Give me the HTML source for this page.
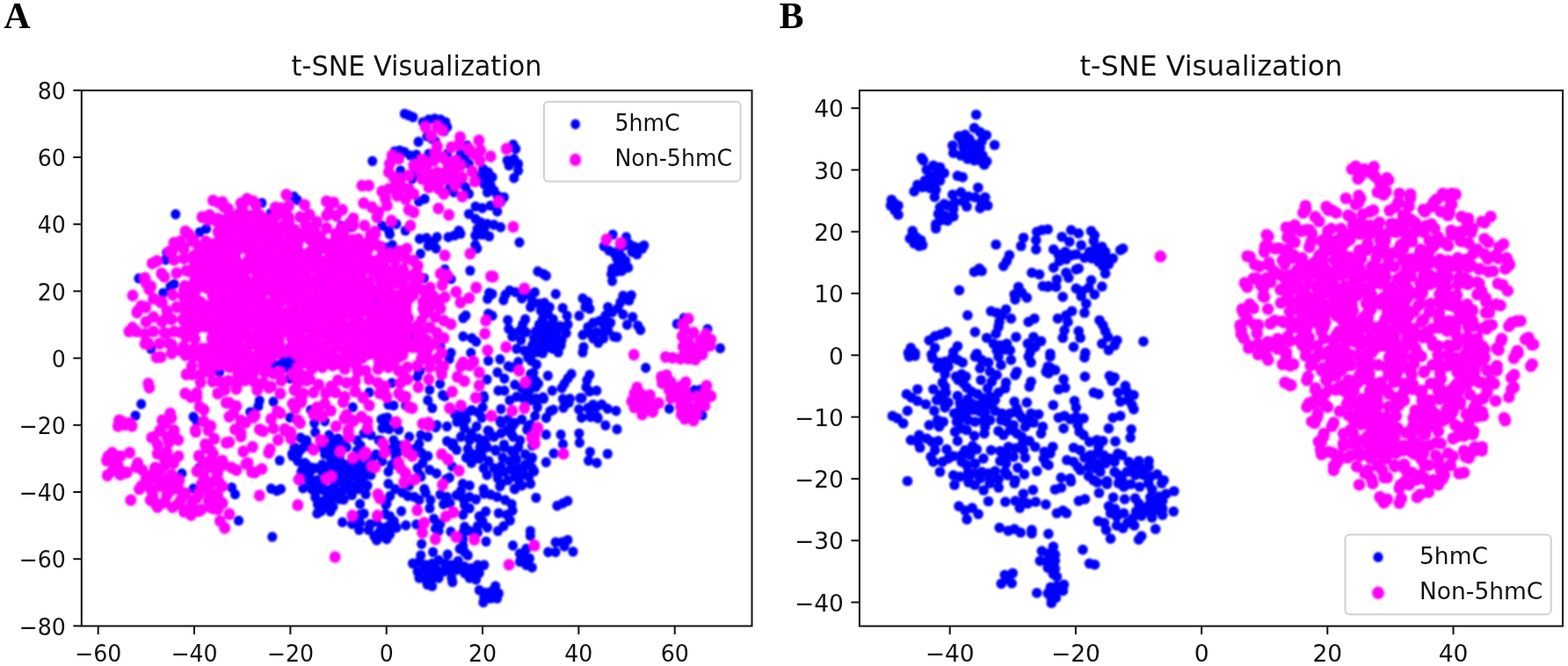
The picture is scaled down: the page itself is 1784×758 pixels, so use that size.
<!DOCTYPE html>
<html lang="en">
<head>
<meta charset="utf-8">
<title>t-SNE Visualization</title>
<style>html,body{margin:0;padding:0;background:#fff;}body{width:1784px;height:758px;overflow:hidden;}svg{display:block;}</style>
</head>
<body>
<svg width="1784" height="758" viewBox="0 0 1784 758">
<defs><filter id="soft" x="0" y="0" width="1784" height="758" filterUnits="userSpaceOnUse"><feGaussianBlur stdDeviation="0.8"/></filter></defs>
<rect width="1784" height="758" fill="#ffffff"/>
<g>
<text transform="translate(4.30,32.20) scale(1.0,1)" font-family='"Liberation Serif", "DejaVu Serif", serif' font-size="42" font-weight="bold" text-anchor="start" fill="#000">A</text>
<text transform="translate(886.50,32.20) scale(1.0,1)" font-family='"Liberation Serif", "DejaVu Serif", serif' font-size="42" font-weight="bold" text-anchor="start" fill="#000">B</text>
<g filter="url(#soft)"><g fill="#0000ff">
<ellipse cx="308.1" cy="242.6" rx="5.58" ry="5.85"/>
<ellipse cx="238.7" cy="276.9" rx="5.58" ry="5.85"/>
<ellipse cx="591.0" cy="275.9" rx="5.58" ry="5.85"/>
<ellipse cx="361.7" cy="286.7" rx="5.58" ry="5.85"/>
<ellipse cx="367.3" cy="322.5" rx="5.58" ry="5.85"/>
<ellipse cx="247.9" cy="342.6" rx="5.58" ry="5.85"/>
<ellipse cx="367.0" cy="342.5" rx="5.58" ry="5.85"/>
<ellipse cx="427.7" cy="342.9" rx="5.58" ry="5.85"/>
<ellipse cx="267.5" cy="353.8" rx="5.58" ry="5.85"/>
<ellipse cx="287.4" cy="353.0" rx="5.58" ry="5.85"/>
<ellipse cx="337.8" cy="354.0" rx="5.58" ry="5.85"/>
<ellipse cx="296.7" cy="373.1" rx="5.58" ry="5.85"/>
<ellipse cx="469.2" cy="383.9" rx="5.58" ry="5.85"/>
<ellipse cx="296.9" cy="393.6" rx="5.58" ry="5.85"/>
<ellipse cx="321.7" cy="404.6" rx="5.58" ry="5.85"/>
<ellipse cx="323.2" cy="404.4" rx="5.58" ry="5.85"/>
<ellipse cx="329.4" cy="404.7" rx="5.58" ry="5.85"/>
<ellipse cx="311.0" cy="413.6" rx="5.58" ry="5.85"/>
<ellipse cx="320.7" cy="413.8" rx="5.58" ry="5.85"/>
<ellipse cx="323.9" cy="418.8" rx="5.58" ry="5.85"/>
<ellipse cx="328.0" cy="413.5" rx="5.58" ry="5.85"/>
<ellipse cx="333.0" cy="411.1" rx="5.58" ry="5.85"/>
<ellipse cx="249.7" cy="423.6" rx="5.58" ry="5.85"/>
<ellipse cx="611.5" cy="454.9" rx="5.58" ry="5.85"/>
<ellipse cx="609.7" cy="453.7" rx="5.58" ry="5.85"/>
<ellipse cx="618.6" cy="453.8" rx="5.58" ry="5.85"/>
<ellipse cx="617.8" cy="452.1" rx="5.58" ry="5.85"/>
<ellipse cx="640.4" cy="454.1" rx="5.58" ry="5.85"/>
<ellipse cx="648.4" cy="453.9" rx="5.58" ry="5.85"/>
<ellipse cx="647.1" cy="458.4" rx="5.58" ry="5.85"/>
<ellipse cx="660.0" cy="453.2" rx="5.58" ry="5.85"/>
<ellipse cx="662.0" cy="453.1" rx="5.58" ry="5.85"/>
<ellipse cx="611.4" cy="463.3" rx="5.58" ry="5.85"/>
<ellipse cx="629.4" cy="466.3" rx="5.58" ry="5.85"/>
<ellipse cx="625.9" cy="468.0" rx="5.58" ry="5.85"/>
<ellipse cx="641.0" cy="464.2" rx="5.58" ry="5.85"/>
<ellipse cx="658.7" cy="465.9" rx="5.58" ry="5.85"/>
<ellipse cx="668.9" cy="464.3" rx="5.58" ry="5.85"/>
<ellipse cx="674.7" cy="460.5" rx="5.58" ry="5.85"/>
<ellipse cx="678.1" cy="463.7" rx="5.58" ry="5.85"/>
<ellipse cx="684.7" cy="460.4" rx="5.58" ry="5.85"/>
<ellipse cx="691.2" cy="465.1" rx="5.58" ry="5.85"/>
<ellipse cx="608.7" cy="473.4" rx="5.58" ry="5.85"/>
<ellipse cx="621.4" cy="475.7" rx="5.58" ry="5.85"/>
<ellipse cx="661.7" cy="475.4" rx="5.58" ry="5.85"/>
<ellipse cx="672.0" cy="474.7" rx="5.58" ry="5.85"/>
<ellipse cx="671.7" cy="472.5" rx="5.58" ry="5.85"/>
<ellipse cx="679.6" cy="474.5" rx="5.58" ry="5.85"/>
<ellipse cx="680.2" cy="476.0" rx="5.58" ry="5.85"/>
<ellipse cx="688.9" cy="484.2" rx="5.58" ry="5.85"/>
<ellipse cx="621.3" cy="494.6" rx="5.58" ry="5.85"/>
<ellipse cx="638.1" cy="494.7" rx="5.58" ry="5.85"/>
<ellipse cx="658.9" cy="493.3" rx="5.58" ry="5.85"/>
<ellipse cx="640.5" cy="505.7" rx="5.58" ry="5.85"/>
<ellipse cx="659.4" cy="503.9" rx="5.58" ry="5.85"/>
<ellipse cx="630.1" cy="516.0" rx="5.58" ry="5.85"/>
<ellipse cx="671.4" cy="514.3" rx="5.58" ry="5.85"/>
<ellipse cx="691.3" cy="516.5" rx="5.58" ry="5.85"/>
<ellipse cx="318.2" cy="524.0" rx="5.58" ry="5.85"/>
<ellipse cx="621.3" cy="526.1" rx="5.58" ry="5.85"/>
<ellipse cx="669.6" cy="524.3" rx="5.58" ry="5.85"/>
<ellipse cx="679.1" cy="526.9" rx="5.58" ry="5.85"/>
<ellipse cx="319.5" cy="556.6" rx="5.58" ry="5.85"/>
<ellipse cx="358.7" cy="566.1" rx="5.58" ry="5.85"/>
<ellipse cx="364.9" cy="571.1" rx="5.58" ry="5.85"/>
<ellipse cx="372.1" cy="565.0" rx="5.58" ry="5.85"/>
<ellipse cx="375.4" cy="568.5" rx="5.58" ry="5.85"/>
<ellipse cx="379.3" cy="566.2" rx="5.58" ry="5.85"/>
<ellipse cx="386.4" cy="568.2" rx="5.58" ry="5.85"/>
<ellipse cx="388.8" cy="564.8" rx="5.58" ry="5.85"/>
<ellipse cx="391.1" cy="568.7" rx="5.58" ry="5.85"/>
<ellipse cx="361.4" cy="574.1" rx="5.58" ry="5.85"/>
<ellipse cx="365.3" cy="581.9" rx="5.58" ry="5.85"/>
<ellipse cx="370.1" cy="575.1" rx="5.58" ry="5.85"/>
<ellipse cx="376.0" cy="582.1" rx="5.58" ry="5.85"/>
<ellipse cx="379.0" cy="576.9" rx="5.58" ry="5.85"/>
<ellipse cx="409.6" cy="573.7" rx="5.58" ry="5.85"/>
<ellipse cx="439.0" cy="574.6" rx="5.58" ry="5.85"/>
<ellipse cx="360.9" cy="584.4" rx="5.58" ry="5.85"/>
<ellipse cx="409.4" cy="586.1" rx="5.58" ry="5.85"/>
<ellipse cx="414.1" cy="584.7" rx="5.58" ry="5.85"/>
<ellipse cx="438.4" cy="585.1" rx="5.58" ry="5.85"/>
<ellipse cx="389.6" cy="594.4" rx="5.58" ry="5.85"/>
<ellipse cx="400.6" cy="596.4" rx="5.58" ry="5.85"/>
<ellipse cx="409.6" cy="595.0" rx="5.58" ry="5.85"/>
<ellipse cx="405.5" cy="595.6" rx="5.58" ry="5.85"/>
<ellipse cx="421.0" cy="596.7" rx="5.58" ry="5.85"/>
<ellipse cx="420.6" cy="598.0" rx="5.58" ry="5.85"/>
<ellipse cx="428.5" cy="593.9" rx="5.58" ry="5.85"/>
<ellipse cx="434.6" cy="600.9" rx="5.58" ry="5.85"/>
<ellipse cx="408.6" cy="603.1" rx="5.58" ry="5.85"/>
<ellipse cx="419.4" cy="603.2" rx="5.58" ry="5.85"/>
<ellipse cx="425.9" cy="610.3" rx="5.58" ry="5.85"/>
<ellipse cx="431.6" cy="605.5" rx="5.58" ry="5.85"/>
<ellipse cx="434.8" cy="609.1" rx="5.58" ry="5.85"/>
<ellipse cx="428.6" cy="614.9" rx="5.58" ry="5.85"/>
<ellipse cx="430.5" cy="612.1" rx="5.58" ry="5.85"/>
<ellipse cx="160.7" cy="459.8" rx="5.58" ry="5.85"/>
<ellipse cx="154.1" cy="473.0" rx="5.58" ry="5.85"/>
<ellipse cx="220.1" cy="474.3" rx="5.58" ry="5.85"/>
<ellipse cx="224.0" cy="479.6" rx="5.58" ry="5.85"/>
<ellipse cx="295.3" cy="455.8" rx="5.58" ry="5.85"/>
<ellipse cx="293.9" cy="462.4" rx="5.58" ry="5.85"/>
<ellipse cx="284.7" cy="469.0" rx="5.58" ry="5.85"/>
<ellipse cx="311.1" cy="457.2" rx="5.58" ry="5.85"/>
<ellipse cx="206.9" cy="538.9" rx="5.58" ry="5.85"/>
<ellipse cx="226.6" cy="532.3" rx="5.58" ry="5.85"/>
<ellipse cx="220.1" cy="556.1" rx="5.58" ry="5.85"/>
<ellipse cx="263.6" cy="554.8" rx="5.58" ry="5.85"/>
<ellipse cx="267.5" cy="562.7" rx="5.58" ry="5.85"/>
<ellipse cx="308.4" cy="556.1" rx="5.58" ry="5.85"/>
<ellipse cx="315.0" cy="558.7" rx="5.58" ry="5.85"/>
<ellipse cx="271.5" cy="592.5" rx="5.58" ry="5.85"/>
<ellipse cx="309.8" cy="611.0" rx="5.58" ry="5.85"/>
<ellipse cx="705.9" cy="344.0" rx="5.58" ry="5.85"/>
<ellipse cx="715.8" cy="342.0" rx="5.58" ry="5.85"/>
<ellipse cx="703.0" cy="350.9" rx="5.58" ry="5.85"/>
<ellipse cx="708.9" cy="357.8" rx="5.58" ry="5.85"/>
<ellipse cx="719.8" cy="360.8" rx="5.58" ry="5.85"/>
<ellipse cx="713.5" cy="369.7" rx="5.58" ry="5.85"/>
<ellipse cx="725.7" cy="370.7" rx="5.58" ry="5.85"/>
<ellipse cx="728.7" cy="375.6" rx="5.58" ry="5.85"/>
<ellipse cx="702.0" cy="383.6" rx="5.58" ry="5.85"/>
<ellipse cx="734.7" cy="418.6" rx="5.58" ry="5.85"/>
<ellipse cx="770.3" cy="368.7" rx="5.58" ry="5.85"/>
<ellipse cx="778.2" cy="361.8" rx="5.58" ry="5.85"/>
<ellipse cx="805.0" cy="374.7" rx="5.58" ry="5.85"/>
<ellipse cx="819.4" cy="396.4" rx="5.58" ry="5.85"/>
<ellipse cx="761.4" cy="465.1" rx="5.58" ry="5.85"/>
<ellipse cx="790.1" cy="444.0" rx="5.58" ry="5.85"/>
<ellipse cx="798.0" cy="443.0" rx="5.58" ry="5.85"/>
<ellipse cx="799.0" cy="472.7" rx="5.58" ry="5.85"/>
<ellipse cx="701.0" cy="467.7" rx="5.58" ry="5.85"/>
<ellipse cx="702.0" cy="488.5" rx="5.58" ry="5.85"/>
<ellipse cx="611.9" cy="308.9" rx="5.58" ry="5.85"/>
<ellipse cx="618.4" cy="311.9" rx="5.58" ry="5.85"/>
<ellipse cx="621.4" cy="313.9" rx="5.58" ry="5.85"/>
<ellipse cx="696.6" cy="305.9" rx="5.58" ry="5.85"/>
<ellipse cx="695.6" cy="311.9" rx="5.58" ry="5.85"/>
<ellipse cx="696.6" cy="319.8" rx="5.58" ry="5.85"/>
<ellipse cx="632.3" cy="334.7" rx="5.58" ry="5.85"/>
<ellipse cx="560.0" cy="334.7" rx="5.58" ry="5.85"/>
<ellipse cx="574.9" cy="335.6" rx="5.58" ry="5.85"/>
<ellipse cx="579.8" cy="330.7" rx="5.58" ry="5.85"/>
<ellipse cx="586.7" cy="332.7" rx="5.58" ry="5.85"/>
<ellipse cx="572.9" cy="341.6" rx="5.58" ry="5.85"/>
<ellipse cx="593.7" cy="339.6" rx="5.58" ry="5.85"/>
<ellipse cx="602.6" cy="335.6" rx="5.58" ry="5.85"/>
<ellipse cx="608.5" cy="332.7" rx="5.58" ry="5.85"/>
<ellipse cx="605.5" cy="342.6" rx="5.58" ry="5.85"/>
<ellipse cx="613.5" cy="345.5" rx="5.58" ry="5.85"/>
<ellipse cx="619.4" cy="344.6" rx="5.58" ry="5.85"/>
<ellipse cx="625.3" cy="349.5" rx="5.58" ry="5.85"/>
<ellipse cx="603.6" cy="349.5" rx="5.58" ry="5.85"/>
<ellipse cx="640.2" cy="350.5" rx="5.58" ry="5.85"/>
<ellipse cx="645.1" cy="359.4" rx="5.58" ry="5.85"/>
<ellipse cx="646.1" cy="369.3" rx="5.58" ry="5.85"/>
<ellipse cx="644.2" cy="379.2" rx="5.58" ry="5.85"/>
<ellipse cx="639.2" cy="387.1" rx="5.58" ry="5.85"/>
<ellipse cx="615.4" cy="353.5" rx="5.58" ry="5.85"/>
<ellipse cx="623.4" cy="357.4" rx="5.58" ry="5.85"/>
<ellipse cx="629.3" cy="363.4" rx="5.58" ry="5.85"/>
<ellipse cx="617.4" cy="363.4" rx="5.58" ry="5.85"/>
<ellipse cx="613.5" cy="369.3" rx="5.58" ry="5.85"/>
<ellipse cx="621.4" cy="370.3" rx="5.58" ry="5.85"/>
<ellipse cx="629.3" cy="371.3" rx="5.58" ry="5.85"/>
<ellipse cx="637.2" cy="371.3" rx="5.58" ry="5.85"/>
<ellipse cx="609.5" cy="377.2" rx="5.58" ry="5.85"/>
<ellipse cx="617.4" cy="378.2" rx="5.58" ry="5.85"/>
<ellipse cx="625.3" cy="379.2" rx="5.58" ry="5.85"/>
<ellipse cx="633.3" cy="379.2" rx="5.58" ry="5.85"/>
<ellipse cx="607.5" cy="385.1" rx="5.58" ry="5.85"/>
<ellipse cx="615.4" cy="387.1" rx="5.58" ry="5.85"/>
<ellipse cx="623.4" cy="387.1" rx="5.58" ry="5.85"/>
<ellipse cx="631.3" cy="388.1" rx="5.58" ry="5.85"/>
<ellipse cx="638.2" cy="393.1" rx="5.58" ry="5.85"/>
<ellipse cx="605.5" cy="393.1" rx="5.58" ry="5.85"/>
<ellipse cx="613.5" cy="395.0" rx="5.58" ry="5.85"/>
<ellipse cx="621.4" cy="396.0" rx="5.58" ry="5.85"/>
<ellipse cx="629.3" cy="397.0" rx="5.58" ry="5.85"/>
<ellipse cx="635.2" cy="401.0" rx="5.58" ry="5.85"/>
<ellipse cx="617.4" cy="402.0" rx="5.58" ry="5.85"/>
<ellipse cx="609.5" cy="401.0" rx="5.58" ry="5.85"/>
<ellipse cx="602.6" cy="399.0" rx="5.58" ry="5.85"/>
<ellipse cx="597.6" cy="363.4" rx="5.58" ry="5.85"/>
<ellipse cx="594.7" cy="369.3" rx="5.58" ry="5.85"/>
<ellipse cx="577.8" cy="364.4" rx="5.58" ry="5.85"/>
<ellipse cx="578.8" cy="374.3" rx="5.58" ry="5.85"/>
<ellipse cx="584.8" cy="379.2" rx="5.58" ry="5.85"/>
<ellipse cx="591.7" cy="376.2" rx="5.58" ry="5.85"/>
<ellipse cx="598.6" cy="378.2" rx="5.58" ry="5.85"/>
<ellipse cx="582.8" cy="383.2" rx="5.58" ry="5.85"/>
<ellipse cx="592.7" cy="387.1" rx="5.58" ry="5.85"/>
<ellipse cx="587.7" cy="397.0" rx="5.58" ry="5.85"/>
<ellipse cx="596.6" cy="399.0" rx="5.58" ry="5.85"/>
<ellipse cx="600.6" cy="406.9" rx="5.58" ry="5.85"/>
<ellipse cx="604.6" cy="410.9" rx="5.58" ry="5.85"/>
<ellipse cx="610.5" cy="414.9" rx="5.58" ry="5.85"/>
<ellipse cx="589.7" cy="411.9" rx="5.58" ry="5.85"/>
<ellipse cx="663.0" cy="339.6" rx="5.58" ry="5.85"/>
<ellipse cx="668.9" cy="343.6" rx="5.58" ry="5.85"/>
<ellipse cx="670.9" cy="351.5" rx="5.58" ry="5.85"/>
<ellipse cx="665.9" cy="349.5" rx="5.58" ry="5.85"/>
<ellipse cx="659.0" cy="359.4" rx="5.58" ry="5.85"/>
<ellipse cx="691.7" cy="349.5" rx="5.58" ry="5.85"/>
<ellipse cx="696.6" cy="355.4" rx="5.58" ry="5.85"/>
<ellipse cx="688.7" cy="359.4" rx="5.58" ry="5.85"/>
<ellipse cx="668.9" cy="372.3" rx="5.58" ry="5.85"/>
<ellipse cx="674.9" cy="367.3" rx="5.58" ry="5.85"/>
<ellipse cx="681.8" cy="365.3" rx="5.58" ry="5.85"/>
<ellipse cx="686.7" cy="369.3" rx="5.58" ry="5.85"/>
<ellipse cx="694.7" cy="367.3" rx="5.58" ry="5.85"/>
<ellipse cx="663.0" cy="381.2" rx="5.58" ry="5.85"/>
<ellipse cx="670.9" cy="379.2" rx="5.58" ry="5.85"/>
<ellipse cx="678.8" cy="378.2" rx="5.58" ry="5.85"/>
<ellipse cx="686.7" cy="379.2" rx="5.58" ry="5.85"/>
<ellipse cx="691.7" cy="376.2" rx="5.58" ry="5.85"/>
<ellipse cx="674.9" cy="385.1" rx="5.58" ry="5.85"/>
<ellipse cx="680.8" cy="390.1" rx="5.58" ry="5.85"/>
<ellipse cx="686.7" cy="385.1" rx="5.58" ry="5.85"/>
<ellipse cx="698.6" cy="383.2" rx="5.58" ry="5.85"/>
<ellipse cx="664.0" cy="395.0" rx="5.58" ry="5.85"/>
<ellipse cx="663.0" cy="401.0" rx="5.58" ry="5.85"/>
<ellipse cx="568.9" cy="408.9" rx="5.58" ry="5.85"/>
<ellipse cx="623.4" cy="427.7" rx="5.58" ry="5.85"/>
<ellipse cx="612.5" cy="436.6" rx="5.58" ry="5.85"/>
<ellipse cx="609.5" cy="440.6" rx="5.58" ry="5.85"/>
<ellipse cx="628.3" cy="444.6" rx="5.58" ry="5.85"/>
<ellipse cx="650.1" cy="425.7" rx="5.58" ry="5.85"/>
<ellipse cx="646.1" cy="430.7" rx="5.58" ry="5.85"/>
<ellipse cx="642.2" cy="436.6" rx="5.58" ry="5.85"/>
<ellipse cx="639.2" cy="441.6" rx="5.58" ry="5.85"/>
<ellipse cx="670.9" cy="426.7" rx="5.58" ry="5.85"/>
<ellipse cx="667.9" cy="432.7" rx="5.58" ry="5.85"/>
<ellipse cx="666.9" cy="440.6" rx="5.58" ry="5.85"/>
<ellipse cx="670.9" cy="445.5" rx="5.58" ry="5.85"/>
<ellipse cx="678.8" cy="444.6" rx="5.58" ry="5.85"/>
<ellipse cx="560.0" cy="359.4" rx="5.58" ry="5.85"/>
<ellipse cx="460.4" cy="129.5" rx="5.58" ry="5.85"/>
<ellipse cx="465.1" cy="131.4" rx="5.58" ry="5.85"/>
<ellipse cx="469.9" cy="133.3" rx="5.58" ry="5.85"/>
<ellipse cx="481.3" cy="139.0" rx="5.58" ry="5.85"/>
<ellipse cx="487.9" cy="136.2" rx="5.58" ry="5.85"/>
<ellipse cx="494.6" cy="135.2" rx="5.58" ry="5.85"/>
<ellipse cx="501.2" cy="136.2" rx="5.58" ry="5.85"/>
<ellipse cx="506.9" cy="139.0" rx="5.58" ry="5.85"/>
<ellipse cx="508.8" cy="144.7" rx="5.58" ry="5.85"/>
<ellipse cx="505.0" cy="149.5" rx="5.58" ry="5.85"/>
<ellipse cx="486.0" cy="155.2" rx="5.58" ry="5.85"/>
<ellipse cx="491.7" cy="158.0" rx="5.58" ry="5.85"/>
<ellipse cx="476.1" cy="161.4" rx="5.58" ry="5.85"/>
<ellipse cx="423.7" cy="183.3" rx="5.58" ry="5.85"/>
<ellipse cx="449.0" cy="172.3" rx="5.58" ry="5.85"/>
<ellipse cx="454.7" cy="171.3" rx="5.58" ry="5.85"/>
<ellipse cx="460.4" cy="173.2" rx="5.58" ry="5.85"/>
<ellipse cx="467.0" cy="177.0" rx="5.58" ry="5.85"/>
<ellipse cx="473.7" cy="176.1" rx="5.58" ry="5.85"/>
<ellipse cx="455.6" cy="194.1" rx="5.58" ry="5.85"/>
<ellipse cx="468.9" cy="203.6" rx="5.58" ry="5.85"/>
<ellipse cx="474.6" cy="197.9" rx="5.58" ry="5.85"/>
<ellipse cx="487.9" cy="175.1" rx="5.58" ry="5.85"/>
<ellipse cx="495.5" cy="160.9" rx="5.58" ry="5.85"/>
<ellipse cx="508.8" cy="175.1" rx="5.58" ry="5.85"/>
<ellipse cx="524.0" cy="175.1" rx="5.58" ry="5.85"/>
<ellipse cx="528.8" cy="180.8" rx="5.58" ry="5.85"/>
<ellipse cx="531.6" cy="165.6" rx="5.58" ry="5.85"/>
<ellipse cx="533.5" cy="186.5" rx="5.58" ry="5.85"/>
<ellipse cx="516.4" cy="218.8" rx="5.58" ry="5.85"/>
<ellipse cx="511.7" cy="213.1" rx="5.58" ry="5.85"/>
<ellipse cx="529.7" cy="213.1" rx="5.58" ry="5.85"/>
<ellipse cx="533.5" cy="220.7" rx="5.58" ry="5.85"/>
<ellipse cx="525.9" cy="209.3" rx="5.58" ry="5.85"/>
<ellipse cx="483.2" cy="226.4" rx="5.58" ry="5.85"/>
<ellipse cx="476.5" cy="229.3" rx="5.58" ry="5.85"/>
<ellipse cx="583.9" cy="164.7" rx="5.58" ry="5.85"/>
<ellipse cx="586.7" cy="169.4" rx="5.58" ry="5.85"/>
<ellipse cx="577.2" cy="182.7" rx="5.58" ry="5.85"/>
<ellipse cx="584.8" cy="180.8" rx="5.58" ry="5.85"/>
<ellipse cx="589.6" cy="186.5" rx="5.58" ry="5.85"/>
<ellipse cx="579.1" cy="188.4" rx="5.58" ry="5.85"/>
<ellipse cx="589.6" cy="194.1" rx="5.58" ry="5.85"/>
<ellipse cx="584.8" cy="202.7" rx="5.58" ry="5.85"/>
<ellipse cx="549.7" cy="192.2" rx="5.58" ry="5.85"/>
<ellipse cx="555.4" cy="196.0" rx="5.58" ry="5.85"/>
<ellipse cx="546.8" cy="199.8" rx="5.58" ry="5.85"/>
<ellipse cx="554.4" cy="203.6" rx="5.58" ry="5.85"/>
<ellipse cx="560.1" cy="201.7" rx="5.58" ry="5.85"/>
<ellipse cx="550.6" cy="209.3" rx="5.58" ry="5.85"/>
<ellipse cx="558.2" cy="211.2" rx="5.58" ry="5.85"/>
<ellipse cx="562.0" cy="216.9" rx="5.58" ry="5.85"/>
<ellipse cx="554.4" cy="218.8" rx="5.58" ry="5.85"/>
<ellipse cx="565.8" cy="222.6" rx="5.58" ry="5.85"/>
<ellipse cx="573.4" cy="224.5" rx="5.58" ry="5.85"/>
<ellipse cx="569.6" cy="230.2" rx="5.58" ry="5.85"/>
<ellipse cx="541.1" cy="235.0" rx="5.58" ry="5.85"/>
<ellipse cx="548.7" cy="236.9" rx="5.58" ry="5.85"/>
<ellipse cx="558.2" cy="234.0" rx="5.58" ry="5.85"/>
<ellipse cx="565.8" cy="240.7" rx="5.58" ry="5.85"/>
<ellipse cx="533.5" cy="243.5" rx="5.58" ry="5.85"/>
<ellipse cx="541.1" cy="249.2" rx="5.58" ry="5.85"/>
<ellipse cx="546.8" cy="253.0" rx="5.58" ry="5.85"/>
<ellipse cx="554.4" cy="254.9" rx="5.58" ry="5.85"/>
<ellipse cx="562.0" cy="255.9" rx="5.58" ry="5.85"/>
<ellipse cx="569.6" cy="258.7" rx="5.58" ry="5.85"/>
<ellipse cx="543.0" cy="260.6" rx="5.58" ry="5.85"/>
<ellipse cx="550.6" cy="261.6" rx="5.58" ry="5.85"/>
<ellipse cx="522.1" cy="262.5" rx="5.58" ry="5.85"/>
<ellipse cx="434.7" cy="256.8" rx="5.58" ry="5.85"/>
<ellipse cx="450.9" cy="254.9" rx="5.58" ry="5.85"/>
<ellipse cx="442.3" cy="262.5" rx="5.58" ry="5.85"/>
<ellipse cx="461.3" cy="262.5" rx="5.58" ry="5.85"/>
<ellipse cx="477.4" cy="271.9" rx="5.58" ry="5.85"/>
<ellipse cx="485.3" cy="270.9" rx="5.58" ry="5.85"/>
<ellipse cx="493.3" cy="274.9" rx="5.58" ry="5.85"/>
<ellipse cx="497.2" cy="269.9" rx="5.58" ry="5.85"/>
<ellipse cx="496.2" cy="282.8" rx="5.58" ry="5.85"/>
<ellipse cx="478.4" cy="288.8" rx="5.58" ry="5.85"/>
<ellipse cx="487.3" cy="279.8" rx="5.58" ry="5.85"/>
<ellipse cx="510.1" cy="269.9" rx="5.58" ry="5.85"/>
<ellipse cx="517.0" cy="268.0" rx="5.58" ry="5.85"/>
<ellipse cx="524.0" cy="266.0" rx="5.58" ry="5.85"/>
<ellipse cx="540.8" cy="268.0" rx="5.58" ry="5.85"/>
<ellipse cx="548.7" cy="267.0" rx="5.58" ry="5.85"/>
<ellipse cx="556.6" cy="269.0" rx="5.58" ry="5.85"/>
<ellipse cx="540.8" cy="278.9" rx="5.58" ry="5.85"/>
<ellipse cx="542.8" cy="282.8" rx="5.58" ry="5.85"/>
<ellipse cx="506.1" cy="306.6" rx="5.58" ry="5.85"/>
<ellipse cx="513.1" cy="317.5" rx="5.58" ry="5.85"/>
<ellipse cx="482.4" cy="316.5" rx="5.58" ry="5.85"/>
<ellipse cx="534.9" cy="308.0" rx="5.58" ry="5.85"/>
<ellipse cx="556.6" cy="333.3" rx="5.58" ry="5.85"/>
<ellipse cx="554.7" cy="340.2" rx="5.58" ry="5.85"/>
<ellipse cx="529.9" cy="359.0" rx="5.58" ry="5.85"/>
<ellipse cx="526.9" cy="362.0" rx="5.58" ry="5.85"/>
<ellipse cx="555.6" cy="357.1" rx="5.58" ry="5.85"/>
<ellipse cx="526.9" cy="382.8" rx="5.58" ry="5.85"/>
<ellipse cx="536.8" cy="384.8" rx="5.58" ry="5.85"/>
<ellipse cx="541.8" cy="388.8" rx="5.58" ry="5.85"/>
<ellipse cx="470.5" cy="385.8" rx="5.58" ry="5.85"/>
<ellipse cx="501.2" cy="394.7" rx="5.58" ry="5.85"/>
<ellipse cx="513.1" cy="401.6" rx="5.58" ry="5.85"/>
<ellipse cx="511.1" cy="408.6" rx="5.58" ry="5.85"/>
<ellipse cx="535.8" cy="401.6" rx="5.58" ry="5.85"/>
<ellipse cx="555.6" cy="410.5" rx="5.58" ry="5.85"/>
<ellipse cx="443.7" cy="564.6" rx="5.58" ry="5.85"/>
<ellipse cx="440.0" cy="572.9" rx="5.58" ry="5.85"/>
<ellipse cx="464.0" cy="564.6" rx="5.58" ry="5.85"/>
<ellipse cx="471.4" cy="565.5" rx="5.58" ry="5.85"/>
<ellipse cx="476.9" cy="569.2" rx="5.58" ry="5.85"/>
<ellipse cx="484.3" cy="560.9" rx="5.58" ry="5.85"/>
<ellipse cx="456.6" cy="581.8" rx="5.58" ry="5.85"/>
<ellipse cx="489.9" cy="569.2" rx="5.58" ry="5.85"/>
<ellipse cx="488.9" cy="578.5" rx="5.58" ry="5.85"/>
<ellipse cx="443.7" cy="587.7" rx="5.58" ry="5.85"/>
<ellipse cx="448.3" cy="593.2" rx="5.58" ry="5.85"/>
<ellipse cx="441.8" cy="598.8" rx="5.58" ry="5.85"/>
<ellipse cx="451.1" cy="600.6" rx="5.58" ry="5.85"/>
<ellipse cx="443.7" cy="608.0" rx="5.58" ry="5.85"/>
<ellipse cx="440.0" cy="613.6" rx="5.58" ry="5.85"/>
<ellipse cx="461.8" cy="597.9" rx="5.58" ry="5.85"/>
<ellipse cx="473.8" cy="596.9" rx="5.58" ry="5.85"/>
<ellipse cx="500.9" cy="562.8" rx="5.58" ry="5.85"/>
<ellipse cx="508.3" cy="565.5" rx="5.58" ry="5.85"/>
<ellipse cx="504.6" cy="573.9" rx="5.58" ry="5.85"/>
<ellipse cx="512.0" cy="572.9" rx="5.58" ry="5.85"/>
<ellipse cx="519.4" cy="563.7" rx="5.58" ry="5.85"/>
<ellipse cx="526.8" cy="567.4" rx="5.58" ry="5.85"/>
<ellipse cx="534.2" cy="565.5" rx="5.58" ry="5.85"/>
<ellipse cx="541.6" cy="568.3" rx="5.58" ry="5.85"/>
<ellipse cx="528.6" cy="574.8" rx="5.58" ry="5.85"/>
<ellipse cx="534.2" cy="578.5" rx="5.58" ry="5.85"/>
<ellipse cx="526.8" cy="585.9" rx="5.58" ry="5.85"/>
<ellipse cx="550.8" cy="561.8" rx="5.58" ry="5.85"/>
<ellipse cx="558.2" cy="562.8" rx="5.58" ry="5.85"/>
<ellipse cx="565.6" cy="565.5" rx="5.58" ry="5.85"/>
<ellipse cx="574.8" cy="569.2" rx="5.58" ry="5.85"/>
<ellipse cx="582.2" cy="573.9" rx="5.58" ry="5.85"/>
<ellipse cx="583.1" cy="581.2" rx="5.58" ry="5.85"/>
<ellipse cx="567.4" cy="584.0" rx="5.58" ry="5.85"/>
<ellipse cx="576.7" cy="585.9" rx="5.58" ry="5.85"/>
<ellipse cx="580.4" cy="592.3" rx="5.58" ry="5.85"/>
<ellipse cx="573.0" cy="598.8" rx="5.58" ry="5.85"/>
<ellipse cx="566.5" cy="604.3" rx="5.58" ry="5.85"/>
<ellipse cx="552.7" cy="582.2" rx="5.58" ry="5.85"/>
<ellipse cx="545.3" cy="587.7" rx="5.58" ry="5.85"/>
<ellipse cx="549.0" cy="593.2" rx="5.58" ry="5.85"/>
<ellipse cx="543.4" cy="598.8" rx="5.58" ry="5.85"/>
<ellipse cx="554.5" cy="600.3" rx="5.58" ry="5.85"/>
<ellipse cx="493.6" cy="590.5" rx="5.58" ry="5.85"/>
<ellipse cx="500.9" cy="596.0" rx="5.58" ry="5.85"/>
<ellipse cx="495.4" cy="601.6" rx="5.58" ry="5.85"/>
<ellipse cx="499.1" cy="604.3" rx="5.58" ry="5.85"/>
<ellipse cx="512.9" cy="605.2" rx="5.58" ry="5.85"/>
<ellipse cx="528.6" cy="599.7" rx="5.58" ry="5.85"/>
<ellipse cx="526.8" cy="606.2" rx="5.58" ry="5.85"/>
<ellipse cx="534.2" cy="604.3" rx="5.58" ry="5.85"/>
<ellipse cx="543.4" cy="606.2" rx="5.58" ry="5.85"/>
<ellipse cx="526.8" cy="613.6" rx="5.58" ry="5.85"/>
<ellipse cx="553.0" cy="616.3" rx="5.58" ry="5.85"/>
<ellipse cx="526.8" cy="620.9" rx="5.58" ry="5.85"/>
<ellipse cx="528.6" cy="628.3" rx="5.58" ry="5.85"/>
<ellipse cx="532.3" cy="632.0" rx="5.58" ry="5.85"/>
<ellipse cx="523.1" cy="624.6" rx="5.58" ry="5.85"/>
<ellipse cx="479.7" cy="619.1" rx="5.58" ry="5.85"/>
<ellipse cx="492.6" cy="628.3" rx="5.58" ry="5.85"/>
<ellipse cx="478.8" cy="632.0" rx="5.58" ry="5.85"/>
<ellipse cx="509.3" cy="631.1" rx="5.58" ry="5.85"/>
<ellipse cx="469.5" cy="641.3" rx="5.58" ry="5.85"/>
<ellipse cx="476.9" cy="639.4" rx="5.58" ry="5.85"/>
<ellipse cx="484.3" cy="643.1" rx="5.58" ry="5.85"/>
<ellipse cx="491.7" cy="641.3" rx="5.58" ry="5.85"/>
<ellipse cx="499.1" cy="637.6" rx="5.58" ry="5.85"/>
<ellipse cx="506.5" cy="641.3" rx="5.58" ry="5.85"/>
<ellipse cx="513.9" cy="643.1" rx="5.58" ry="5.85"/>
<ellipse cx="521.3" cy="638.5" rx="5.58" ry="5.85"/>
<ellipse cx="528.6" cy="644.9" rx="5.58" ry="5.85"/>
<ellipse cx="536.0" cy="646.8" rx="5.58" ry="5.85"/>
<ellipse cx="543.4" cy="643.1" rx="5.58" ry="5.85"/>
<ellipse cx="550.8" cy="643.1" rx="5.58" ry="5.85"/>
<ellipse cx="475.1" cy="650.5" rx="5.58" ry="5.85"/>
<ellipse cx="482.5" cy="648.6" rx="5.58" ry="5.85"/>
<ellipse cx="489.9" cy="650.5" rx="5.58" ry="5.85"/>
<ellipse cx="497.2" cy="648.6" rx="5.58" ry="5.85"/>
<ellipse cx="504.6" cy="650.5" rx="5.58" ry="5.85"/>
<ellipse cx="512.0" cy="650.5" rx="5.58" ry="5.85"/>
<ellipse cx="519.4" cy="648.6" rx="5.58" ry="5.85"/>
<ellipse cx="528.6" cy="652.3" rx="5.58" ry="5.85"/>
<ellipse cx="537.9" cy="654.2" rx="5.58" ry="5.85"/>
<ellipse cx="545.3" cy="652.3" rx="5.58" ry="5.85"/>
<ellipse cx="476.9" cy="657.9" rx="5.58" ry="5.85"/>
<ellipse cx="484.3" cy="659.7" rx="5.58" ry="5.85"/>
<ellipse cx="491.7" cy="657.9" rx="5.58" ry="5.85"/>
<ellipse cx="499.1" cy="657.9" rx="5.58" ry="5.85"/>
<ellipse cx="513.9" cy="657.9" rx="5.58" ry="5.85"/>
<ellipse cx="534.2" cy="657.9" rx="5.58" ry="5.85"/>
<ellipse cx="541.6" cy="659.7" rx="5.58" ry="5.85"/>
<ellipse cx="486.2" cy="665.3" rx="5.58" ry="5.85"/>
<ellipse cx="491.7" cy="667.1" rx="5.58" ry="5.85"/>
<ellipse cx="514.8" cy="662.5" rx="5.58" ry="5.85"/>
<ellipse cx="545.3" cy="671.7" rx="5.58" ry="5.85"/>
<ellipse cx="552.7" cy="674.5" rx="5.58" ry="5.85"/>
<ellipse cx="560.0" cy="672.7" rx="5.58" ry="5.85"/>
<ellipse cx="563.7" cy="667.1" rx="5.58" ry="5.85"/>
<ellipse cx="567.4" cy="675.4" rx="5.58" ry="5.85"/>
<ellipse cx="550.8" cy="680.0" rx="5.58" ry="5.85"/>
<ellipse cx="558.2" cy="681.0" rx="5.58" ry="5.85"/>
<ellipse cx="565.6" cy="681.0" rx="5.58" ry="5.85"/>
<ellipse cx="549.9" cy="685.6" rx="5.58" ry="5.85"/>
<ellipse cx="609.9" cy="566.5" rx="5.58" ry="5.85"/>
<ellipse cx="603.4" cy="604.3" rx="5.58" ry="5.85"/>
<ellipse cx="603.4" cy="609.9" rx="5.58" ry="5.85"/>
<ellipse cx="583.5" cy="620.9" rx="5.58" ry="5.85"/>
<ellipse cx="591.4" cy="630.2" rx="5.58" ry="5.85"/>
<ellipse cx="598.8" cy="624.6" rx="5.58" ry="5.85"/>
<ellipse cx="597.0" cy="633.9" rx="5.58" ry="5.85"/>
<ellipse cx="602.5" cy="635.7" rx="5.58" ry="5.85"/>
<ellipse cx="591.4" cy="639.4" rx="5.58" ry="5.85"/>
<ellipse cx="598.8" cy="643.1" rx="5.58" ry="5.85"/>
<ellipse cx="605.3" cy="645.9" rx="5.58" ry="5.85"/>
<ellipse cx="633.9" cy="575.7" rx="5.58" ry="5.85"/>
<ellipse cx="640.4" cy="572.9" rx="5.58" ry="5.85"/>
<ellipse cx="645.9" cy="570.2" rx="5.58" ry="5.85"/>
<ellipse cx="632.1" cy="617.2" rx="5.58" ry="5.85"/>
<ellipse cx="639.4" cy="617.2" rx="5.58" ry="5.85"/>
<ellipse cx="645.9" cy="614.5" rx="5.58" ry="5.85"/>
<ellipse cx="642.2" cy="621.9" rx="5.58" ry="5.85"/>
<ellipse cx="623.7" cy="628.3" rx="5.58" ry="5.85"/>
<ellipse cx="632.1" cy="628.3" rx="5.58" ry="5.85"/>
<ellipse cx="652.0" cy="627.8" rx="5.58" ry="5.85"/>
<ellipse cx="697.2" cy="267.0" rx="5.58" ry="5.85"/>
<ellipse cx="712.5" cy="269.9" rx="5.58" ry="5.85"/>
<ellipse cx="687.1" cy="280.1" rx="5.58" ry="5.85"/>
<ellipse cx="692.9" cy="285.2" rx="5.58" ry="5.85"/>
<ellipse cx="698.7" cy="288.1" rx="5.58" ry="5.85"/>
<ellipse cx="704.5" cy="283.7" rx="5.58" ry="5.85"/>
<ellipse cx="710.3" cy="279.3" rx="5.58" ry="5.85"/>
<ellipse cx="716.1" cy="277.9" rx="5.58" ry="5.85"/>
<ellipse cx="721.9" cy="280.8" rx="5.58" ry="5.85"/>
<ellipse cx="727.7" cy="282.2" rx="5.58" ry="5.85"/>
<ellipse cx="732.8" cy="279.3" rx="5.58" ry="5.85"/>
<ellipse cx="730.6" cy="283.0" rx="5.58" ry="5.85"/>
<ellipse cx="724.8" cy="289.5" rx="5.58" ry="5.85"/>
<ellipse cx="719.0" cy="286.6" rx="5.58" ry="5.85"/>
<ellipse cx="701.6" cy="293.9" rx="5.58" ry="5.85"/>
<ellipse cx="707.4" cy="292.4" rx="5.58" ry="5.85"/>
<ellipse cx="711.8" cy="296.8" rx="5.58" ry="5.85"/>
<ellipse cx="703.0" cy="301.1" rx="5.58" ry="5.85"/>
<ellipse cx="708.9" cy="302.6" rx="5.58" ry="5.85"/>
<ellipse cx="714.7" cy="304.7" rx="5.58" ry="5.85"/>
<ellipse cx="701.6" cy="309.1" rx="5.58" ry="5.85"/>
<ellipse cx="707.4" cy="308.4" rx="5.58" ry="5.85"/>
<ellipse cx="708.9" cy="336.7" rx="5.58" ry="5.85"/>
<ellipse cx="718.3" cy="336.0" rx="5.58" ry="5.85"/>
<ellipse cx="199.8" cy="243.8" rx="5.58" ry="5.85"/>
<ellipse cx="227.2" cy="264.3" rx="5.58" ry="5.85"/>
<ellipse cx="234.7" cy="260.4" rx="5.58" ry="5.85"/>
<ellipse cx="297.8" cy="231.0" rx="5.58" ry="5.85"/>
<ellipse cx="244.6" cy="280.3" rx="5.58" ry="5.85"/>
<ellipse cx="188.4" cy="295.6" rx="5.58" ry="5.85"/>
<ellipse cx="189.8" cy="287.3" rx="5.58" ry="5.85"/>
<ellipse cx="157.9" cy="316.9" rx="5.58" ry="5.85"/>
<ellipse cx="185.6" cy="333.5" rx="5.58" ry="5.85"/>
<ellipse cx="193.9" cy="326.0" rx="5.58" ry="5.85"/>
<ellipse cx="198.1" cy="323.3" rx="5.58" ry="5.85"/>
<ellipse cx="171.8" cy="397.2" rx="5.58" ry="5.85"/>
<ellipse cx="252.1" cy="249.9" rx="5.58" ry="5.85"/>
<ellipse cx="334.1" cy="223.5" rx="5.58" ry="5.85"/>
<ellipse cx="338.2" cy="227.7" rx="5.58" ry="5.85"/>
<ellipse cx="388.1" cy="256.8" rx="5.58" ry="5.85"/>
<ellipse cx="400.6" cy="258.7" rx="5.58" ry="5.85"/>
<ellipse cx="443.5" cy="266.5" rx="5.58" ry="5.85"/>
<ellipse cx="438.0" cy="281.7" rx="5.58" ry="5.85"/>
<ellipse cx="446.3" cy="278.9" rx="5.58" ry="5.85"/>
<ellipse cx="330.0" cy="430.8" rx="5.58" ry="5.85"/>
<ellipse cx="330.2" cy="429.2" rx="5.58" ry="5.85"/>
<ellipse cx="329.0" cy="418.0" rx="5.58" ry="5.85"/>
<ellipse cx="420.1" cy="446.7" rx="5.58" ry="5.85"/>
<ellipse cx="445.8" cy="435.8" rx="5.58" ry="5.85"/>
<ellipse cx="401.3" cy="463.5" rx="5.58" ry="5.85"/>
<ellipse cx="441.9" cy="460.5" rx="5.58" ry="5.85"/>
<ellipse cx="447.8" cy="461.5" rx="5.58" ry="5.85"/>
<ellipse cx="461.7" cy="461.5" rx="5.58" ry="5.85"/>
<ellipse cx="353.7" cy="466.5" rx="5.58" ry="5.85"/>
<ellipse cx="330.0" cy="475.4" rx="5.58" ry="5.85"/>
<ellipse cx="357.7" cy="481.3" rx="5.58" ry="5.85"/>
<ellipse cx="369.6" cy="479.3" rx="5.58" ry="5.85"/>
<ellipse cx="433.9" cy="477.4" rx="5.58" ry="5.85"/>
<ellipse cx="437.0" cy="476.1" rx="5.58" ry="5.85"/>
<ellipse cx="440.9" cy="475.4" rx="5.58" ry="5.85"/>
<ellipse cx="438.8" cy="478.9" rx="5.58" ry="5.85"/>
<ellipse cx="434.9" cy="487.3" rx="5.58" ry="5.85"/>
<ellipse cx="442.8" cy="488.3" rx="5.58" ry="5.85"/>
<ellipse cx="440.1" cy="486.8" rx="5.58" ry="5.85"/>
<ellipse cx="453.7" cy="489.2" rx="5.58" ry="5.85"/>
<ellipse cx="358.7" cy="492.2" rx="5.58" ry="5.85"/>
<ellipse cx="341.9" cy="498.2" rx="5.58" ry="5.85"/>
<ellipse cx="348.8" cy="501.1" rx="5.58" ry="5.85"/>
<ellipse cx="374.5" cy="495.2" rx="5.58" ry="5.85"/>
<ellipse cx="384.4" cy="499.1" rx="5.58" ry="5.85"/>
<ellipse cx="384.6" cy="499.5" rx="5.58" ry="5.85"/>
<ellipse cx="392.3" cy="502.1" rx="5.58" ry="5.85"/>
<ellipse cx="406.2" cy="501.1" rx="5.58" ry="5.85"/>
<ellipse cx="414.1" cy="493.2" rx="5.58" ry="5.85"/>
<ellipse cx="422.0" cy="495.2" rx="5.58" ry="5.85"/>
<ellipse cx="431.0" cy="501.1" rx="5.58" ry="5.85"/>
<ellipse cx="433.8" cy="501.7" rx="5.58" ry="5.85"/>
<ellipse cx="447.8" cy="501.1" rx="5.58" ry="5.85"/>
<ellipse cx="465.6" cy="497.2" rx="5.58" ry="5.85"/>
<ellipse cx="334.9" cy="509.0" rx="5.58" ry="5.85"/>
<ellipse cx="342.8" cy="511.0" rx="5.58" ry="5.85"/>
<ellipse cx="332.9" cy="519.0" rx="5.58" ry="5.85"/>
<ellipse cx="332.4" cy="516.4" rx="5.58" ry="5.85"/>
<ellipse cx="338.9" cy="524.9" rx="5.58" ry="5.85"/>
<ellipse cx="372.5" cy="507.1" rx="5.58" ry="5.85"/>
<ellipse cx="378.5" cy="513.0" rx="5.58" ry="5.85"/>
<ellipse cx="381.6" cy="512.8" rx="5.58" ry="5.85"/>
<ellipse cx="369.6" cy="517.0" rx="5.58" ry="5.85"/>
<ellipse cx="376.5" cy="522.9" rx="5.58" ry="5.85"/>
<ellipse cx="394.3" cy="509.0" rx="5.58" ry="5.85"/>
<ellipse cx="406.2" cy="513.0" rx="5.58" ry="5.85"/>
<ellipse cx="410.2" cy="507.1" rx="5.58" ry="5.85"/>
<ellipse cx="428.0" cy="517.0" rx="5.58" ry="5.85"/>
<ellipse cx="424.6" cy="519.8" rx="5.58" ry="5.85"/>
<ellipse cx="445.8" cy="511.0" rx="5.58" ry="5.85"/>
<ellipse cx="447.1" cy="511.9" rx="5.58" ry="5.85"/>
<ellipse cx="449.8" cy="519.0" rx="5.58" ry="5.85"/>
<ellipse cx="452.0" cy="516.2" rx="5.58" ry="5.85"/>
<ellipse cx="455.7" cy="507.1" rx="5.58" ry="5.85"/>
<ellipse cx="343.8" cy="534.8" rx="5.58" ry="5.85"/>
<ellipse cx="342.7" cy="537.7" rx="5.58" ry="5.85"/>
<ellipse cx="352.7" cy="536.8" rx="5.58" ry="5.85"/>
<ellipse cx="358.7" cy="532.8" rx="5.58" ry="5.85"/>
<ellipse cx="355.0" cy="532.4" rx="5.58" ry="5.85"/>
<ellipse cx="366.6" cy="528.9" rx="5.58" ry="5.85"/>
<ellipse cx="374.5" cy="532.8" rx="5.58" ry="5.85"/>
<ellipse cx="382.4" cy="530.8" rx="5.58" ry="5.85"/>
<ellipse cx="382.9" cy="533.3" rx="5.58" ry="5.85"/>
<ellipse cx="390.4" cy="528.9" rx="5.58" ry="5.85"/>
<ellipse cx="396.3" cy="536.8" rx="5.58" ry="5.85"/>
<ellipse cx="408.2" cy="528.9" rx="5.58" ry="5.85"/>
<ellipse cx="414.1" cy="532.8" rx="5.58" ry="5.85"/>
<ellipse cx="411.4" cy="534.2" rx="5.58" ry="5.85"/>
<ellipse cx="420.1" cy="524.9" rx="5.58" ry="5.85"/>
<ellipse cx="434.9" cy="524.9" rx="5.58" ry="5.85"/>
<ellipse cx="441.9" cy="536.8" rx="5.58" ry="5.85"/>
<ellipse cx="445.8" cy="528.9" rx="5.58" ry="5.85"/>
<ellipse cx="344.8" cy="555.6" rx="5.58" ry="5.85"/>
<ellipse cx="354.7" cy="552.6" rx="5.58" ry="5.85"/>
<ellipse cx="358.5" cy="551.5" rx="5.58" ry="5.85"/>
<ellipse cx="360.7" cy="546.7" rx="5.58" ry="5.85"/>
<ellipse cx="382.4" cy="542.7" rx="5.58" ry="5.85"/>
<ellipse cx="388.4" cy="548.7" rx="5.58" ry="5.85"/>
<ellipse cx="394.3" cy="544.7" rx="5.58" ry="5.85"/>
<ellipse cx="380.5" cy="552.6" rx="5.58" ry="5.85"/>
<ellipse cx="392.3" cy="556.6" rx="5.58" ry="5.85"/>
<ellipse cx="404.2" cy="542.7" rx="5.58" ry="5.85"/>
<ellipse cx="412.1" cy="546.7" rx="5.58" ry="5.85"/>
<ellipse cx="412.7" cy="550.0" rx="5.58" ry="5.85"/>
<ellipse cx="418.1" cy="552.6" rx="5.58" ry="5.85"/>
<ellipse cx="408.2" cy="556.6" rx="5.58" ry="5.85"/>
<ellipse cx="358.7" cy="560.5" rx="5.58" ry="5.85"/>
<ellipse cx="354.7" cy="556.6" rx="5.58" ry="5.85"/>
<ellipse cx="370.6" cy="558.6" rx="5.58" ry="5.85"/>
<ellipse cx="367.4" cy="557.5" rx="5.58" ry="5.85"/>
<ellipse cx="422.0" cy="540.7" rx="5.58" ry="5.85"/>
<ellipse cx="449.8" cy="556.6" rx="5.58" ry="5.85"/>
<ellipse cx="457.7" cy="560.5" rx="5.58" ry="5.85"/>
<ellipse cx="441.9" cy="550.6" rx="5.58" ry="5.85"/>
<ellipse cx="465.6" cy="552.6" rx="5.58" ry="5.85"/>
<ellipse cx="400.3" cy="563.5" rx="5.58" ry="5.85"/>
<ellipse cx="400.1" cy="561.0" rx="5.58" ry="5.85"/>
<ellipse cx="416.1" cy="562.5" rx="5.58" ry="5.85"/>
<ellipse cx="366.6" cy="536.8" rx="5.58" ry="5.85"/>
<ellipse cx="374.5" cy="540.7" rx="5.58" ry="5.85"/>
<ellipse cx="386.4" cy="536.8" rx="5.58" ry="5.85"/>
<ellipse cx="389.9" cy="534.1" rx="5.58" ry="5.85"/>
<ellipse cx="378.5" cy="524.9" rx="5.58" ry="5.85"/>
<ellipse cx="376.8" cy="527.7" rx="5.58" ry="5.85"/>
<ellipse cx="386.4" cy="520.9" rx="5.58" ry="5.85"/>
<ellipse cx="392.3" cy="532.8" rx="5.58" ry="5.85"/>
<ellipse cx="393.2" cy="528.9" rx="5.58" ry="5.85"/>
<ellipse cx="400.3" cy="532.8" rx="5.58" ry="5.85"/>
<ellipse cx="402.2" cy="524.9" rx="5.58" ry="5.85"/>
<ellipse cx="405.5" cy="524.4" rx="5.58" ry="5.85"/>
<ellipse cx="410.2" cy="538.8" rx="5.58" ry="5.85"/>
<ellipse cx="409.2" cy="535.9" rx="5.58" ry="5.85"/>
<ellipse cx="386.4" cy="544.7" rx="5.58" ry="5.85"/>
<ellipse cx="387.4" cy="541.6" rx="5.58" ry="5.85"/>
<ellipse cx="396.3" cy="550.6" rx="5.58" ry="5.85"/>
<ellipse cx="404.2" cy="552.6" rx="5.58" ry="5.85"/>
<ellipse cx="376.5" cy="556.6" rx="5.58" ry="5.85"/>
<ellipse cx="375.9" cy="558.4" rx="5.58" ry="5.85"/>
<ellipse cx="386.4" cy="560.5" rx="5.58" ry="5.85"/>
<ellipse cx="386.4" cy="560.3" rx="5.58" ry="5.85"/>
<ellipse cx="366.6" cy="552.6" rx="5.58" ry="5.85"/>
<ellipse cx="352.7" cy="544.7" rx="5.58" ry="5.85"/>
<ellipse cx="350.5" cy="545.5" rx="5.58" ry="5.85"/>
<ellipse cx="348.8" cy="528.9" rx="5.58" ry="5.85"/>
<ellipse cx="346.8" cy="526.8" rx="5.58" ry="5.85"/>
<ellipse cx="338.9" cy="517.0" rx="5.58" ry="5.85"/>
<ellipse cx="346.8" cy="507.1" rx="5.58" ry="5.85"/>
<ellipse cx="352.7" cy="509.0" rx="5.58" ry="5.85"/>
<ellipse cx="378.5" cy="505.1" rx="5.58" ry="5.85"/>
<ellipse cx="386.4" cy="507.1" rx="5.58" ry="5.85"/>
<ellipse cx="382.7" cy="503.9" rx="5.58" ry="5.85"/>
<ellipse cx="366.6" cy="509.0" rx="5.58" ry="5.85"/>
<ellipse cx="412.1" cy="520.9" rx="5.58" ry="5.85"/>
<ellipse cx="416.1" cy="540.7" rx="5.58" ry="5.85"/>
<ellipse cx="475.9" cy="420.9" rx="5.58" ry="5.85"/>
<ellipse cx="478.0" cy="422.1" rx="5.58" ry="5.85"/>
<ellipse cx="474.9" cy="428.9" rx="5.58" ry="5.85"/>
<ellipse cx="500.7" cy="436.8" rx="5.58" ry="5.85"/>
<ellipse cx="488.8" cy="443.7" rx="5.58" ry="5.85"/>
<ellipse cx="503.6" cy="449.6" rx="5.58" ry="5.85"/>
<ellipse cx="506.1" cy="451.0" rx="5.58" ry="5.85"/>
<ellipse cx="486.8" cy="455.6" rx="5.58" ry="5.85"/>
<ellipse cx="491.8" cy="464.5" rx="5.58" ry="5.85"/>
<ellipse cx="554.1" cy="431.8" rx="5.58" ry="5.85"/>
<ellipse cx="550.2" cy="450.6" rx="5.58" ry="5.85"/>
<ellipse cx="550.7" cy="452.8" rx="5.58" ry="5.85"/>
<ellipse cx="566.0" cy="423.9" rx="5.58" ry="5.85"/>
<ellipse cx="573.9" cy="430.8" rx="5.58" ry="5.85"/>
<ellipse cx="567.0" cy="444.7" rx="5.58" ry="5.85"/>
<ellipse cx="573.9" cy="444.7" rx="5.58" ry="5.85"/>
<ellipse cx="581.9" cy="418.0" rx="5.58" ry="5.85"/>
<ellipse cx="578.3" cy="416.8" rx="5.58" ry="5.85"/>
<ellipse cx="585.8" cy="437.8" rx="5.58" ry="5.85"/>
<ellipse cx="593.7" cy="441.7" rx="5.58" ry="5.85"/>
<ellipse cx="601.7" cy="445.7" rx="5.58" ry="5.85"/>
<ellipse cx="605.6" cy="435.8" rx="5.58" ry="5.85"/>
<ellipse cx="609.4" cy="433.3" rx="5.58" ry="5.85"/>
<ellipse cx="603.6" cy="425.9" rx="5.58" ry="5.85"/>
<ellipse cx="606.9" cy="424.3" rx="5.58" ry="5.85"/>
<ellipse cx="579.9" cy="455.6" rx="5.58" ry="5.85"/>
<ellipse cx="587.8" cy="451.6" rx="5.58" ry="5.85"/>
<ellipse cx="595.7" cy="453.6" rx="5.58" ry="5.85"/>
<ellipse cx="597.3" cy="450.9" rx="5.58" ry="5.85"/>
<ellipse cx="603.6" cy="455.6" rx="5.58" ry="5.85"/>
<ellipse cx="570.0" cy="465.5" rx="5.58" ry="5.85"/>
<ellipse cx="549.2" cy="463.5" rx="5.58" ry="5.85"/>
<ellipse cx="517.5" cy="471.4" rx="5.58" ry="5.85"/>
<ellipse cx="526.4" cy="469.4" rx="5.58" ry="5.85"/>
<ellipse cx="535.3" cy="467.5" rx="5.58" ry="5.85"/>
<ellipse cx="536.8" cy="466.9" rx="5.58" ry="5.85"/>
<ellipse cx="544.2" cy="469.4" rx="5.58" ry="5.85"/>
<ellipse cx="548.2" cy="475.4" rx="5.58" ry="5.85"/>
<ellipse cx="522.4" cy="479.3" rx="5.58" ry="5.85"/>
<ellipse cx="519.9" cy="480.1" rx="5.58" ry="5.85"/>
<ellipse cx="530.4" cy="477.4" rx="5.58" ry="5.85"/>
<ellipse cx="528.4" cy="487.3" rx="5.58" ry="5.85"/>
<ellipse cx="536.3" cy="493.2" rx="5.58" ry="5.85"/>
<ellipse cx="535.5" cy="496.1" rx="5.58" ry="5.85"/>
<ellipse cx="542.2" cy="485.3" rx="5.58" ry="5.85"/>
<ellipse cx="555.1" cy="490.2" rx="5.58" ry="5.85"/>
<ellipse cx="556.6" cy="490.8" rx="5.58" ry="5.85"/>
<ellipse cx="524.4" cy="497.2" rx="5.58" ry="5.85"/>
<ellipse cx="534.3" cy="501.1" rx="5.58" ry="5.85"/>
<ellipse cx="544.2" cy="499.1" rx="5.58" ry="5.85"/>
<ellipse cx="552.1" cy="501.1" rx="5.58" ry="5.85"/>
<ellipse cx="562.0" cy="497.2" rx="5.58" ry="5.85"/>
<ellipse cx="570.0" cy="493.2" rx="5.58" ry="5.85"/>
<ellipse cx="577.9" cy="489.2" rx="5.58" ry="5.85"/>
<ellipse cx="577.0" cy="490.2" rx="5.58" ry="5.85"/>
<ellipse cx="585.8" cy="481.3" rx="5.58" ry="5.85"/>
<ellipse cx="583.1" cy="485.0" rx="5.58" ry="5.85"/>
<ellipse cx="577.9" cy="477.4" rx="5.58" ry="5.85"/>
<ellipse cx="570.0" cy="481.3" rx="5.58" ry="5.85"/>
<ellipse cx="568.7" cy="478.8" rx="5.58" ry="5.85"/>
<ellipse cx="593.7" cy="477.4" rx="5.58" ry="5.85"/>
<ellipse cx="603.6" cy="483.3" rx="5.58" ry="5.85"/>
<ellipse cx="600.6" cy="486.0" rx="5.58" ry="5.85"/>
<ellipse cx="599.7" cy="489.2" rx="5.58" ry="5.85"/>
<ellipse cx="583.8" cy="497.2" rx="5.58" ry="5.85"/>
<ellipse cx="582.1" cy="494.3" rx="5.58" ry="5.85"/>
<ellipse cx="591.8" cy="501.1" rx="5.58" ry="5.85"/>
<ellipse cx="605.6" cy="507.1" rx="5.58" ry="5.85"/>
<ellipse cx="508.6" cy="485.3" rx="5.58" ry="5.85"/>
<ellipse cx="495.7" cy="486.3" rx="5.58" ry="5.85"/>
<ellipse cx="497.0" cy="483.9" rx="5.58" ry="5.85"/>
<ellipse cx="478.9" cy="495.2" rx="5.58" ry="5.85"/>
<ellipse cx="486.8" cy="497.2" rx="5.58" ry="5.85"/>
<ellipse cx="476.9" cy="505.1" rx="5.58" ry="5.85"/>
<ellipse cx="508.6" cy="502.1" rx="5.58" ry="5.85"/>
<ellipse cx="514.5" cy="507.1" rx="5.58" ry="5.85"/>
<ellipse cx="515.8" cy="504.6" rx="5.58" ry="5.85"/>
<ellipse cx="519.5" cy="512.0" rx="5.58" ry="5.85"/>
<ellipse cx="532.3" cy="511.0" rx="5.58" ry="5.85"/>
<ellipse cx="546.2" cy="509.0" rx="5.58" ry="5.85"/>
<ellipse cx="546.9" cy="512.4" rx="5.58" ry="5.85"/>
<ellipse cx="554.1" cy="509.0" rx="5.58" ry="5.85"/>
<ellipse cx="550.1" cy="510.2" rx="5.58" ry="5.85"/>
<ellipse cx="538.3" cy="517.0" rx="5.58" ry="5.85"/>
<ellipse cx="530.4" cy="520.9" rx="5.58" ry="5.85"/>
<ellipse cx="536.3" cy="526.9" rx="5.58" ry="5.85"/>
<ellipse cx="536.6" cy="526.1" rx="5.58" ry="5.85"/>
<ellipse cx="548.2" cy="519.0" rx="5.58" ry="5.85"/>
<ellipse cx="545.3" cy="522.0" rx="5.58" ry="5.85"/>
<ellipse cx="556.1" cy="524.9" rx="5.58" ry="5.85"/>
<ellipse cx="564.0" cy="513.0" rx="5.58" ry="5.85"/>
<ellipse cx="563.7" cy="512.1" rx="5.58" ry="5.85"/>
<ellipse cx="573.9" cy="509.0" rx="5.58" ry="5.85"/>
<ellipse cx="573.5" cy="506.0" rx="5.58" ry="5.85"/>
<ellipse cx="581.9" cy="513.0" rx="5.58" ry="5.85"/>
<ellipse cx="585.4" cy="515.9" rx="5.58" ry="5.85"/>
<ellipse cx="589.8" cy="509.0" rx="5.58" ry="5.85"/>
<ellipse cx="597.7" cy="517.0" rx="5.58" ry="5.85"/>
<ellipse cx="605.6" cy="520.9" rx="5.58" ry="5.85"/>
<ellipse cx="604.5" cy="522.5" rx="5.58" ry="5.85"/>
<ellipse cx="572.0" cy="520.9" rx="5.58" ry="5.85"/>
<ellipse cx="579.9" cy="524.9" rx="5.58" ry="5.85"/>
<ellipse cx="587.8" cy="522.9" rx="5.58" ry="5.85"/>
<ellipse cx="570.0" cy="530.8" rx="5.58" ry="5.85"/>
<ellipse cx="562.0" cy="532.8" rx="5.58" ry="5.85"/>
<ellipse cx="550.2" cy="532.8" rx="5.58" ry="5.85"/>
<ellipse cx="554.1" cy="540.7" rx="5.58" ry="5.85"/>
<ellipse cx="566.0" cy="540.7" rx="5.58" ry="5.85"/>
<ellipse cx="566.3" cy="544.0" rx="5.58" ry="5.85"/>
<ellipse cx="573.9" cy="536.8" rx="5.58" ry="5.85"/>
<ellipse cx="581.9" cy="532.8" rx="5.58" ry="5.85"/>
<ellipse cx="583.2" cy="535.2" rx="5.58" ry="5.85"/>
<ellipse cx="589.8" cy="532.8" rx="5.58" ry="5.85"/>
<ellipse cx="597.7" cy="528.9" rx="5.58" ry="5.85"/>
<ellipse cx="605.6" cy="532.8" rx="5.58" ry="5.85"/>
<ellipse cx="607.7" cy="536.4" rx="5.58" ry="5.85"/>
<ellipse cx="577.9" cy="546.7" rx="5.58" ry="5.85"/>
<ellipse cx="585.8" cy="542.7" rx="5.58" ry="5.85"/>
<ellipse cx="593.7" cy="540.7" rx="5.58" ry="5.85"/>
<ellipse cx="595.0" cy="537.2" rx="5.58" ry="5.85"/>
<ellipse cx="601.7" cy="542.7" rx="5.58" ry="5.85"/>
<ellipse cx="570.0" cy="550.6" rx="5.58" ry="5.85"/>
<ellipse cx="568.8" cy="553.5" rx="5.58" ry="5.85"/>
<ellipse cx="593.7" cy="552.6" rx="5.58" ry="5.85"/>
<ellipse cx="591.2" cy="550.1" rx="5.58" ry="5.85"/>
<ellipse cx="603.6" cy="550.6" rx="5.58" ry="5.85"/>
<ellipse cx="471.0" cy="511.0" rx="5.58" ry="5.85"/>
<ellipse cx="478.9" cy="515.0" rx="5.58" ry="5.85"/>
<ellipse cx="479.8" cy="515.9" rx="5.58" ry="5.85"/>
<ellipse cx="486.8" cy="519.0" rx="5.58" ry="5.85"/>
<ellipse cx="480.9" cy="526.9" rx="5.58" ry="5.85"/>
<ellipse cx="474.9" cy="532.8" rx="5.58" ry="5.85"/>
<ellipse cx="488.8" cy="534.8" rx="5.58" ry="5.85"/>
<ellipse cx="496.7" cy="538.8" rx="5.58" ry="5.85"/>
<ellipse cx="514.5" cy="530.8" rx="5.58" ry="5.85"/>
<ellipse cx="507.6" cy="545.7" rx="5.58" ry="5.85"/>
<ellipse cx="511.4" cy="543.6" rx="5.58" ry="5.85"/>
<ellipse cx="478.9" cy="542.7" rx="5.58" ry="5.85"/>
<ellipse cx="477.5" cy="540.1" rx="5.58" ry="5.85"/>
<ellipse cx="482.8" cy="556.6" rx="5.58" ry="5.85"/>
<ellipse cx="526.4" cy="550.6" rx="5.58" ry="5.85"/>
<ellipse cx="534.3" cy="552.6" rx="5.58" ry="5.85"/>
<ellipse cx="524.4" cy="558.6" rx="5.58" ry="5.85"/>
<ellipse cx="550.2" cy="556.6" rx="5.58" ry="5.85"/>
<ellipse cx="585.8" cy="556.6" rx="5.58" ry="5.85"/>
<ellipse cx="585.3" cy="556.4" rx="5.58" ry="5.85"/>
</g>
<g fill="#ff00ff">
<ellipse cx="319.5" cy="236.9" rx="6.48" ry="6.8"/>
<ellipse cx="270.5" cy="244.2" rx="6.48" ry="6.8"/>
<ellipse cx="281.5" cy="245.0" rx="6.48" ry="6.8"/>
<ellipse cx="288.3" cy="245.0" rx="6.48" ry="6.8"/>
<ellipse cx="297.9" cy="247.2" rx="6.48" ry="6.8"/>
<ellipse cx="302.8" cy="249.8" rx="6.48" ry="6.8"/>
<ellipse cx="312.2" cy="247.5" rx="6.48" ry="6.8"/>
<ellipse cx="322.1" cy="244.0" rx="6.48" ry="6.8"/>
<ellipse cx="328.2" cy="247.1" rx="6.48" ry="6.8"/>
<ellipse cx="328.2" cy="249.0" rx="6.48" ry="6.8"/>
<ellipse cx="341.5" cy="247.0" rx="6.48" ry="6.8"/>
<ellipse cx="250.7" cy="254.7" rx="6.48" ry="6.8"/>
<ellipse cx="261.2" cy="253.7" rx="6.48" ry="6.8"/>
<ellipse cx="259.8" cy="252.3" rx="6.48" ry="6.8"/>
<ellipse cx="269.6" cy="255.3" rx="6.48" ry="6.8"/>
<ellipse cx="277.4" cy="262.5" rx="6.48" ry="6.8"/>
<ellipse cx="278.9" cy="255.7" rx="6.48" ry="6.8"/>
<ellipse cx="282.3" cy="257.4" rx="6.48" ry="6.8"/>
<ellipse cx="290.1" cy="256.9" rx="6.48" ry="6.8"/>
<ellipse cx="296.9" cy="262.7" rx="6.48" ry="6.8"/>
<ellipse cx="299.1" cy="256.0" rx="6.48" ry="6.8"/>
<ellipse cx="307.1" cy="259.2" rx="6.48" ry="6.8"/>
<ellipse cx="311.0" cy="256.2" rx="6.48" ry="6.8"/>
<ellipse cx="315.6" cy="262.1" rx="6.48" ry="6.8"/>
<ellipse cx="322.0" cy="257.3" rx="6.48" ry="6.8"/>
<ellipse cx="325.4" cy="258.1" rx="6.48" ry="6.8"/>
<ellipse cx="328.8" cy="253.6" rx="6.48" ry="6.8"/>
<ellipse cx="335.4" cy="261.5" rx="6.48" ry="6.8"/>
<ellipse cx="347.8" cy="255.9" rx="6.48" ry="6.8"/>
<ellipse cx="359.4" cy="255.1" rx="6.48" ry="6.8"/>
<ellipse cx="251.5" cy="267.4" rx="6.48" ry="6.8"/>
<ellipse cx="249.9" cy="268.6" rx="6.48" ry="6.8"/>
<ellipse cx="261.3" cy="265.4" rx="6.48" ry="6.8"/>
<ellipse cx="263.5" cy="267.3" rx="6.48" ry="6.8"/>
<ellipse cx="271.5" cy="263.1" rx="6.48" ry="6.8"/>
<ellipse cx="275.3" cy="273.3" rx="6.48" ry="6.8"/>
<ellipse cx="281.3" cy="267.4" rx="6.48" ry="6.8"/>
<ellipse cx="285.0" cy="270.5" rx="6.48" ry="6.8"/>
<ellipse cx="289.1" cy="265.0" rx="6.48" ry="6.8"/>
<ellipse cx="295.2" cy="266.5" rx="6.48" ry="6.8"/>
<ellipse cx="299.7" cy="264.7" rx="6.48" ry="6.8"/>
<ellipse cx="304.3" cy="272.0" rx="6.48" ry="6.8"/>
<ellipse cx="310.9" cy="265.0" rx="6.48" ry="6.8"/>
<ellipse cx="314.1" cy="267.9" rx="6.48" ry="6.8"/>
<ellipse cx="317.5" cy="263.9" rx="6.48" ry="6.8"/>
<ellipse cx="327.7" cy="272.3" rx="6.48" ry="6.8"/>
<ellipse cx="330.1" cy="267.4" rx="6.48" ry="6.8"/>
<ellipse cx="334.8" cy="272.0" rx="6.48" ry="6.8"/>
<ellipse cx="339.5" cy="266.2" rx="6.48" ry="6.8"/>
<ellipse cx="347.9" cy="268.8" rx="6.48" ry="6.8"/>
<ellipse cx="348.4" cy="265.6" rx="6.48" ry="6.8"/>
<ellipse cx="355.2" cy="269.2" rx="6.48" ry="6.8"/>
<ellipse cx="357.5" cy="264.4" rx="6.48" ry="6.8"/>
<ellipse cx="364.6" cy="269.4" rx="6.48" ry="6.8"/>
<ellipse cx="382.0" cy="266.2" rx="6.48" ry="6.8"/>
<ellipse cx="382.5" cy="266.4" rx="6.48" ry="6.8"/>
<ellipse cx="390.7" cy="265.6" rx="6.48" ry="6.8"/>
<ellipse cx="391.3" cy="266.3" rx="6.48" ry="6.8"/>
<ellipse cx="249.7" cy="277.1" rx="6.48" ry="6.8"/>
<ellipse cx="256.4" cy="280.6" rx="6.48" ry="6.8"/>
<ellipse cx="258.8" cy="275.1" rx="6.48" ry="6.8"/>
<ellipse cx="262.5" cy="281.5" rx="6.48" ry="6.8"/>
<ellipse cx="269.3" cy="276.3" rx="6.48" ry="6.8"/>
<ellipse cx="276.5" cy="281.5" rx="6.48" ry="6.8"/>
<ellipse cx="279.0" cy="273.0" rx="6.48" ry="6.8"/>
<ellipse cx="284.9" cy="277.2" rx="6.48" ry="6.8"/>
<ellipse cx="288.4" cy="272.8" rx="6.48" ry="6.8"/>
<ellipse cx="297.7" cy="278.0" rx="6.48" ry="6.8"/>
<ellipse cx="297.7" cy="276.0" rx="6.48" ry="6.8"/>
<ellipse cx="308.2" cy="280.8" rx="6.48" ry="6.8"/>
<ellipse cx="309.2" cy="276.7" rx="6.48" ry="6.8"/>
<ellipse cx="316.3" cy="277.2" rx="6.48" ry="6.8"/>
<ellipse cx="319.5" cy="275.0" rx="6.48" ry="6.8"/>
<ellipse cx="322.7" cy="278.1" rx="6.48" ry="6.8"/>
<ellipse cx="331.6" cy="274.8" rx="6.48" ry="6.8"/>
<ellipse cx="333.0" cy="281.5" rx="6.48" ry="6.8"/>
<ellipse cx="339.2" cy="275.5" rx="6.48" ry="6.8"/>
<ellipse cx="352.5" cy="272.7" rx="6.48" ry="6.8"/>
<ellipse cx="356.8" cy="282.1" rx="6.48" ry="6.8"/>
<ellipse cx="359.1" cy="274.4" rx="6.48" ry="6.8"/>
<ellipse cx="365.5" cy="282.5" rx="6.48" ry="6.8"/>
<ellipse cx="369.5" cy="276.9" rx="6.48" ry="6.8"/>
<ellipse cx="376.6" cy="277.9" rx="6.48" ry="6.8"/>
<ellipse cx="382.1" cy="272.6" rx="6.48" ry="6.8"/>
<ellipse cx="386.2" cy="276.9" rx="6.48" ry="6.8"/>
<ellipse cx="389.4" cy="273.1" rx="6.48" ry="6.8"/>
<ellipse cx="394.8" cy="282.0" rx="6.48" ry="6.8"/>
<ellipse cx="401.6" cy="273.1" rx="6.48" ry="6.8"/>
<ellipse cx="408.2" cy="276.4" rx="6.48" ry="6.8"/>
<ellipse cx="228.4" cy="286.2" rx="6.48" ry="6.8"/>
<ellipse cx="237.9" cy="282.7" rx="6.48" ry="6.8"/>
<ellipse cx="242.3" cy="283.1" rx="6.48" ry="6.8"/>
<ellipse cx="248.2" cy="286.5" rx="6.48" ry="6.8"/>
<ellipse cx="256.8" cy="292.1" rx="6.48" ry="6.8"/>
<ellipse cx="259.0" cy="284.6" rx="6.48" ry="6.8"/>
<ellipse cx="265.4" cy="288.8" rx="6.48" ry="6.8"/>
<ellipse cx="269.2" cy="286.4" rx="6.48" ry="6.8"/>
<ellipse cx="280.4" cy="283.0" rx="6.48" ry="6.8"/>
<ellipse cx="284.6" cy="293.4" rx="6.48" ry="6.8"/>
<ellipse cx="291.1" cy="286.7" rx="6.48" ry="6.8"/>
<ellipse cx="295.2" cy="292.8" rx="6.48" ry="6.8"/>
<ellipse cx="301.7" cy="284.0" rx="6.48" ry="6.8"/>
<ellipse cx="304.1" cy="290.1" rx="6.48" ry="6.8"/>
<ellipse cx="308.0" cy="284.2" rx="6.48" ry="6.8"/>
<ellipse cx="311.8" cy="292.2" rx="6.48" ry="6.8"/>
<ellipse cx="320.8" cy="284.1" rx="6.48" ry="6.8"/>
<ellipse cx="324.0" cy="288.8" rx="6.48" ry="6.8"/>
<ellipse cx="331.2" cy="285.0" rx="6.48" ry="6.8"/>
<ellipse cx="332.5" cy="292.9" rx="6.48" ry="6.8"/>
<ellipse cx="339.1" cy="284.1" rx="6.48" ry="6.8"/>
<ellipse cx="348.4" cy="289.9" rx="6.48" ry="6.8"/>
<ellipse cx="352.1" cy="287.1" rx="6.48" ry="6.8"/>
<ellipse cx="357.8" cy="291.9" rx="6.48" ry="6.8"/>
<ellipse cx="371.5" cy="283.2" rx="6.48" ry="6.8"/>
<ellipse cx="375.1" cy="290.5" rx="6.48" ry="6.8"/>
<ellipse cx="382.5" cy="286.4" rx="6.48" ry="6.8"/>
<ellipse cx="386.7" cy="289.0" rx="6.48" ry="6.8"/>
<ellipse cx="392.2" cy="285.7" rx="6.48" ry="6.8"/>
<ellipse cx="394.4" cy="289.8" rx="6.48" ry="6.8"/>
<ellipse cx="402.4" cy="285.2" rx="6.48" ry="6.8"/>
<ellipse cx="403.0" cy="287.9" rx="6.48" ry="6.8"/>
<ellipse cx="410.9" cy="285.3" rx="6.48" ry="6.8"/>
<ellipse cx="418.4" cy="284.6" rx="6.48" ry="6.8"/>
<ellipse cx="221.2" cy="297.4" rx="6.48" ry="6.8"/>
<ellipse cx="220.7" cy="295.5" rx="6.48" ry="6.8"/>
<ellipse cx="230.1" cy="295.2" rx="6.48" ry="6.8"/>
<ellipse cx="236.9" cy="302.7" rx="6.48" ry="6.8"/>
<ellipse cx="239.5" cy="295.6" rx="6.48" ry="6.8"/>
<ellipse cx="243.8" cy="298.8" rx="6.48" ry="6.8"/>
<ellipse cx="250.0" cy="295.4" rx="6.48" ry="6.8"/>
<ellipse cx="258.3" cy="297.6" rx="6.48" ry="6.8"/>
<ellipse cx="260.7" cy="297.5" rx="6.48" ry="6.8"/>
<ellipse cx="265.5" cy="299.1" rx="6.48" ry="6.8"/>
<ellipse cx="269.5" cy="297.2" rx="6.48" ry="6.8"/>
<ellipse cx="276.2" cy="302.8" rx="6.48" ry="6.8"/>
<ellipse cx="282.1" cy="296.7" rx="6.48" ry="6.8"/>
<ellipse cx="284.8" cy="302.1" rx="6.48" ry="6.8"/>
<ellipse cx="289.4" cy="296.2" rx="6.48" ry="6.8"/>
<ellipse cx="293.9" cy="299.7" rx="6.48" ry="6.8"/>
<ellipse cx="298.1" cy="294.3" rx="6.48" ry="6.8"/>
<ellipse cx="301.6" cy="297.7" rx="6.48" ry="6.8"/>
<ellipse cx="308.8" cy="296.8" rx="6.48" ry="6.8"/>
<ellipse cx="313.5" cy="303.5" rx="6.48" ry="6.8"/>
<ellipse cx="318.8" cy="295.1" rx="6.48" ry="6.8"/>
<ellipse cx="326.3" cy="299.5" rx="6.48" ry="6.8"/>
<ellipse cx="331.4" cy="294.9" rx="6.48" ry="6.8"/>
<ellipse cx="334.9" cy="303.3" rx="6.48" ry="6.8"/>
<ellipse cx="341.1" cy="293.0" rx="6.48" ry="6.8"/>
<ellipse cx="348.3" cy="298.1" rx="6.48" ry="6.8"/>
<ellipse cx="347.6" cy="293.8" rx="6.48" ry="6.8"/>
<ellipse cx="354.9" cy="302.7" rx="6.48" ry="6.8"/>
<ellipse cx="359.5" cy="296.1" rx="6.48" ry="6.8"/>
<ellipse cx="367.0" cy="297.5" rx="6.48" ry="6.8"/>
<ellipse cx="370.6" cy="297.5" rx="6.48" ry="6.8"/>
<ellipse cx="375.3" cy="300.2" rx="6.48" ry="6.8"/>
<ellipse cx="379.2" cy="297.2" rx="6.48" ry="6.8"/>
<ellipse cx="388.0" cy="295.3" rx="6.48" ry="6.8"/>
<ellipse cx="396.2" cy="297.3" rx="6.48" ry="6.8"/>
<ellipse cx="398.8" cy="293.9" rx="6.48" ry="6.8"/>
<ellipse cx="407.1" cy="302.5" rx="6.48" ry="6.8"/>
<ellipse cx="411.4" cy="295.9" rx="6.48" ry="6.8"/>
<ellipse cx="414.2" cy="301.2" rx="6.48" ry="6.8"/>
<ellipse cx="419.0" cy="295.0" rx="6.48" ry="6.8"/>
<ellipse cx="428.1" cy="296.8" rx="6.48" ry="6.8"/>
<ellipse cx="428.9" cy="299.1" rx="6.48" ry="6.8"/>
<ellipse cx="438.8" cy="295.1" rx="6.48" ry="6.8"/>
<ellipse cx="449.7" cy="296.6" rx="6.48" ry="6.8"/>
<ellipse cx="462.0" cy="294.2" rx="6.48" ry="6.8"/>
<ellipse cx="470.0" cy="296.6" rx="6.48" ry="6.8"/>
<ellipse cx="214.4" cy="308.5" rx="6.48" ry="6.8"/>
<ellipse cx="221.0" cy="303.8" rx="6.48" ry="6.8"/>
<ellipse cx="224.1" cy="309.8" rx="6.48" ry="6.8"/>
<ellipse cx="229.2" cy="305.5" rx="6.48" ry="6.8"/>
<ellipse cx="237.7" cy="311.4" rx="6.48" ry="6.8"/>
<ellipse cx="240.2" cy="302.8" rx="6.48" ry="6.8"/>
<ellipse cx="246.3" cy="311.0" rx="6.48" ry="6.8"/>
<ellipse cx="251.6" cy="307.0" rx="6.48" ry="6.8"/>
<ellipse cx="255.0" cy="308.8" rx="6.48" ry="6.8"/>
<ellipse cx="258.1" cy="303.2" rx="6.48" ry="6.8"/>
<ellipse cx="262.1" cy="310.3" rx="6.48" ry="6.8"/>
<ellipse cx="271.0" cy="305.3" rx="6.48" ry="6.8"/>
<ellipse cx="273.1" cy="307.9" rx="6.48" ry="6.8"/>
<ellipse cx="280.3" cy="306.9" rx="6.48" ry="6.8"/>
<ellipse cx="281.5" cy="306.6" rx="6.48" ry="6.8"/>
<ellipse cx="289.0" cy="305.6" rx="6.48" ry="6.8"/>
<ellipse cx="293.1" cy="311.3" rx="6.48" ry="6.8"/>
<ellipse cx="302.4" cy="304.2" rx="6.48" ry="6.8"/>
<ellipse cx="305.1" cy="306.7" rx="6.48" ry="6.8"/>
<ellipse cx="309.1" cy="303.2" rx="6.48" ry="6.8"/>
<ellipse cx="316.9" cy="311.3" rx="6.48" ry="6.8"/>
<ellipse cx="317.7" cy="302.9" rx="6.48" ry="6.8"/>
<ellipse cx="322.2" cy="308.7" rx="6.48" ry="6.8"/>
<ellipse cx="328.8" cy="302.7" rx="6.48" ry="6.8"/>
<ellipse cx="332.5" cy="309.3" rx="6.48" ry="6.8"/>
<ellipse cx="342.2" cy="305.7" rx="6.48" ry="6.8"/>
<ellipse cx="346.3" cy="308.4" rx="6.48" ry="6.8"/>
<ellipse cx="350.1" cy="304.1" rx="6.48" ry="6.8"/>
<ellipse cx="359.3" cy="306.5" rx="6.48" ry="6.8"/>
<ellipse cx="367.4" cy="310.7" rx="6.48" ry="6.8"/>
<ellipse cx="371.9" cy="304.5" rx="6.48" ry="6.8"/>
<ellipse cx="375.8" cy="310.2" rx="6.48" ry="6.8"/>
<ellipse cx="380.3" cy="305.2" rx="6.48" ry="6.8"/>
<ellipse cx="387.8" cy="310.9" rx="6.48" ry="6.8"/>
<ellipse cx="390.2" cy="302.8" rx="6.48" ry="6.8"/>
<ellipse cx="392.7" cy="308.0" rx="6.48" ry="6.8"/>
<ellipse cx="399.7" cy="305.2" rx="6.48" ry="6.8"/>
<ellipse cx="403.4" cy="310.2" rx="6.48" ry="6.8"/>
<ellipse cx="409.9" cy="304.5" rx="6.48" ry="6.8"/>
<ellipse cx="412.6" cy="309.2" rx="6.48" ry="6.8"/>
<ellipse cx="420.8" cy="305.2" rx="6.48" ry="6.8"/>
<ellipse cx="425.3" cy="312.1" rx="6.48" ry="6.8"/>
<ellipse cx="431.1" cy="305.9" rx="6.48" ry="6.8"/>
<ellipse cx="428.1" cy="306.8" rx="6.48" ry="6.8"/>
<ellipse cx="438.6" cy="306.7" rx="6.48" ry="6.8"/>
<ellipse cx="448.6" cy="306.5" rx="6.48" ry="6.8"/>
<ellipse cx="458.9" cy="306.4" rx="6.48" ry="6.8"/>
<ellipse cx="222.0" cy="315.8" rx="6.48" ry="6.8"/>
<ellipse cx="227.2" cy="318.2" rx="6.48" ry="6.8"/>
<ellipse cx="231.5" cy="313.7" rx="6.48" ry="6.8"/>
<ellipse cx="234.0" cy="317.6" rx="6.48" ry="6.8"/>
<ellipse cx="241.4" cy="317.1" rx="6.48" ry="6.8"/>
<ellipse cx="247.7" cy="318.9" rx="6.48" ry="6.8"/>
<ellipse cx="250.8" cy="317.5" rx="6.48" ry="6.8"/>
<ellipse cx="251.9" cy="319.5" rx="6.48" ry="6.8"/>
<ellipse cx="259.4" cy="314.0" rx="6.48" ry="6.8"/>
<ellipse cx="264.6" cy="321.4" rx="6.48" ry="6.8"/>
<ellipse cx="270.7" cy="315.1" rx="6.48" ry="6.8"/>
<ellipse cx="276.2" cy="322.7" rx="6.48" ry="6.8"/>
<ellipse cx="278.4" cy="315.7" rx="6.48" ry="6.8"/>
<ellipse cx="283.9" cy="321.5" rx="6.48" ry="6.8"/>
<ellipse cx="292.4" cy="312.6" rx="6.48" ry="6.8"/>
<ellipse cx="294.2" cy="322.3" rx="6.48" ry="6.8"/>
<ellipse cx="298.4" cy="316.1" rx="6.48" ry="6.8"/>
<ellipse cx="303.8" cy="323.3" rx="6.48" ry="6.8"/>
<ellipse cx="310.8" cy="316.4" rx="6.48" ry="6.8"/>
<ellipse cx="314.8" cy="319.9" rx="6.48" ry="6.8"/>
<ellipse cx="321.4" cy="316.1" rx="6.48" ry="6.8"/>
<ellipse cx="324.6" cy="320.3" rx="6.48" ry="6.8"/>
<ellipse cx="330.4" cy="317.1" rx="6.48" ry="6.8"/>
<ellipse cx="332.5" cy="319.1" rx="6.48" ry="6.8"/>
<ellipse cx="338.0" cy="312.6" rx="6.48" ry="6.8"/>
<ellipse cx="342.8" cy="321.9" rx="6.48" ry="6.8"/>
<ellipse cx="350.8" cy="316.5" rx="6.48" ry="6.8"/>
<ellipse cx="352.6" cy="323.3" rx="6.48" ry="6.8"/>
<ellipse cx="361.6" cy="317.2" rx="6.48" ry="6.8"/>
<ellipse cx="362.1" cy="319.4" rx="6.48" ry="6.8"/>
<ellipse cx="370.7" cy="316.2" rx="6.48" ry="6.8"/>
<ellipse cx="377.5" cy="320.2" rx="6.48" ry="6.8"/>
<ellipse cx="379.5" cy="312.5" rx="6.48" ry="6.8"/>
<ellipse cx="386.8" cy="322.9" rx="6.48" ry="6.8"/>
<ellipse cx="392.0" cy="315.8" rx="6.48" ry="6.8"/>
<ellipse cx="393.2" cy="321.9" rx="6.48" ry="6.8"/>
<ellipse cx="402.2" cy="317.3" rx="6.48" ry="6.8"/>
<ellipse cx="405.6" cy="320.1" rx="6.48" ry="6.8"/>
<ellipse cx="409.6" cy="316.5" rx="6.48" ry="6.8"/>
<ellipse cx="417.6" cy="321.3" rx="6.48" ry="6.8"/>
<ellipse cx="431.0" cy="316.0" rx="6.48" ry="6.8"/>
<ellipse cx="435.9" cy="320.2" rx="6.48" ry="6.8"/>
<ellipse cx="438.7" cy="316.4" rx="6.48" ry="6.8"/>
<ellipse cx="442.7" cy="320.9" rx="6.48" ry="6.8"/>
<ellipse cx="449.4" cy="315.3" rx="6.48" ry="6.8"/>
<ellipse cx="459.9" cy="317.4" rx="6.48" ry="6.8"/>
<ellipse cx="455.1" cy="319.6" rx="6.48" ry="6.8"/>
<ellipse cx="469.1" cy="313.9" rx="6.48" ry="6.8"/>
<ellipse cx="210.4" cy="325.3" rx="6.48" ry="6.8"/>
<ellipse cx="212.9" cy="330.9" rx="6.48" ry="6.8"/>
<ellipse cx="217.9" cy="326.4" rx="6.48" ry="6.8"/>
<ellipse cx="222.3" cy="331.5" rx="6.48" ry="6.8"/>
<ellipse cx="229.4" cy="325.9" rx="6.48" ry="6.8"/>
<ellipse cx="235.5" cy="327.8" rx="6.48" ry="6.8"/>
<ellipse cx="240.2" cy="322.9" rx="6.48" ry="6.8"/>
<ellipse cx="243.4" cy="329.3" rx="6.48" ry="6.8"/>
<ellipse cx="248.9" cy="325.8" rx="6.48" ry="6.8"/>
<ellipse cx="259.3" cy="326.7" rx="6.48" ry="6.8"/>
<ellipse cx="266.5" cy="328.9" rx="6.48" ry="6.8"/>
<ellipse cx="270.2" cy="322.9" rx="6.48" ry="6.8"/>
<ellipse cx="273.0" cy="329.7" rx="6.48" ry="6.8"/>
<ellipse cx="279.0" cy="326.6" rx="6.48" ry="6.8"/>
<ellipse cx="285.8" cy="331.8" rx="6.48" ry="6.8"/>
<ellipse cx="288.8" cy="322.8" rx="6.48" ry="6.8"/>
<ellipse cx="293.7" cy="332.2" rx="6.48" ry="6.8"/>
<ellipse cx="302.3" cy="325.6" rx="6.48" ry="6.8"/>
<ellipse cx="307.5" cy="330.9" rx="6.48" ry="6.8"/>
<ellipse cx="308.7" cy="323.5" rx="6.48" ry="6.8"/>
<ellipse cx="312.4" cy="332.8" rx="6.48" ry="6.8"/>
<ellipse cx="321.0" cy="326.6" rx="6.48" ry="6.8"/>
<ellipse cx="328.0" cy="327.4" rx="6.48" ry="6.8"/>
<ellipse cx="331.1" cy="323.8" rx="6.48" ry="6.8"/>
<ellipse cx="332.3" cy="327.9" rx="6.48" ry="6.8"/>
<ellipse cx="341.3" cy="324.4" rx="6.48" ry="6.8"/>
<ellipse cx="345.8" cy="328.4" rx="6.48" ry="6.8"/>
<ellipse cx="350.7" cy="325.9" rx="6.48" ry="6.8"/>
<ellipse cx="360.0" cy="326.8" rx="6.48" ry="6.8"/>
<ellipse cx="367.8" cy="331.6" rx="6.48" ry="6.8"/>
<ellipse cx="372.2" cy="328.2" rx="6.48" ry="6.8"/>
<ellipse cx="378.1" cy="325.3" rx="6.48" ry="6.8"/>
<ellipse cx="384.7" cy="327.3" rx="6.48" ry="6.8"/>
<ellipse cx="388.6" cy="326.6" rx="6.48" ry="6.8"/>
<ellipse cx="398.0" cy="332.9" rx="6.48" ry="6.8"/>
<ellipse cx="398.0" cy="325.9" rx="6.48" ry="6.8"/>
<ellipse cx="404.5" cy="329.6" rx="6.48" ry="6.8"/>
<ellipse cx="412.3" cy="325.5" rx="6.48" ry="6.8"/>
<ellipse cx="413.1" cy="330.1" rx="6.48" ry="6.8"/>
<ellipse cx="420.1" cy="323.5" rx="6.48" ry="6.8"/>
<ellipse cx="424.2" cy="332.3" rx="6.48" ry="6.8"/>
<ellipse cx="432.4" cy="326.4" rx="6.48" ry="6.8"/>
<ellipse cx="432.4" cy="332.4" rx="6.48" ry="6.8"/>
<ellipse cx="439.8" cy="326.7" rx="6.48" ry="6.8"/>
<ellipse cx="442.5" cy="332.8" rx="6.48" ry="6.8"/>
<ellipse cx="448.9" cy="322.7" rx="6.48" ry="6.8"/>
<ellipse cx="458.4" cy="332.3" rx="6.48" ry="6.8"/>
<ellipse cx="459.5" cy="327.5" rx="6.48" ry="6.8"/>
<ellipse cx="467.4" cy="331.0" rx="6.48" ry="6.8"/>
<ellipse cx="469.5" cy="327.0" rx="6.48" ry="6.8"/>
<ellipse cx="208.6" cy="337.0" rx="6.48" ry="6.8"/>
<ellipse cx="212.9" cy="337.6" rx="6.48" ry="6.8"/>
<ellipse cx="219.1" cy="335.0" rx="6.48" ry="6.8"/>
<ellipse cx="226.9" cy="343.0" rx="6.48" ry="6.8"/>
<ellipse cx="241.8" cy="335.5" rx="6.48" ry="6.8"/>
<ellipse cx="242.2" cy="337.4" rx="6.48" ry="6.8"/>
<ellipse cx="250.7" cy="336.6" rx="6.48" ry="6.8"/>
<ellipse cx="253.6" cy="342.8" rx="6.48" ry="6.8"/>
<ellipse cx="260.3" cy="335.4" rx="6.48" ry="6.8"/>
<ellipse cx="265.7" cy="337.4" rx="6.48" ry="6.8"/>
<ellipse cx="268.4" cy="337.2" rx="6.48" ry="6.8"/>
<ellipse cx="272.1" cy="338.5" rx="6.48" ry="6.8"/>
<ellipse cx="281.1" cy="333.8" rx="6.48" ry="6.8"/>
<ellipse cx="283.4" cy="339.9" rx="6.48" ry="6.8"/>
<ellipse cx="291.2" cy="334.0" rx="6.48" ry="6.8"/>
<ellipse cx="298.3" cy="342.3" rx="6.48" ry="6.8"/>
<ellipse cx="297.9" cy="334.1" rx="6.48" ry="6.8"/>
<ellipse cx="311.8" cy="333.2" rx="6.48" ry="6.8"/>
<ellipse cx="314.0" cy="341.7" rx="6.48" ry="6.8"/>
<ellipse cx="317.6" cy="334.1" rx="6.48" ry="6.8"/>
<ellipse cx="327.7" cy="336.8" rx="6.48" ry="6.8"/>
<ellipse cx="330.4" cy="335.8" rx="6.48" ry="6.8"/>
<ellipse cx="334.5" cy="343.3" rx="6.48" ry="6.8"/>
<ellipse cx="338.5" cy="333.1" rx="6.48" ry="6.8"/>
<ellipse cx="345.6" cy="337.4" rx="6.48" ry="6.8"/>
<ellipse cx="348.8" cy="333.5" rx="6.48" ry="6.8"/>
<ellipse cx="358.2" cy="338.8" rx="6.48" ry="6.8"/>
<ellipse cx="362.3" cy="336.1" rx="6.48" ry="6.8"/>
<ellipse cx="363.3" cy="342.6" rx="6.48" ry="6.8"/>
<ellipse cx="367.5" cy="337.4" rx="6.48" ry="6.8"/>
<ellipse cx="372.2" cy="338.5" rx="6.48" ry="6.8"/>
<ellipse cx="380.3" cy="332.5" rx="6.48" ry="6.8"/>
<ellipse cx="386.6" cy="337.5" rx="6.48" ry="6.8"/>
<ellipse cx="391.6" cy="332.7" rx="6.48" ry="6.8"/>
<ellipse cx="393.0" cy="338.5" rx="6.48" ry="6.8"/>
<ellipse cx="400.0" cy="334.4" rx="6.48" ry="6.8"/>
<ellipse cx="406.1" cy="337.9" rx="6.48" ry="6.8"/>
<ellipse cx="408.4" cy="335.9" rx="6.48" ry="6.8"/>
<ellipse cx="418.0" cy="339.5" rx="6.48" ry="6.8"/>
<ellipse cx="419.9" cy="332.6" rx="6.48" ry="6.8"/>
<ellipse cx="422.1" cy="337.6" rx="6.48" ry="6.8"/>
<ellipse cx="430.6" cy="335.8" rx="6.48" ry="6.8"/>
<ellipse cx="437.7" cy="339.6" rx="6.48" ry="6.8"/>
<ellipse cx="441.0" cy="334.2" rx="6.48" ry="6.8"/>
<ellipse cx="442.4" cy="339.5" rx="6.48" ry="6.8"/>
<ellipse cx="451.0" cy="336.5" rx="6.48" ry="6.8"/>
<ellipse cx="461.7" cy="335.3" rx="6.48" ry="6.8"/>
<ellipse cx="465.3" cy="340.0" rx="6.48" ry="6.8"/>
<ellipse cx="469.9" cy="335.9" rx="6.48" ry="6.8"/>
<ellipse cx="209.8" cy="346.8" rx="6.48" ry="6.8"/>
<ellipse cx="212.4" cy="348.2" rx="6.48" ry="6.8"/>
<ellipse cx="222.2" cy="345.5" rx="6.48" ry="6.8"/>
<ellipse cx="225.7" cy="350.8" rx="6.48" ry="6.8"/>
<ellipse cx="228.7" cy="344.5" rx="6.48" ry="6.8"/>
<ellipse cx="233.3" cy="347.9" rx="6.48" ry="6.8"/>
<ellipse cx="242.4" cy="346.2" rx="6.48" ry="6.8"/>
<ellipse cx="247.3" cy="347.0" rx="6.48" ry="6.8"/>
<ellipse cx="253.0" cy="347.9" rx="6.48" ry="6.8"/>
<ellipse cx="257.7" cy="344.4" rx="6.48" ry="6.8"/>
<ellipse cx="265.3" cy="352.2" rx="6.48" ry="6.8"/>
<ellipse cx="270.1" cy="344.1" rx="6.48" ry="6.8"/>
<ellipse cx="275.6" cy="350.5" rx="6.48" ry="6.8"/>
<ellipse cx="279.0" cy="345.2" rx="6.48" ry="6.8"/>
<ellipse cx="283.7" cy="347.1" rx="6.48" ry="6.8"/>
<ellipse cx="289.1" cy="342.9" rx="6.48" ry="6.8"/>
<ellipse cx="295.0" cy="350.0" rx="6.48" ry="6.8"/>
<ellipse cx="301.9" cy="346.2" rx="6.48" ry="6.8"/>
<ellipse cx="306.5" cy="352.9" rx="6.48" ry="6.8"/>
<ellipse cx="308.8" cy="344.4" rx="6.48" ry="6.8"/>
<ellipse cx="312.2" cy="350.1" rx="6.48" ry="6.8"/>
<ellipse cx="320.1" cy="343.1" rx="6.48" ry="6.8"/>
<ellipse cx="332.4" cy="342.8" rx="6.48" ry="6.8"/>
<ellipse cx="332.0" cy="347.4" rx="6.48" ry="6.8"/>
<ellipse cx="341.2" cy="346.8" rx="6.48" ry="6.8"/>
<ellipse cx="342.4" cy="347.1" rx="6.48" ry="6.8"/>
<ellipse cx="350.2" cy="344.2" rx="6.48" ry="6.8"/>
<ellipse cx="352.1" cy="347.1" rx="6.48" ry="6.8"/>
<ellipse cx="358.6" cy="343.5" rx="6.48" ry="6.8"/>
<ellipse cx="363.8" cy="350.3" rx="6.48" ry="6.8"/>
<ellipse cx="372.4" cy="348.3" rx="6.48" ry="6.8"/>
<ellipse cx="378.7" cy="345.3" rx="6.48" ry="6.8"/>
<ellipse cx="384.7" cy="349.0" rx="6.48" ry="6.8"/>
<ellipse cx="389.5" cy="342.6" rx="6.48" ry="6.8"/>
<ellipse cx="396.0" cy="351.8" rx="6.48" ry="6.8"/>
<ellipse cx="398.6" cy="343.4" rx="6.48" ry="6.8"/>
<ellipse cx="408.0" cy="346.5" rx="6.48" ry="6.8"/>
<ellipse cx="412.5" cy="352.3" rx="6.48" ry="6.8"/>
<ellipse cx="418.3" cy="342.7" rx="6.48" ry="6.8"/>
<ellipse cx="423.7" cy="349.1" rx="6.48" ry="6.8"/>
<ellipse cx="433.6" cy="347.8" rx="6.48" ry="6.8"/>
<ellipse cx="438.1" cy="343.5" rx="6.48" ry="6.8"/>
<ellipse cx="446.5" cy="347.7" rx="6.48" ry="6.8"/>
<ellipse cx="452.3" cy="346.6" rx="6.48" ry="6.8"/>
<ellipse cx="453.5" cy="348.3" rx="6.48" ry="6.8"/>
<ellipse cx="459.6" cy="343.7" rx="6.48" ry="6.8"/>
<ellipse cx="462.2" cy="348.5" rx="6.48" ry="6.8"/>
<ellipse cx="210.8" cy="354.2" rx="6.48" ry="6.8"/>
<ellipse cx="214.5" cy="350.3" rx="6.48" ry="6.8"/>
<ellipse cx="218.9" cy="355.6" rx="6.48" ry="6.8"/>
<ellipse cx="228.6" cy="353.7" rx="6.48" ry="6.8"/>
<ellipse cx="233.8" cy="359.3" rx="6.48" ry="6.8"/>
<ellipse cx="239.3" cy="352.7" rx="6.48" ry="6.8"/>
<ellipse cx="247.7" cy="361.2" rx="6.48" ry="6.8"/>
<ellipse cx="247.5" cy="353.0" rx="6.48" ry="6.8"/>
<ellipse cx="252.8" cy="359.2" rx="6.48" ry="6.8"/>
<ellipse cx="262.0" cy="353.2" rx="6.48" ry="6.8"/>
<ellipse cx="263.4" cy="358.9" rx="6.48" ry="6.8"/>
<ellipse cx="273.1" cy="358.3" rx="6.48" ry="6.8"/>
<ellipse cx="280.2" cy="354.7" rx="6.48" ry="6.8"/>
<ellipse cx="287.2" cy="360.5" rx="6.48" ry="6.8"/>
<ellipse cx="292.7" cy="357.4" rx="6.48" ry="6.8"/>
<ellipse cx="297.9" cy="353.5" rx="6.48" ry="6.8"/>
<ellipse cx="306.6" cy="357.8" rx="6.48" ry="6.8"/>
<ellipse cx="308.5" cy="353.3" rx="6.48" ry="6.8"/>
<ellipse cx="311.8" cy="359.0" rx="6.48" ry="6.8"/>
<ellipse cx="320.5" cy="355.9" rx="6.48" ry="6.8"/>
<ellipse cx="322.1" cy="361.0" rx="6.48" ry="6.8"/>
<ellipse cx="328.5" cy="354.2" rx="6.48" ry="6.8"/>
<ellipse cx="335.5" cy="362.0" rx="6.48" ry="6.8"/>
<ellipse cx="342.0" cy="357.1" rx="6.48" ry="6.8"/>
<ellipse cx="349.9" cy="352.7" rx="6.48" ry="6.8"/>
<ellipse cx="352.3" cy="359.2" rx="6.48" ry="6.8"/>
<ellipse cx="360.3" cy="353.2" rx="6.48" ry="6.8"/>
<ellipse cx="362.4" cy="358.9" rx="6.48" ry="6.8"/>
<ellipse cx="371.2" cy="355.3" rx="6.48" ry="6.8"/>
<ellipse cx="378.0" cy="360.6" rx="6.48" ry="6.8"/>
<ellipse cx="382.0" cy="355.4" rx="6.48" ry="6.8"/>
<ellipse cx="384.9" cy="359.5" rx="6.48" ry="6.8"/>
<ellipse cx="387.9" cy="352.8" rx="6.48" ry="6.8"/>
<ellipse cx="397.5" cy="356.6" rx="6.48" ry="6.8"/>
<ellipse cx="398.4" cy="354.1" rx="6.48" ry="6.8"/>
<ellipse cx="407.3" cy="358.3" rx="6.48" ry="6.8"/>
<ellipse cx="409.0" cy="354.9" rx="6.48" ry="6.8"/>
<ellipse cx="419.0" cy="355.7" rx="6.48" ry="6.8"/>
<ellipse cx="422.3" cy="359.6" rx="6.48" ry="6.8"/>
<ellipse cx="432.1" cy="353.6" rx="6.48" ry="6.8"/>
<ellipse cx="434.1" cy="360.9" rx="6.48" ry="6.8"/>
<ellipse cx="440.3" cy="355.4" rx="6.48" ry="6.8"/>
<ellipse cx="445.7" cy="361.1" rx="6.48" ry="6.8"/>
<ellipse cx="449.1" cy="354.3" rx="6.48" ry="6.8"/>
<ellipse cx="455.2" cy="360.5" rx="6.48" ry="6.8"/>
<ellipse cx="461.9" cy="354.5" rx="6.48" ry="6.8"/>
<ellipse cx="464.7" cy="362.0" rx="6.48" ry="6.8"/>
<ellipse cx="207.7" cy="363.5" rx="6.48" ry="6.8"/>
<ellipse cx="219.7" cy="364.4" rx="6.48" ry="6.8"/>
<ellipse cx="227.5" cy="371.7" rx="6.48" ry="6.8"/>
<ellipse cx="228.4" cy="365.5" rx="6.48" ry="6.8"/>
<ellipse cx="233.1" cy="371.7" rx="6.48" ry="6.8"/>
<ellipse cx="240.3" cy="366.5" rx="6.48" ry="6.8"/>
<ellipse cx="242.4" cy="372.6" rx="6.48" ry="6.8"/>
<ellipse cx="248.6" cy="366.7" rx="6.48" ry="6.8"/>
<ellipse cx="257.7" cy="367.2" rx="6.48" ry="6.8"/>
<ellipse cx="257.8" cy="364.8" rx="6.48" ry="6.8"/>
<ellipse cx="267.6" cy="369.8" rx="6.48" ry="6.8"/>
<ellipse cx="270.0" cy="363.3" rx="6.48" ry="6.8"/>
<ellipse cx="275.2" cy="369.6" rx="6.48" ry="6.8"/>
<ellipse cx="281.9" cy="366.2" rx="6.48" ry="6.8"/>
<ellipse cx="284.9" cy="367.9" rx="6.48" ry="6.8"/>
<ellipse cx="288.2" cy="367.4" rx="6.48" ry="6.8"/>
<ellipse cx="295.7" cy="368.3" rx="6.48" ry="6.8"/>
<ellipse cx="301.6" cy="363.6" rx="6.48" ry="6.8"/>
<ellipse cx="304.7" cy="372.3" rx="6.48" ry="6.8"/>
<ellipse cx="308.0" cy="363.0" rx="6.48" ry="6.8"/>
<ellipse cx="312.3" cy="367.9" rx="6.48" ry="6.8"/>
<ellipse cx="319.4" cy="364.1" rx="6.48" ry="6.8"/>
<ellipse cx="321.6" cy="369.9" rx="6.48" ry="6.8"/>
<ellipse cx="329.7" cy="366.2" rx="6.48" ry="6.8"/>
<ellipse cx="333.8" cy="370.5" rx="6.48" ry="6.8"/>
<ellipse cx="339.1" cy="366.3" rx="6.48" ry="6.8"/>
<ellipse cx="343.0" cy="369.9" rx="6.48" ry="6.8"/>
<ellipse cx="349.7" cy="364.8" rx="6.48" ry="6.8"/>
<ellipse cx="355.2" cy="370.2" rx="6.48" ry="6.8"/>
<ellipse cx="359.1" cy="366.6" rx="6.48" ry="6.8"/>
<ellipse cx="370.3" cy="365.7" rx="6.48" ry="6.8"/>
<ellipse cx="373.7" cy="370.6" rx="6.48" ry="6.8"/>
<ellipse cx="379.8" cy="364.9" rx="6.48" ry="6.8"/>
<ellipse cx="385.3" cy="368.0" rx="6.48" ry="6.8"/>
<ellipse cx="388.7" cy="363.5" rx="6.48" ry="6.8"/>
<ellipse cx="393.2" cy="372.0" rx="6.48" ry="6.8"/>
<ellipse cx="402.0" cy="366.3" rx="6.48" ry="6.8"/>
<ellipse cx="408.1" cy="368.9" rx="6.48" ry="6.8"/>
<ellipse cx="409.3" cy="365.5" rx="6.48" ry="6.8"/>
<ellipse cx="414.4" cy="372.0" rx="6.48" ry="6.8"/>
<ellipse cx="421.8" cy="363.9" rx="6.48" ry="6.8"/>
<ellipse cx="424.3" cy="371.4" rx="6.48" ry="6.8"/>
<ellipse cx="430.8" cy="363.4" rx="6.48" ry="6.8"/>
<ellipse cx="437.8" cy="373.2" rx="6.48" ry="6.8"/>
<ellipse cx="440.5" cy="366.4" rx="6.48" ry="6.8"/>
<ellipse cx="443.1" cy="367.0" rx="6.48" ry="6.8"/>
<ellipse cx="450.6" cy="364.4" rx="6.48" ry="6.8"/>
<ellipse cx="453.6" cy="369.5" rx="6.48" ry="6.8"/>
<ellipse cx="461.5" cy="363.0" rx="6.48" ry="6.8"/>
<ellipse cx="462.6" cy="370.2" rx="6.48" ry="6.8"/>
<ellipse cx="209.8" cy="375.6" rx="6.48" ry="6.8"/>
<ellipse cx="205.5" cy="378.2" rx="6.48" ry="6.8"/>
<ellipse cx="221.6" cy="372.5" rx="6.48" ry="6.8"/>
<ellipse cx="222.9" cy="374.2" rx="6.48" ry="6.8"/>
<ellipse cx="241.8" cy="376.0" rx="6.48" ry="6.8"/>
<ellipse cx="246.0" cy="382.4" rx="6.48" ry="6.8"/>
<ellipse cx="251.4" cy="375.4" rx="6.48" ry="6.8"/>
<ellipse cx="254.7" cy="381.3" rx="6.48" ry="6.8"/>
<ellipse cx="260.1" cy="375.4" rx="6.48" ry="6.8"/>
<ellipse cx="267.4" cy="378.2" rx="6.48" ry="6.8"/>
<ellipse cx="270.7" cy="374.7" rx="6.48" ry="6.8"/>
<ellipse cx="271.6" cy="377.4" rx="6.48" ry="6.8"/>
<ellipse cx="278.9" cy="374.9" rx="6.48" ry="6.8"/>
<ellipse cx="282.0" cy="382.1" rx="6.48" ry="6.8"/>
<ellipse cx="292.4" cy="374.7" rx="6.48" ry="6.8"/>
<ellipse cx="294.8" cy="380.6" rx="6.48" ry="6.8"/>
<ellipse cx="303.3" cy="378.4" rx="6.48" ry="6.8"/>
<ellipse cx="310.7" cy="375.2" rx="6.48" ry="6.8"/>
<ellipse cx="314.5" cy="382.5" rx="6.48" ry="6.8"/>
<ellipse cx="320.1" cy="374.9" rx="6.48" ry="6.8"/>
<ellipse cx="324.6" cy="377.0" rx="6.48" ry="6.8"/>
<ellipse cx="330.5" cy="376.8" rx="6.48" ry="6.8"/>
<ellipse cx="332.2" cy="377.2" rx="6.48" ry="6.8"/>
<ellipse cx="342.0" cy="373.1" rx="6.48" ry="6.8"/>
<ellipse cx="342.1" cy="380.1" rx="6.48" ry="6.8"/>
<ellipse cx="352.1" cy="373.7" rx="6.48" ry="6.8"/>
<ellipse cx="355.8" cy="380.5" rx="6.48" ry="6.8"/>
<ellipse cx="360.3" cy="374.5" rx="6.48" ry="6.8"/>
<ellipse cx="365.7" cy="378.4" rx="6.48" ry="6.8"/>
<ellipse cx="370.6" cy="374.7" rx="6.48" ry="6.8"/>
<ellipse cx="378.5" cy="378.8" rx="6.48" ry="6.8"/>
<ellipse cx="382.4" cy="374.9" rx="6.48" ry="6.8"/>
<ellipse cx="383.4" cy="377.7" rx="6.48" ry="6.8"/>
<ellipse cx="391.0" cy="374.8" rx="6.48" ry="6.8"/>
<ellipse cx="392.8" cy="380.1" rx="6.48" ry="6.8"/>
<ellipse cx="400.8" cy="376.3" rx="6.48" ry="6.8"/>
<ellipse cx="404.4" cy="381.3" rx="6.48" ry="6.8"/>
<ellipse cx="410.5" cy="374.9" rx="6.48" ry="6.8"/>
<ellipse cx="413.6" cy="376.9" rx="6.48" ry="6.8"/>
<ellipse cx="418.2" cy="377.4" rx="6.48" ry="6.8"/>
<ellipse cx="427.3" cy="378.3" rx="6.48" ry="6.8"/>
<ellipse cx="431.7" cy="376.4" rx="6.48" ry="6.8"/>
<ellipse cx="433.6" cy="377.2" rx="6.48" ry="6.8"/>
<ellipse cx="442.5" cy="377.5" rx="6.48" ry="6.8"/>
<ellipse cx="444.6" cy="381.6" rx="6.48" ry="6.8"/>
<ellipse cx="452.1" cy="375.2" rx="6.48" ry="6.8"/>
<ellipse cx="458.3" cy="380.3" rx="6.48" ry="6.8"/>
<ellipse cx="461.3" cy="375.6" rx="6.48" ry="6.8"/>
<ellipse cx="462.4" cy="379.8" rx="6.48" ry="6.8"/>
<ellipse cx="467.6" cy="373.8" rx="6.48" ry="6.8"/>
<ellipse cx="211.5" cy="383.5" rx="6.48" ry="6.8"/>
<ellipse cx="221.8" cy="385.7" rx="6.48" ry="6.8"/>
<ellipse cx="241.0" cy="384.7" rx="6.48" ry="6.8"/>
<ellipse cx="245.1" cy="387.6" rx="6.48" ry="6.8"/>
<ellipse cx="248.7" cy="385.4" rx="6.48" ry="6.8"/>
<ellipse cx="254.0" cy="391.0" rx="6.48" ry="6.8"/>
<ellipse cx="260.5" cy="387.0" rx="6.48" ry="6.8"/>
<ellipse cx="265.4" cy="389.5" rx="6.48" ry="6.8"/>
<ellipse cx="271.3" cy="385.6" rx="6.48" ry="6.8"/>
<ellipse cx="278.2" cy="383.1" rx="6.48" ry="6.8"/>
<ellipse cx="285.8" cy="391.0" rx="6.48" ry="6.8"/>
<ellipse cx="288.5" cy="383.9" rx="6.48" ry="6.8"/>
<ellipse cx="295.6" cy="388.6" rx="6.48" ry="6.8"/>
<ellipse cx="301.6" cy="383.0" rx="6.48" ry="6.8"/>
<ellipse cx="306.7" cy="387.9" rx="6.48" ry="6.8"/>
<ellipse cx="311.1" cy="386.4" rx="6.48" ry="6.8"/>
<ellipse cx="317.7" cy="392.4" rx="6.48" ry="6.8"/>
<ellipse cx="317.6" cy="385.8" rx="6.48" ry="6.8"/>
<ellipse cx="331.4" cy="384.8" rx="6.48" ry="6.8"/>
<ellipse cx="333.5" cy="392.1" rx="6.48" ry="6.8"/>
<ellipse cx="339.5" cy="387.4" rx="6.48" ry="6.8"/>
<ellipse cx="345.6" cy="387.4" rx="6.48" ry="6.8"/>
<ellipse cx="351.3" cy="387.4" rx="6.48" ry="6.8"/>
<ellipse cx="357.4" cy="388.1" rx="6.48" ry="6.8"/>
<ellipse cx="357.6" cy="386.5" rx="6.48" ry="6.8"/>
<ellipse cx="362.1" cy="391.2" rx="6.48" ry="6.8"/>
<ellipse cx="372.0" cy="382.9" rx="6.48" ry="6.8"/>
<ellipse cx="373.9" cy="386.8" rx="6.48" ry="6.8"/>
<ellipse cx="377.9" cy="382.7" rx="6.48" ry="6.8"/>
<ellipse cx="383.7" cy="390.3" rx="6.48" ry="6.8"/>
<ellipse cx="390.6" cy="386.8" rx="6.48" ry="6.8"/>
<ellipse cx="392.7" cy="390.9" rx="6.48" ry="6.8"/>
<ellipse cx="401.9" cy="383.7" rx="6.48" ry="6.8"/>
<ellipse cx="408.4" cy="390.9" rx="6.48" ry="6.8"/>
<ellipse cx="411.0" cy="384.1" rx="6.48" ry="6.8"/>
<ellipse cx="421.7" cy="384.1" rx="6.48" ry="6.8"/>
<ellipse cx="421.5" cy="389.9" rx="6.48" ry="6.8"/>
<ellipse cx="431.9" cy="386.4" rx="6.48" ry="6.8"/>
<ellipse cx="433.2" cy="387.6" rx="6.48" ry="6.8"/>
<ellipse cx="438.8" cy="383.5" rx="6.48" ry="6.8"/>
<ellipse cx="445.4" cy="392.9" rx="6.48" ry="6.8"/>
<ellipse cx="451.8" cy="385.6" rx="6.48" ry="6.8"/>
<ellipse cx="457.9" cy="388.0" rx="6.48" ry="6.8"/>
<ellipse cx="457.7" cy="383.6" rx="6.48" ry="6.8"/>
<ellipse cx="466.7" cy="391.2" rx="6.48" ry="6.8"/>
<ellipse cx="208.9" cy="394.6" rx="6.48" ry="6.8"/>
<ellipse cx="221.5" cy="395.9" rx="6.48" ry="6.8"/>
<ellipse cx="230.5" cy="396.7" rx="6.48" ry="6.8"/>
<ellipse cx="237.8" cy="395.9" rx="6.48" ry="6.8"/>
<ellipse cx="242.8" cy="399.5" rx="6.48" ry="6.8"/>
<ellipse cx="249.4" cy="393.9" rx="6.48" ry="6.8"/>
<ellipse cx="252.9" cy="401.4" rx="6.48" ry="6.8"/>
<ellipse cx="262.3" cy="397.0" rx="6.48" ry="6.8"/>
<ellipse cx="265.5" cy="397.8" rx="6.48" ry="6.8"/>
<ellipse cx="270.1" cy="395.2" rx="6.48" ry="6.8"/>
<ellipse cx="272.1" cy="399.9" rx="6.48" ry="6.8"/>
<ellipse cx="277.8" cy="396.7" rx="6.48" ry="6.8"/>
<ellipse cx="281.6" cy="402.1" rx="6.48" ry="6.8"/>
<ellipse cx="291.7" cy="392.7" rx="6.48" ry="6.8"/>
<ellipse cx="295.5" cy="399.8" rx="6.48" ry="6.8"/>
<ellipse cx="303.1" cy="398.1" rx="6.48" ry="6.8"/>
<ellipse cx="312.2" cy="397.3" rx="6.48" ry="6.8"/>
<ellipse cx="316.0" cy="402.2" rx="6.48" ry="6.8"/>
<ellipse cx="317.8" cy="394.2" rx="6.48" ry="6.8"/>
<ellipse cx="324.8" cy="400.1" rx="6.48" ry="6.8"/>
<ellipse cx="329.3" cy="396.6" rx="6.48" ry="6.8"/>
<ellipse cx="335.5" cy="402.1" rx="6.48" ry="6.8"/>
<ellipse cx="339.7" cy="397.2" rx="6.48" ry="6.8"/>
<ellipse cx="344.1" cy="403.0" rx="6.48" ry="6.8"/>
<ellipse cx="350.3" cy="394.4" rx="6.48" ry="6.8"/>
<ellipse cx="352.2" cy="401.3" rx="6.48" ry="6.8"/>
<ellipse cx="360.5" cy="396.5" rx="6.48" ry="6.8"/>
<ellipse cx="364.4" cy="400.6" rx="6.48" ry="6.8"/>
<ellipse cx="367.8" cy="396.3" rx="6.48" ry="6.8"/>
<ellipse cx="380.6" cy="396.3" rx="6.48" ry="6.8"/>
<ellipse cx="389.8" cy="395.1" rx="6.48" ry="6.8"/>
<ellipse cx="396.2" cy="398.4" rx="6.48" ry="6.8"/>
<ellipse cx="400.4" cy="396.3" rx="6.48" ry="6.8"/>
<ellipse cx="402.4" cy="397.7" rx="6.48" ry="6.8"/>
<ellipse cx="410.9" cy="396.1" rx="6.48" ry="6.8"/>
<ellipse cx="414.9" cy="399.2" rx="6.48" ry="6.8"/>
<ellipse cx="422.3" cy="393.8" rx="6.48" ry="6.8"/>
<ellipse cx="421.7" cy="397.1" rx="6.48" ry="6.8"/>
<ellipse cx="430.6" cy="395.8" rx="6.48" ry="6.8"/>
<ellipse cx="436.7" cy="397.7" rx="6.48" ry="6.8"/>
<ellipse cx="439.4" cy="395.7" rx="6.48" ry="6.8"/>
<ellipse cx="444.7" cy="402.2" rx="6.48" ry="6.8"/>
<ellipse cx="449.9" cy="395.8" rx="6.48" ry="6.8"/>
<ellipse cx="457.0" cy="400.4" rx="6.48" ry="6.8"/>
<ellipse cx="460.3" cy="397.2" rx="6.48" ry="6.8"/>
<ellipse cx="455.2" cy="390.4" rx="6.48" ry="6.8"/>
<ellipse cx="469.2" cy="395.2" rx="6.48" ry="6.8"/>
<ellipse cx="211.0" cy="404.1" rx="6.48" ry="6.8"/>
<ellipse cx="219.4" cy="405.8" rx="6.48" ry="6.8"/>
<ellipse cx="231.5" cy="405.2" rx="6.48" ry="6.8"/>
<ellipse cx="238.9" cy="404.3" rx="6.48" ry="6.8"/>
<ellipse cx="243.9" cy="407.0" rx="6.48" ry="6.8"/>
<ellipse cx="248.6" cy="402.6" rx="6.48" ry="6.8"/>
<ellipse cx="255.9" cy="408.6" rx="6.48" ry="6.8"/>
<ellipse cx="261.9" cy="403.3" rx="6.48" ry="6.8"/>
<ellipse cx="271.5" cy="403.8" rx="6.48" ry="6.8"/>
<ellipse cx="277.2" cy="407.3" rx="6.48" ry="6.8"/>
<ellipse cx="278.3" cy="404.4" rx="6.48" ry="6.8"/>
<ellipse cx="282.2" cy="410.3" rx="6.48" ry="6.8"/>
<ellipse cx="290.8" cy="406.4" rx="6.48" ry="6.8"/>
<ellipse cx="292.3" cy="407.3" rx="6.48" ry="6.8"/>
<ellipse cx="299.9" cy="406.2" rx="6.48" ry="6.8"/>
<ellipse cx="303.2" cy="410.6" rx="6.48" ry="6.8"/>
<ellipse cx="308.1" cy="407.0" rx="6.48" ry="6.8"/>
<ellipse cx="341.0" cy="406.1" rx="6.48" ry="6.8"/>
<ellipse cx="344.6" cy="408.6" rx="6.48" ry="6.8"/>
<ellipse cx="348.3" cy="402.8" rx="6.48" ry="6.8"/>
<ellipse cx="362.3" cy="402.8" rx="6.48" ry="6.8"/>
<ellipse cx="368.3" cy="410.5" rx="6.48" ry="6.8"/>
<ellipse cx="372.4" cy="403.2" rx="6.48" ry="6.8"/>
<ellipse cx="376.3" cy="412.0" rx="6.48" ry="6.8"/>
<ellipse cx="378.1" cy="403.5" rx="6.48" ry="6.8"/>
<ellipse cx="387.7" cy="408.4" rx="6.48" ry="6.8"/>
<ellipse cx="390.6" cy="407.1" rx="6.48" ry="6.8"/>
<ellipse cx="396.3" cy="411.6" rx="6.48" ry="6.8"/>
<ellipse cx="399.0" cy="406.7" rx="6.48" ry="6.8"/>
<ellipse cx="402.8" cy="409.4" rx="6.48" ry="6.8"/>
<ellipse cx="409.9" cy="406.0" rx="6.48" ry="6.8"/>
<ellipse cx="412.2" cy="407.5" rx="6.48" ry="6.8"/>
<ellipse cx="419.3" cy="403.3" rx="6.48" ry="6.8"/>
<ellipse cx="429.7" cy="405.4" rx="6.48" ry="6.8"/>
<ellipse cx="437.5" cy="413.0" rx="6.48" ry="6.8"/>
<ellipse cx="442.0" cy="402.9" rx="6.48" ry="6.8"/>
<ellipse cx="446.9" cy="412.9" rx="6.48" ry="6.8"/>
<ellipse cx="450.3" cy="404.8" rx="6.48" ry="6.8"/>
<ellipse cx="453.1" cy="407.0" rx="6.48" ry="6.8"/>
<ellipse cx="458.1" cy="404.1" rx="6.48" ry="6.8"/>
<ellipse cx="218.2" cy="416.7" rx="6.48" ry="6.8"/>
<ellipse cx="231.2" cy="415.1" rx="6.48" ry="6.8"/>
<ellipse cx="240.5" cy="416.3" rx="6.48" ry="6.8"/>
<ellipse cx="248.3" cy="415.4" rx="6.48" ry="6.8"/>
<ellipse cx="260.4" cy="417.4" rx="6.48" ry="6.8"/>
<ellipse cx="261.8" cy="417.8" rx="6.48" ry="6.8"/>
<ellipse cx="269.5" cy="417.2" rx="6.48" ry="6.8"/>
<ellipse cx="266.5" cy="411.7" rx="6.48" ry="6.8"/>
<ellipse cx="279.5" cy="417.4" rx="6.48" ry="6.8"/>
<ellipse cx="292.0" cy="415.8" rx="6.48" ry="6.8"/>
<ellipse cx="291.4" cy="416.1" rx="6.48" ry="6.8"/>
<ellipse cx="302.3" cy="414.5" rx="6.48" ry="6.8"/>
<ellipse cx="302.3" cy="418.0" rx="6.48" ry="6.8"/>
<ellipse cx="347.7" cy="412.9" rx="6.48" ry="6.8"/>
<ellipse cx="358.0" cy="412.7" rx="6.48" ry="6.8"/>
<ellipse cx="431.5" cy="412.7" rx="6.48" ry="6.8"/>
<ellipse cx="212.0" cy="426.1" rx="6.48" ry="6.8"/>
<ellipse cx="218.6" cy="426.1" rx="6.48" ry="6.8"/>
<ellipse cx="228.4" cy="426.2" rx="6.48" ry="6.8"/>
<ellipse cx="239.1" cy="423.9" rx="6.48" ry="6.8"/>
<ellipse cx="270.7" cy="426.3" rx="6.48" ry="6.8"/>
<ellipse cx="280.7" cy="426.2" rx="6.48" ry="6.8"/>
<ellipse cx="288.6" cy="424.1" rx="6.48" ry="6.8"/>
<ellipse cx="301.3" cy="424.3" rx="6.48" ry="6.8"/>
<ellipse cx="311.0" cy="425.3" rx="6.48" ry="6.8"/>
<ellipse cx="318.6" cy="423.9" rx="6.48" ry="6.8"/>
<ellipse cx="168.7" cy="436.5" rx="6.48" ry="6.8"/>
<ellipse cx="228.2" cy="435.3" rx="6.48" ry="6.8"/>
<ellipse cx="241.9" cy="434.3" rx="6.48" ry="6.8"/>
<ellipse cx="250.1" cy="434.2" rx="6.48" ry="6.8"/>
<ellipse cx="259.7" cy="433.4" rx="6.48" ry="6.8"/>
<ellipse cx="270.5" cy="435.8" rx="6.48" ry="6.8"/>
<ellipse cx="278.5" cy="433.0" rx="6.48" ry="6.8"/>
<ellipse cx="289.0" cy="434.4" rx="6.48" ry="6.8"/>
<ellipse cx="299.7" cy="435.8" rx="6.48" ry="6.8"/>
<ellipse cx="320.1" cy="433.1" rx="6.48" ry="6.8"/>
<ellipse cx="611.8" cy="486.9" rx="6.48" ry="6.8"/>
<ellipse cx="608.6" cy="495.8" rx="6.48" ry="6.8"/>
<ellipse cx="608.6" cy="504.6" rx="6.48" ry="6.8"/>
<ellipse cx="641.1" cy="516.5" rx="6.48" ry="6.8"/>
<ellipse cx="432.2" cy="567.1" rx="6.48" ry="6.8"/>
<ellipse cx="338.8" cy="574.9" rx="6.48" ry="6.8"/>
<ellipse cx="400.8" cy="586.7" rx="6.48" ry="6.8"/>
<ellipse cx="429.4" cy="586.8" rx="6.48" ry="6.8"/>
<ellipse cx="381.2" cy="634.0" rx="6.48" ry="6.8"/>
<ellipse cx="169.9" cy="441.3" rx="6.48" ry="6.8"/>
<ellipse cx="210.8" cy="447.9" rx="6.48" ry="6.8"/>
<ellipse cx="217.4" cy="451.9" rx="6.48" ry="6.8"/>
<ellipse cx="224.0" cy="451.9" rx="6.48" ry="6.8"/>
<ellipse cx="223.8" cy="447.3" rx="6.48" ry="6.8"/>
<ellipse cx="247.8" cy="447.9" rx="6.48" ry="6.8"/>
<ellipse cx="255.7" cy="444.0" rx="6.48" ry="6.8"/>
<ellipse cx="268.9" cy="442.6" rx="6.48" ry="6.8"/>
<ellipse cx="292.6" cy="444.0" rx="6.48" ry="6.8"/>
<ellipse cx="305.8" cy="441.3" rx="6.48" ry="6.8"/>
<ellipse cx="308.6" cy="440.0" rx="6.48" ry="6.8"/>
<ellipse cx="319.0" cy="447.9" rx="6.48" ry="6.8"/>
<ellipse cx="231.9" cy="466.4" rx="6.48" ry="6.8"/>
<ellipse cx="227.1" cy="463.0" rx="6.48" ry="6.8"/>
<ellipse cx="260.9" cy="458.5" rx="6.48" ry="6.8"/>
<ellipse cx="257.4" cy="458.4" rx="6.48" ry="6.8"/>
<ellipse cx="268.9" cy="462.4" rx="6.48" ry="6.8"/>
<ellipse cx="260.9" cy="474.3" rx="6.48" ry="6.8"/>
<ellipse cx="265.5" cy="470.5" rx="6.48" ry="6.8"/>
<ellipse cx="290.0" cy="473.0" rx="6.48" ry="6.8"/>
<ellipse cx="287.9" cy="475.1" rx="6.48" ry="6.8"/>
<ellipse cx="279.4" cy="480.9" rx="6.48" ry="6.8"/>
<ellipse cx="274.2" cy="478.6" rx="6.48" ry="6.8"/>
<ellipse cx="308.4" cy="476.9" rx="6.48" ry="6.8"/>
<ellipse cx="319.0" cy="470.3" rx="6.48" ry="6.8"/>
<ellipse cx="315.4" cy="468.1" rx="6.48" ry="6.8"/>
<ellipse cx="135.6" cy="478.3" rx="6.48" ry="6.8"/>
<ellipse cx="138.9" cy="480.1" rx="6.48" ry="6.8"/>
<ellipse cx="142.2" cy="483.5" rx="6.48" ry="6.8"/>
<ellipse cx="150.1" cy="484.9" rx="6.48" ry="6.8"/>
<ellipse cx="147.0" cy="481.5" rx="6.48" ry="6.8"/>
<ellipse cx="134.3" cy="484.9" rx="6.48" ry="6.8"/>
<ellipse cx="135.5" cy="483.0" rx="6.48" ry="6.8"/>
<ellipse cx="195.0" cy="475.6" rx="6.48" ry="6.8"/>
<ellipse cx="193.7" cy="470.6" rx="6.48" ry="6.8"/>
<ellipse cx="188.4" cy="482.2" rx="6.48" ry="6.8"/>
<ellipse cx="184.6" cy="478.4" rx="6.48" ry="6.8"/>
<ellipse cx="181.8" cy="490.1" rx="6.48" ry="6.8"/>
<ellipse cx="172.6" cy="498.0" rx="6.48" ry="6.8"/>
<ellipse cx="174.7" cy="497.6" rx="6.48" ry="6.8"/>
<ellipse cx="189.7" cy="496.7" rx="6.48" ry="6.8"/>
<ellipse cx="194.9" cy="496.9" rx="6.48" ry="6.8"/>
<ellipse cx="202.9" cy="500.7" rx="6.48" ry="6.8"/>
<ellipse cx="197.6" cy="492.8" rx="6.48" ry="6.8"/>
<ellipse cx="198.1" cy="489.9" rx="6.48" ry="6.8"/>
<ellipse cx="231.9" cy="479.6" rx="6.48" ry="6.8"/>
<ellipse cx="239.8" cy="484.9" rx="6.48" ry="6.8"/>
<ellipse cx="237.0" cy="489.8" rx="6.48" ry="6.8"/>
<ellipse cx="222.7" cy="491.5" rx="6.48" ry="6.8"/>
<ellipse cx="222.3" cy="489.6" rx="6.48" ry="6.8"/>
<ellipse cx="243.8" cy="499.4" rx="6.48" ry="6.8"/>
<ellipse cx="267.5" cy="488.8" rx="6.48" ry="6.8"/>
<ellipse cx="274.1" cy="496.7" rx="6.48" ry="6.8"/>
<ellipse cx="274.0" cy="492.7" rx="6.48" ry="6.8"/>
<ellipse cx="260.9" cy="503.3" rx="6.48" ry="6.8"/>
<ellipse cx="257.5" cy="504.0" rx="6.48" ry="6.8"/>
<ellipse cx="295.3" cy="488.8" rx="6.48" ry="6.8"/>
<ellipse cx="299.4" cy="490.7" rx="6.48" ry="6.8"/>
<ellipse cx="311.1" cy="487.5" rx="6.48" ry="6.8"/>
<ellipse cx="316.4" cy="500.7" rx="6.48" ry="6.8"/>
<ellipse cx="324.3" cy="490.1" rx="6.48" ry="6.8"/>
<ellipse cx="324.1" cy="488.4" rx="6.48" ry="6.8"/>
<ellipse cx="127.7" cy="515.2" rx="6.48" ry="6.8"/>
<ellipse cx="123.1" cy="519.2" rx="6.48" ry="6.8"/>
<ellipse cx="136.9" cy="519.2" rx="6.48" ry="6.8"/>
<ellipse cx="147.5" cy="515.2" rx="6.48" ry="6.8"/>
<ellipse cx="126.4" cy="524.4" rx="6.48" ry="6.8"/>
<ellipse cx="121.5" cy="524.1" rx="6.48" ry="6.8"/>
<ellipse cx="134.3" cy="529.7" rx="6.48" ry="6.8"/>
<ellipse cx="179.2" cy="516.5" rx="6.48" ry="6.8"/>
<ellipse cx="189.7" cy="513.9" rx="6.48" ry="6.8"/>
<ellipse cx="202.9" cy="519.2" rx="6.48" ry="6.8"/>
<ellipse cx="197.8" cy="523.9" rx="6.48" ry="6.8"/>
<ellipse cx="226.6" cy="519.2" rx="6.48" ry="6.8"/>
<ellipse cx="226.2" cy="518.8" rx="6.48" ry="6.8"/>
<ellipse cx="234.6" cy="509.9" rx="6.48" ry="6.8"/>
<ellipse cx="233.5" cy="505.6" rx="6.48" ry="6.8"/>
<ellipse cx="242.5" cy="516.5" rx="6.48" ry="6.8"/>
<ellipse cx="239.5" cy="512.2" rx="6.48" ry="6.8"/>
<ellipse cx="253.0" cy="524.4" rx="6.48" ry="6.8"/>
<ellipse cx="254.8" cy="528.9" rx="6.48" ry="6.8"/>
<ellipse cx="276.8" cy="513.9" rx="6.48" ry="6.8"/>
<ellipse cx="287.3" cy="508.6" rx="6.48" ry="6.8"/>
<ellipse cx="305.8" cy="515.2" rx="6.48" ry="6.8"/>
<ellipse cx="307.2" cy="511.2" rx="6.48" ry="6.8"/>
<ellipse cx="282.1" cy="527.1" rx="6.48" ry="6.8"/>
<ellipse cx="280.0" cy="528.0" rx="6.48" ry="6.8"/>
<ellipse cx="297.9" cy="533.7" rx="6.48" ry="6.8"/>
<ellipse cx="290.0" cy="537.6" rx="6.48" ry="6.8"/>
<ellipse cx="286.6" cy="537.2" rx="6.48" ry="6.8"/>
<ellipse cx="263.6" cy="532.3" rx="6.48" ry="6.8"/>
<ellipse cx="268.9" cy="535.0" rx="6.48" ry="6.8"/>
<ellipse cx="127.7" cy="536.3" rx="6.48" ry="6.8"/>
<ellipse cx="122.2" cy="541.1" rx="6.48" ry="6.8"/>
<ellipse cx="136.9" cy="540.3" rx="6.48" ry="6.8"/>
<ellipse cx="136.1" cy="537.5" rx="6.48" ry="6.8"/>
<ellipse cx="142.2" cy="537.6" rx="6.48" ry="6.8"/>
<ellipse cx="144.4" cy="537.7" rx="6.48" ry="6.8"/>
<ellipse cx="156.7" cy="527.1" rx="6.48" ry="6.8"/>
<ellipse cx="155.0" cy="531.5" rx="6.48" ry="6.8"/>
<ellipse cx="162.0" cy="535.0" rx="6.48" ry="6.8"/>
<ellipse cx="166.0" cy="545.5" rx="6.48" ry="6.8"/>
<ellipse cx="169.7" cy="541.8" rx="6.48" ry="6.8"/>
<ellipse cx="176.5" cy="532.3" rx="6.48" ry="6.8"/>
<ellipse cx="176.3" cy="533.7" rx="6.48" ry="6.8"/>
<ellipse cx="187.1" cy="529.7" rx="6.48" ry="6.8"/>
<ellipse cx="182.8" cy="535.0" rx="6.48" ry="6.8"/>
<ellipse cx="195.0" cy="540.3" rx="6.48" ry="6.8"/>
<ellipse cx="184.4" cy="545.5" rx="6.48" ry="6.8"/>
<ellipse cx="224.0" cy="536.3" rx="6.48" ry="6.8"/>
<ellipse cx="237.2" cy="532.3" rx="6.48" ry="6.8"/>
<ellipse cx="247.8" cy="537.6" rx="6.48" ry="6.8"/>
<ellipse cx="247.0" cy="539.2" rx="6.48" ry="6.8"/>
<ellipse cx="242.5" cy="548.2" rx="6.48" ry="6.8"/>
<ellipse cx="229.3" cy="550.8" rx="6.48" ry="6.8"/>
<ellipse cx="231.5" cy="550.6" rx="6.48" ry="6.8"/>
<ellipse cx="253.0" cy="553.5" rx="6.48" ry="6.8"/>
<ellipse cx="249.0" cy="548.4" rx="6.48" ry="6.8"/>
<ellipse cx="160.7" cy="553.5" rx="6.48" ry="6.8"/>
<ellipse cx="158.5" cy="556.8" rx="6.48" ry="6.8"/>
<ellipse cx="171.2" cy="556.1" rx="6.48" ry="6.8"/>
<ellipse cx="181.8" cy="553.5" rx="6.48" ry="6.8"/>
<ellipse cx="186.4" cy="550.8" rx="6.48" ry="6.8"/>
<ellipse cx="192.3" cy="558.7" rx="6.48" ry="6.8"/>
<ellipse cx="190.5" cy="557.3" rx="6.48" ry="6.8"/>
<ellipse cx="202.9" cy="556.1" rx="6.48" ry="6.8"/>
<ellipse cx="202.1" cy="556.1" rx="6.48" ry="6.8"/>
<ellipse cx="210.8" cy="561.4" rx="6.48" ry="6.8"/>
<ellipse cx="226.6" cy="561.4" rx="6.48" ry="6.8"/>
<ellipse cx="223.9" cy="566.5" rx="6.48" ry="6.8"/>
<ellipse cx="237.2" cy="558.7" rx="6.48" ry="6.8"/>
<ellipse cx="247.8" cy="564.0" rx="6.48" ry="6.8"/>
<ellipse cx="245.1" cy="561.7" rx="6.48" ry="6.8"/>
<ellipse cx="148.8" cy="569.3" rx="6.48" ry="6.8"/>
<ellipse cx="171.2" cy="569.3" rx="6.48" ry="6.8"/>
<ellipse cx="175.9" cy="571.6" rx="6.48" ry="6.8"/>
<ellipse cx="179.2" cy="577.2" rx="6.48" ry="6.8"/>
<ellipse cx="187.1" cy="571.9" rx="6.48" ry="6.8"/>
<ellipse cx="196.3" cy="577.2" rx="6.48" ry="6.8"/>
<ellipse cx="209.5" cy="582.5" rx="6.48" ry="6.8"/>
<ellipse cx="214.0" cy="579.2" rx="6.48" ry="6.8"/>
<ellipse cx="218.7" cy="571.9" rx="6.48" ry="6.8"/>
<ellipse cx="219.0" cy="569.6" rx="6.48" ry="6.8"/>
<ellipse cx="229.3" cy="579.8" rx="6.48" ry="6.8"/>
<ellipse cx="226.3" cy="581.6" rx="6.48" ry="6.8"/>
<ellipse cx="239.8" cy="577.2" rx="6.48" ry="6.8"/>
<ellipse cx="242.3" cy="578.6" rx="6.48" ry="6.8"/>
<ellipse cx="247.8" cy="579.8" rx="6.48" ry="6.8"/>
<ellipse cx="260.9" cy="585.1" rx="6.48" ry="6.8"/>
<ellipse cx="250.4" cy="593.0" rx="6.48" ry="6.8"/>
<ellipse cx="255.7" cy="600.9" rx="6.48" ry="6.8"/>
<ellipse cx="295.3" cy="564.0" rx="6.48" ry="6.8"/>
<ellipse cx="192.3" cy="503.3" rx="6.48" ry="6.8"/>
<ellipse cx="179.2" cy="506.0" rx="6.48" ry="6.8"/>
<ellipse cx="187.1" cy="521.8" rx="6.48" ry="6.8"/>
<ellipse cx="197.6" cy="527.1" rx="6.48" ry="6.8"/>
<ellipse cx="179.2" cy="540.3" rx="6.48" ry="6.8"/>
<ellipse cx="174.5" cy="543.4" rx="6.48" ry="6.8"/>
<ellipse cx="173.9" cy="564.0" rx="6.48" ry="6.8"/>
<ellipse cx="189.7" cy="564.0" rx="6.48" ry="6.8"/>
<ellipse cx="193.4" cy="558.6" rx="6.48" ry="6.8"/>
<ellipse cx="205.5" cy="569.3" rx="6.48" ry="6.8"/>
<ellipse cx="202.7" cy="573.7" rx="6.48" ry="6.8"/>
<ellipse cx="218.7" cy="582.5" rx="6.48" ry="6.8"/>
<ellipse cx="217.4" cy="586.3" rx="6.48" ry="6.8"/>
<ellipse cx="237.2" cy="569.3" rx="6.48" ry="6.8"/>
<ellipse cx="231.9" cy="542.9" rx="6.48" ry="6.8"/>
<ellipse cx="242.5" cy="527.1" rx="6.48" ry="6.8"/>
<ellipse cx="238.0" cy="525.1" rx="6.48" ry="6.8"/>
<ellipse cx="231.9" cy="527.1" rx="6.48" ry="6.8"/>
<ellipse cx="247.8" cy="571.9" rx="6.48" ry="6.8"/>
<ellipse cx="253.2" cy="572.6" rx="6.48" ry="6.8"/>
<ellipse cx="202.9" cy="548.2" rx="6.48" ry="6.8"/>
<ellipse cx="204.0" cy="546.8" rx="6.48" ry="6.8"/>
<ellipse cx="192.3" cy="548.2" rx="6.48" ry="6.8"/>
<ellipse cx="190.1" cy="547.1" rx="6.48" ry="6.8"/>
<ellipse cx="721.2" cy="403.8" rx="6.48" ry="6.8"/>
<ellipse cx="783.2" cy="362.8" rx="6.48" ry="6.8"/>
<ellipse cx="777.2" cy="369.7" rx="6.48" ry="6.8"/>
<ellipse cx="779.2" cy="375.6" rx="6.48" ry="6.8"/>
<ellipse cx="776.2" cy="382.6" rx="6.48" ry="6.8"/>
<ellipse cx="789.1" cy="378.6" rx="6.48" ry="6.8"/>
<ellipse cx="803.0" cy="380.6" rx="6.48" ry="6.8"/>
<ellipse cx="808.9" cy="386.5" rx="6.48" ry="6.8"/>
<ellipse cx="797.0" cy="387.5" rx="6.48" ry="6.8"/>
<ellipse cx="783.2" cy="389.5" rx="6.48" ry="6.8"/>
<ellipse cx="777.2" cy="394.5" rx="6.48" ry="6.8"/>
<ellipse cx="789.1" cy="396.4" rx="6.48" ry="6.8"/>
<ellipse cx="801.0" cy="396.4" rx="6.48" ry="6.8"/>
<ellipse cx="807.9" cy="393.5" rx="6.48" ry="6.8"/>
<ellipse cx="779.2" cy="401.4" rx="6.48" ry="6.8"/>
<ellipse cx="790.1" cy="403.4" rx="6.48" ry="6.8"/>
<ellipse cx="799.0" cy="403.4" rx="6.48" ry="6.8"/>
<ellipse cx="757.4" cy="406.3" rx="6.48" ry="6.8"/>
<ellipse cx="765.3" cy="407.3" rx="6.48" ry="6.8"/>
<ellipse cx="774.3" cy="408.3" rx="6.48" ry="6.8"/>
<ellipse cx="783.2" cy="408.3" rx="6.48" ry="6.8"/>
<ellipse cx="791.1" cy="409.3" rx="6.48" ry="6.8"/>
<ellipse cx="724.8" cy="441.0" rx="6.48" ry="6.8"/>
<ellipse cx="721.8" cy="447.9" rx="6.48" ry="6.8"/>
<ellipse cx="729.7" cy="448.9" rx="6.48" ry="6.8"/>
<ellipse cx="739.6" cy="449.9" rx="6.48" ry="6.8"/>
<ellipse cx="718.8" cy="456.8" rx="6.48" ry="6.8"/>
<ellipse cx="727.7" cy="456.8" rx="6.48" ry="6.8"/>
<ellipse cx="736.6" cy="457.8" rx="6.48" ry="6.8"/>
<ellipse cx="749.5" cy="458.8" rx="6.48" ry="6.8"/>
<ellipse cx="744.6" cy="461.8" rx="6.48" ry="6.8"/>
<ellipse cx="721.8" cy="463.8" rx="6.48" ry="6.8"/>
<ellipse cx="731.7" cy="465.7" rx="6.48" ry="6.8"/>
<ellipse cx="742.6" cy="468.7" rx="6.48" ry="6.8"/>
<ellipse cx="730.7" cy="471.7" rx="6.48" ry="6.8"/>
<ellipse cx="752.5" cy="429.1" rx="6.48" ry="6.8"/>
<ellipse cx="758.4" cy="427.1" rx="6.48" ry="6.8"/>
<ellipse cx="753.5" cy="436.0" rx="6.48" ry="6.8"/>
<ellipse cx="763.4" cy="435.0" rx="6.48" ry="6.8"/>
<ellipse cx="780.2" cy="435.0" rx="6.48" ry="6.8"/>
<ellipse cx="774.3" cy="440.0" rx="6.48" ry="6.8"/>
<ellipse cx="804.0" cy="439.0" rx="6.48" ry="6.8"/>
<ellipse cx="761.4" cy="444.0" rx="6.48" ry="6.8"/>
<ellipse cx="769.3" cy="445.0" rx="6.48" ry="6.8"/>
<ellipse cx="779.2" cy="445.0" rx="6.48" ry="6.8"/>
<ellipse cx="803.0" cy="445.9" rx="6.48" ry="6.8"/>
<ellipse cx="808.9" cy="450.9" rx="6.48" ry="6.8"/>
<ellipse cx="763.4" cy="452.9" rx="6.48" ry="6.8"/>
<ellipse cx="773.3" cy="453.9" rx="6.48" ry="6.8"/>
<ellipse cx="783.2" cy="452.9" rx="6.48" ry="6.8"/>
<ellipse cx="793.1" cy="451.9" rx="6.48" ry="6.8"/>
<ellipse cx="801.0" cy="454.9" rx="6.48" ry="6.8"/>
<ellipse cx="774.3" cy="462.8" rx="6.48" ry="6.8"/>
<ellipse cx="783.2" cy="462.8" rx="6.48" ry="6.8"/>
<ellipse cx="793.1" cy="462.8" rx="6.48" ry="6.8"/>
<ellipse cx="802.0" cy="461.8" rx="6.48" ry="6.8"/>
<ellipse cx="775.2" cy="471.7" rx="6.48" ry="6.8"/>
<ellipse cx="783.2" cy="472.7" rx="6.48" ry="6.8"/>
<ellipse cx="792.1" cy="471.7" rx="6.48" ry="6.8"/>
<ellipse cx="779.2" cy="476.6" rx="6.48" ry="6.8"/>
<ellipse cx="789.1" cy="478.6" rx="6.48" ry="6.8"/>
<ellipse cx="561.0" cy="314.9" rx="6.48" ry="6.8"/>
<ellipse cx="596.6" cy="328.3" rx="6.48" ry="6.8"/>
<ellipse cx="575.8" cy="395.0" rx="6.48" ry="6.8"/>
<ellipse cx="484.1" cy="144.7" rx="6.48" ry="6.8"/>
<ellipse cx="497.4" cy="143.8" rx="6.48" ry="6.8"/>
<ellipse cx="503.1" cy="148.5" rx="6.48" ry="6.8"/>
<ellipse cx="490.8" cy="154.2" rx="6.48" ry="6.8"/>
<ellipse cx="523.6" cy="156.1" rx="6.48" ry="6.8"/>
<ellipse cx="544.9" cy="159.9" rx="6.48" ry="6.8"/>
<ellipse cx="513.6" cy="167.5" rx="6.48" ry="6.8"/>
<ellipse cx="522.1" cy="164.7" rx="6.48" ry="6.8"/>
<ellipse cx="497.4" cy="166.6" rx="6.48" ry="6.8"/>
<ellipse cx="533.5" cy="169.4" rx="6.48" ry="6.8"/>
<ellipse cx="539.2" cy="175.1" rx="6.48" ry="6.8"/>
<ellipse cx="546.8" cy="171.3" rx="6.48" ry="6.8"/>
<ellipse cx="545.9" cy="182.7" rx="6.48" ry="6.8"/>
<ellipse cx="558.2" cy="178.0" rx="6.48" ry="6.8"/>
<ellipse cx="576.3" cy="169.4" rx="6.48" ry="6.8"/>
<ellipse cx="446.1" cy="177.0" rx="6.48" ry="6.8"/>
<ellipse cx="453.7" cy="180.8" rx="6.48" ry="6.8"/>
<ellipse cx="443.3" cy="186.5" rx="6.48" ry="6.8"/>
<ellipse cx="442.3" cy="196.0" rx="6.48" ry="6.8"/>
<ellipse cx="448.0" cy="201.7" rx="6.48" ry="6.8"/>
<ellipse cx="455.6" cy="203.6" rx="6.48" ry="6.8"/>
<ellipse cx="465.1" cy="199.8" rx="6.48" ry="6.8"/>
<ellipse cx="470.8" cy="188.4" rx="6.48" ry="6.8"/>
<ellipse cx="480.3" cy="181.8" rx="6.48" ry="6.8"/>
<ellipse cx="476.5" cy="192.2" rx="6.48" ry="6.8"/>
<ellipse cx="486.0" cy="186.5" rx="6.48" ry="6.8"/>
<ellipse cx="493.6" cy="182.7" rx="6.48" ry="6.8"/>
<ellipse cx="495.5" cy="173.2" rx="6.48" ry="6.8"/>
<ellipse cx="503.1" cy="178.9" rx="6.48" ry="6.8"/>
<ellipse cx="508.8" cy="184.6" rx="6.48" ry="6.8"/>
<ellipse cx="518.3" cy="182.7" rx="6.48" ry="6.8"/>
<ellipse cx="524.0" cy="188.4" rx="6.48" ry="6.8"/>
<ellipse cx="516.4" cy="194.1" rx="6.48" ry="6.8"/>
<ellipse cx="506.9" cy="196.0" rx="6.48" ry="6.8"/>
<ellipse cx="497.4" cy="196.0" rx="6.48" ry="6.8"/>
<ellipse cx="487.9" cy="197.9" rx="6.48" ry="6.8"/>
<ellipse cx="480.3" cy="203.6" rx="6.48" ry="6.8"/>
<ellipse cx="491.7" cy="207.4" rx="6.48" ry="6.8"/>
<ellipse cx="501.2" cy="205.5" rx="6.48" ry="6.8"/>
<ellipse cx="508.8" cy="203.6" rx="6.48" ry="6.8"/>
<ellipse cx="520.2" cy="201.7" rx="6.48" ry="6.8"/>
<ellipse cx="525.9" cy="201.7" rx="6.48" ry="6.8"/>
<ellipse cx="518.3" cy="211.2" rx="6.48" ry="6.8"/>
<ellipse cx="499.3" cy="215.0" rx="6.48" ry="6.8"/>
<ellipse cx="487.9" cy="213.1" rx="6.48" ry="6.8"/>
<ellipse cx="505.0" cy="220.7" rx="6.48" ry="6.8"/>
<ellipse cx="525.9" cy="223.6" rx="6.48" ry="6.8"/>
<ellipse cx="537.3" cy="195.1" rx="6.48" ry="6.8"/>
<ellipse cx="540.2" cy="206.5" rx="6.48" ry="6.8"/>
<ellipse cx="411.9" cy="211.2" rx="6.48" ry="6.8"/>
<ellipse cx="419.5" cy="211.2" rx="6.48" ry="6.8"/>
<ellipse cx="434.7" cy="217.9" rx="6.48" ry="6.8"/>
<ellipse cx="442.3" cy="215.0" rx="6.48" ry="6.8"/>
<ellipse cx="449.9" cy="211.2" rx="6.48" ry="6.8"/>
<ellipse cx="457.5" cy="213.1" rx="6.48" ry="6.8"/>
<ellipse cx="465.1" cy="215.0" rx="6.48" ry="6.8"/>
<ellipse cx="470.8" cy="220.7" rx="6.48" ry="6.8"/>
<ellipse cx="451.8" cy="222.6" rx="6.48" ry="6.8"/>
<ellipse cx="461.3" cy="226.4" rx="6.48" ry="6.8"/>
<ellipse cx="438.5" cy="226.4" rx="6.48" ry="6.8"/>
<ellipse cx="413.8" cy="231.2" rx="6.48" ry="6.8"/>
<ellipse cx="423.3" cy="235.9" rx="6.48" ry="6.8"/>
<ellipse cx="430.9" cy="241.6" rx="6.48" ry="6.8"/>
<ellipse cx="440.4" cy="234.0" rx="6.48" ry="6.8"/>
<ellipse cx="465.1" cy="238.8" rx="6.48" ry="6.8"/>
<ellipse cx="470.8" cy="241.6" rx="6.48" ry="6.8"/>
<ellipse cx="445.2" cy="251.1" rx="6.48" ry="6.8"/>
<ellipse cx="414.8" cy="256.8" rx="6.48" ry="6.8"/>
<ellipse cx="467.0" cy="256.8" rx="6.48" ry="6.8"/>
<ellipse cx="429.0" cy="247.3" rx="6.48" ry="6.8"/>
<ellipse cx="498.9" cy="237.2" rx="6.48" ry="6.8"/>
<ellipse cx="510.7" cy="244.5" rx="6.48" ry="6.8"/>
<ellipse cx="567.3" cy="229.6" rx="6.48" ry="6.8"/>
<ellipse cx="583.9" cy="258.3" rx="6.48" ry="6.8"/>
<ellipse cx="426.2" cy="263.5" rx="6.48" ry="6.8"/>
<ellipse cx="506.1" cy="290.7" rx="6.48" ry="6.8"/>
<ellipse cx="534.9" cy="288.8" rx="6.48" ry="6.8"/>
<ellipse cx="475.4" cy="302.6" rx="6.48" ry="6.8"/>
<ellipse cx="501.2" cy="311.5" rx="6.48" ry="6.8"/>
<ellipse cx="509.1" cy="313.5" rx="6.48" ry="6.8"/>
<ellipse cx="558.6" cy="314.5" rx="6.48" ry="6.8"/>
<ellipse cx="489.3" cy="327.4" rx="6.48" ry="6.8"/>
<ellipse cx="503.2" cy="324.4" rx="6.48" ry="6.8"/>
<ellipse cx="519.0" cy="332.3" rx="6.48" ry="6.8"/>
<ellipse cx="541.8" cy="327.4" rx="6.48" ry="6.8"/>
<ellipse cx="533.9" cy="339.2" rx="6.48" ry="6.8"/>
<ellipse cx="524.0" cy="344.2" rx="6.48" ry="6.8"/>
<ellipse cx="506.1" cy="338.3" rx="6.48" ry="6.8"/>
<ellipse cx="499.2" cy="343.2" rx="6.48" ry="6.8"/>
<ellipse cx="493.3" cy="337.3" rx="6.48" ry="6.8"/>
<ellipse cx="479.4" cy="329.3" rx="6.48" ry="6.8"/>
<ellipse cx="473.5" cy="319.4" rx="6.48" ry="6.8"/>
<ellipse cx="481.4" cy="343.2" rx="6.48" ry="6.8"/>
<ellipse cx="489.3" cy="349.1" rx="6.48" ry="6.8"/>
<ellipse cx="501.2" cy="351.1" rx="6.48" ry="6.8"/>
<ellipse cx="483.4" cy="357.1" rx="6.48" ry="6.8"/>
<ellipse cx="495.2" cy="361.0" rx="6.48" ry="6.8"/>
<ellipse cx="505.1" cy="365.0" rx="6.48" ry="6.8"/>
<ellipse cx="513.1" cy="369.0" rx="6.48" ry="6.8"/>
<ellipse cx="479.4" cy="365.0" rx="6.48" ry="6.8"/>
<ellipse cx="489.3" cy="372.9" rx="6.48" ry="6.8"/>
<ellipse cx="497.2" cy="378.9" rx="6.48" ry="6.8"/>
<ellipse cx="505.1" cy="384.8" rx="6.48" ry="6.8"/>
<ellipse cx="479.4" cy="376.9" rx="6.48" ry="6.8"/>
<ellipse cx="485.3" cy="386.8" rx="6.48" ry="6.8"/>
<ellipse cx="495.2" cy="390.7" rx="6.48" ry="6.8"/>
<ellipse cx="477.4" cy="390.7" rx="6.48" ry="6.8"/>
<ellipse cx="502.2" cy="401.6" rx="6.48" ry="6.8"/>
<ellipse cx="485.3" cy="402.6" rx="6.48" ry="6.8"/>
<ellipse cx="479.4" cy="398.7" rx="6.48" ry="6.8"/>
<ellipse cx="497.2" cy="408.6" rx="6.48" ry="6.8"/>
<ellipse cx="552.7" cy="365.0" rx="6.48" ry="6.8"/>
<ellipse cx="551.7" cy="379.8" rx="6.48" ry="6.8"/>
<ellipse cx="554.7" cy="398.7" rx="6.48" ry="6.8"/>
<ellipse cx="538.8" cy="411.5" rx="6.48" ry="6.8"/>
<ellipse cx="526.9" cy="412.5" rx="6.48" ry="6.8"/>
<ellipse cx="473.5" cy="309.5" rx="6.48" ry="6.8"/>
<ellipse cx="477.4" cy="315.5" rx="6.48" ry="6.8"/>
<ellipse cx="485.3" cy="337.3" rx="6.48" ry="6.8"/>
<ellipse cx="487.3" cy="353.1" rx="6.48" ry="6.8"/>
<ellipse cx="481.4" cy="351.1" rx="6.48" ry="6.8"/>
<ellipse cx="475.4" cy="370.9" rx="6.48" ry="6.8"/>
<ellipse cx="475.4" cy="382.8" rx="6.48" ry="6.8"/>
<ellipse cx="487.3" cy="396.7" rx="6.48" ry="6.8"/>
<ellipse cx="479.4" cy="408.6" rx="6.48" ry="6.8"/>
<ellipse cx="489.3" cy="411.5" rx="6.48" ry="6.8"/>
<ellipse cx="474.7" cy="580.7" rx="6.48" ry="6.8"/>
<ellipse cx="482.5" cy="595.1" rx="6.48" ry="6.8"/>
<ellipse cx="480.6" cy="606.2" rx="6.48" ry="6.8"/>
<ellipse cx="495.4" cy="613.6" rx="6.48" ry="6.8"/>
<ellipse cx="507.4" cy="587.7" rx="6.48" ry="6.8"/>
<ellipse cx="515.7" cy="583.1" rx="6.48" ry="6.8"/>
<ellipse cx="519.0" cy="611.3" rx="6.48" ry="6.8"/>
<ellipse cx="539.7" cy="614.1" rx="6.48" ry="6.8"/>
<ellipse cx="608.1" cy="620.9" rx="6.48" ry="6.8"/>
<ellipse cx="579.1" cy="642.7" rx="6.48" ry="6.8"/>
<ellipse cx="690.0" cy="272.5" rx="6.48" ry="6.8"/>
<ellipse cx="706.0" cy="276.9" rx="6.48" ry="6.8"/>
<ellipse cx="242.4" cy="228.3" rx="6.48" ry="6.8"/>
<ellipse cx="249.3" cy="231.0" rx="6.48" ry="6.8"/>
<ellipse cx="253.1" cy="230.0" rx="6.48" ry="6.8"/>
<ellipse cx="254.9" cy="235.5" rx="6.48" ry="6.8"/>
<ellipse cx="259.5" cy="237.6" rx="6.48" ry="6.8"/>
<ellipse cx="281.2" cy="226.3" rx="6.48" ry="6.8"/>
<ellipse cx="277.3" cy="230.9" rx="6.48" ry="6.8"/>
<ellipse cx="288.1" cy="229.1" rx="6.48" ry="6.8"/>
<ellipse cx="291.1" cy="233.3" rx="6.48" ry="6.8"/>
<ellipse cx="275.7" cy="236.0" rx="6.48" ry="6.8"/>
<ellipse cx="274.2" cy="231.4" rx="6.48" ry="6.8"/>
<ellipse cx="230.0" cy="247.1" rx="6.48" ry="6.8"/>
<ellipse cx="236.9" cy="249.9" rx="6.48" ry="6.8"/>
<ellipse cx="238.5" cy="244.8" rx="6.48" ry="6.8"/>
<ellipse cx="245.2" cy="251.2" rx="6.48" ry="6.8"/>
<ellipse cx="247.8" cy="248.7" rx="6.48" ry="6.8"/>
<ellipse cx="264.6" cy="248.5" rx="6.48" ry="6.8"/>
<ellipse cx="260.5" cy="245.6" rx="6.48" ry="6.8"/>
<ellipse cx="272.9" cy="245.7" rx="6.48" ry="6.8"/>
<ellipse cx="214.7" cy="266.5" rx="6.48" ry="6.8"/>
<ellipse cx="211.0" cy="263.2" rx="6.48" ry="6.8"/>
<ellipse cx="220.3" cy="273.4" rx="6.48" ry="6.8"/>
<ellipse cx="218.2" cy="274.4" rx="6.48" ry="6.8"/>
<ellipse cx="198.1" cy="276.2" rx="6.48" ry="6.8"/>
<ellipse cx="198.9" cy="278.7" rx="6.48" ry="6.8"/>
<ellipse cx="205.0" cy="274.8" rx="6.48" ry="6.8"/>
<ellipse cx="196.7" cy="284.5" rx="6.48" ry="6.8"/>
<ellipse cx="192.8" cy="286.2" rx="6.48" ry="6.8"/>
<ellipse cx="209.2" cy="283.1" rx="6.48" ry="6.8"/>
<ellipse cx="225.8" cy="280.3" rx="6.48" ry="6.8"/>
<ellipse cx="230.2" cy="281.5" rx="6.48" ry="6.8"/>
<ellipse cx="234.1" cy="274.8" rx="6.48" ry="6.8"/>
<ellipse cx="248.0" cy="263.7" rx="6.48" ry="6.8"/>
<ellipse cx="259.0" cy="260.9" rx="6.48" ry="6.8"/>
<ellipse cx="173.2" cy="299.7" rx="6.48" ry="6.8"/>
<ellipse cx="178.7" cy="297.0" rx="6.48" ry="6.8"/>
<ellipse cx="198.1" cy="295.6" rx="6.48" ry="6.8"/>
<ellipse cx="209.2" cy="294.2" rx="6.48" ry="6.8"/>
<ellipse cx="220.3" cy="291.4" rx="6.48" ry="6.8"/>
<ellipse cx="221.1" cy="295.9" rx="6.48" ry="6.8"/>
<ellipse cx="164.9" cy="316.3" rx="6.48" ry="6.8"/>
<ellipse cx="171.8" cy="326.0" rx="6.48" ry="6.8"/>
<ellipse cx="169.6" cy="329.1" rx="6.48" ry="6.8"/>
<ellipse cx="187.0" cy="315.0" rx="6.48" ry="6.8"/>
<ellipse cx="183.8" cy="311.4" rx="6.48" ry="6.8"/>
<ellipse cx="166.2" cy="321.9" rx="6.48" ry="6.8"/>
<ellipse cx="200.9" cy="310.8" rx="6.48" ry="6.8"/>
<ellipse cx="212.0" cy="308.0" rx="6.48" ry="6.8"/>
<ellipse cx="151.0" cy="336.3" rx="6.48" ry="6.8"/>
<ellipse cx="174.6" cy="339.9" rx="6.48" ry="6.8"/>
<ellipse cx="182.9" cy="344.0" rx="6.48" ry="6.8"/>
<ellipse cx="184.4" cy="343.9" rx="6.48" ry="6.8"/>
<ellipse cx="196.7" cy="335.7" rx="6.48" ry="6.8"/>
<ellipse cx="209.2" cy="330.2" rx="6.48" ry="6.8"/>
<ellipse cx="160.7" cy="348.2" rx="6.48" ry="6.8"/>
<ellipse cx="165.8" cy="349.6" rx="6.48" ry="6.8"/>
<ellipse cx="156.6" cy="353.7" rx="6.48" ry="6.8"/>
<ellipse cx="155.9" cy="355.6" rx="6.48" ry="6.8"/>
<ellipse cx="189.8" cy="353.7" rx="6.48" ry="6.8"/>
<ellipse cx="200.9" cy="349.6" rx="6.48" ry="6.8"/>
<ellipse cx="166.2" cy="366.2" rx="6.48" ry="6.8"/>
<ellipse cx="174.6" cy="360.7" rx="6.48" ry="6.8"/>
<ellipse cx="184.3" cy="366.2" rx="6.48" ry="6.8"/>
<ellipse cx="188.6" cy="362.6" rx="6.48" ry="6.8"/>
<ellipse cx="195.3" cy="363.4" rx="6.48" ry="6.8"/>
<ellipse cx="146.9" cy="377.3" rx="6.48" ry="6.8"/>
<ellipse cx="150.8" cy="372.7" rx="6.48" ry="6.8"/>
<ellipse cx="155.2" cy="377.3" rx="6.48" ry="6.8"/>
<ellipse cx="164.9" cy="380.1" rx="6.48" ry="6.8"/>
<ellipse cx="174.6" cy="377.3" rx="6.48" ry="6.8"/>
<ellipse cx="187.0" cy="378.7" rx="6.48" ry="6.8"/>
<ellipse cx="188.9" cy="379.2" rx="6.48" ry="6.8"/>
<ellipse cx="198.1" cy="377.3" rx="6.48" ry="6.8"/>
<ellipse cx="169.0" cy="391.1" rx="6.48" ry="6.8"/>
<ellipse cx="165.1" cy="391.1" rx="6.48" ry="6.8"/>
<ellipse cx="181.5" cy="391.1" rx="6.48" ry="6.8"/>
<ellipse cx="192.6" cy="391.1" rx="6.48" ry="6.8"/>
<ellipse cx="195.6" cy="392.4" rx="6.48" ry="6.8"/>
<ellipse cx="182.9" cy="406.4" rx="6.48" ry="6.8"/>
<ellipse cx="178.1" cy="406.8" rx="6.48" ry="6.8"/>
<ellipse cx="195.3" cy="402.2" rx="6.48" ry="6.8"/>
<ellipse cx="206.4" cy="399.4" rx="6.48" ry="6.8"/>
<ellipse cx="210.4" cy="401.1" rx="6.48" ry="6.8"/>
<ellipse cx="281.2" cy="247.1" rx="6.48" ry="6.8"/>
<ellipse cx="295.1" cy="244.3" rx="6.48" ry="6.8"/>
<ellipse cx="295.8" cy="249.6" rx="6.48" ry="6.8"/>
<ellipse cx="259.0" cy="269.3" rx="6.48" ry="6.8"/>
<ellipse cx="257.5" cy="264.6" rx="6.48" ry="6.8"/>
<ellipse cx="245.2" cy="277.6" rx="6.48" ry="6.8"/>
<ellipse cx="241.6" cy="278.4" rx="6.48" ry="6.8"/>
<ellipse cx="239.7" cy="291.4" rx="6.48" ry="6.8"/>
<ellipse cx="231.3" cy="299.7" rx="6.48" ry="6.8"/>
<ellipse cx="233.2" cy="304.6" rx="6.48" ry="6.8"/>
<ellipse cx="223.0" cy="316.3" rx="6.48" ry="6.8"/>
<ellipse cx="221.4" cy="320.3" rx="6.48" ry="6.8"/>
<ellipse cx="220.3" cy="333.0" rx="6.48" ry="6.8"/>
<ellipse cx="217.5" cy="349.6" rx="6.48" ry="6.8"/>
<ellipse cx="213.1" cy="353.6" rx="6.48" ry="6.8"/>
<ellipse cx="214.7" cy="366.2" rx="6.48" ry="6.8"/>
<ellipse cx="214.7" cy="382.8" rx="6.48" ry="6.8"/>
<ellipse cx="219.3" cy="378.4" rx="6.48" ry="6.8"/>
<ellipse cx="217.5" cy="399.4" rx="6.48" ry="6.8"/>
<ellipse cx="221.9" cy="400.8" rx="6.48" ry="6.8"/>
<ellipse cx="225.8" cy="405.0" rx="6.48" ry="6.8"/>
<ellipse cx="325.8" cy="221.6" rx="6.48" ry="6.8"/>
<ellipse cx="313.3" cy="236.0" rx="6.48" ry="6.8"/>
<ellipse cx="328.5" cy="234.6" rx="6.48" ry="6.8"/>
<ellipse cx="346.6" cy="233.2" rx="6.48" ry="6.8"/>
<ellipse cx="352.1" cy="244.3" rx="6.48" ry="6.8"/>
<ellipse cx="360.4" cy="252.6" rx="6.48" ry="6.8"/>
<ellipse cx="371.5" cy="229.1" rx="6.48" ry="6.8"/>
<ellipse cx="379.8" cy="230.5" rx="6.48" ry="6.8"/>
<ellipse cx="389.5" cy="238.8" rx="6.48" ry="6.8"/>
<ellipse cx="374.3" cy="241.6" rx="6.48" ry="6.8"/>
<ellipse cx="371.7" cy="245.3" rx="6.48" ry="6.8"/>
<ellipse cx="382.6" cy="245.7" rx="6.48" ry="6.8"/>
<ellipse cx="402.0" cy="248.5" rx="6.48" ry="6.8"/>
<ellipse cx="397.8" cy="254.0" rx="6.48" ry="6.8"/>
<ellipse cx="401.9" cy="256.4" rx="6.48" ry="6.8"/>
<ellipse cx="371.5" cy="259.6" rx="6.48" ry="6.8"/>
<ellipse cx="388.1" cy="259.6" rx="6.48" ry="6.8"/>
<ellipse cx="426.9" cy="266.5" rx="6.48" ry="6.8"/>
<ellipse cx="407.5" cy="272.0" rx="6.48" ry="6.8"/>
<ellipse cx="415.8" cy="277.6" rx="6.48" ry="6.8"/>
<ellipse cx="428.3" cy="278.9" rx="6.48" ry="6.8"/>
<ellipse cx="454.6" cy="285.9" rx="6.48" ry="6.8"/>
<ellipse cx="462.9" cy="283.1" rx="6.48" ry="6.8"/>
<ellipse cx="435.2" cy="288.6" rx="6.48" ry="6.8"/>
<ellipse cx="421.3" cy="272.0" rx="6.48" ry="6.8"/>
<ellipse cx="421.8" cy="267.3" rx="6.48" ry="6.8"/>
<ellipse cx="432.4" cy="280.3" rx="6.48" ry="6.8"/>
<ellipse cx="443.5" cy="288.6" rx="6.48" ry="6.8"/>
<ellipse cx="445.5" cy="291.6" rx="6.48" ry="6.8"/>
<ellipse cx="338.9" cy="418.0" rx="6.48" ry="6.8"/>
<ellipse cx="354.7" cy="419.9" rx="6.48" ry="6.8"/>
<ellipse cx="366.6" cy="418.0" rx="6.48" ry="6.8"/>
<ellipse cx="378.5" cy="416.0" rx="6.48" ry="6.8"/>
<ellipse cx="383.7" cy="414.0" rx="6.48" ry="6.8"/>
<ellipse cx="392.3" cy="419.9" rx="6.48" ry="6.8"/>
<ellipse cx="406.2" cy="418.0" rx="6.48" ry="6.8"/>
<ellipse cx="407.1" cy="423.2" rx="6.48" ry="6.8"/>
<ellipse cx="416.1" cy="421.9" rx="6.48" ry="6.8"/>
<ellipse cx="430.0" cy="419.9" rx="6.48" ry="6.8"/>
<ellipse cx="441.9" cy="418.0" rx="6.48" ry="6.8"/>
<ellipse cx="453.7" cy="421.9" rx="6.48" ry="6.8"/>
<ellipse cx="463.6" cy="418.0" rx="6.48" ry="6.8"/>
<ellipse cx="332.9" cy="425.9" rx="6.48" ry="6.8"/>
<ellipse cx="344.8" cy="427.9" rx="6.48" ry="6.8"/>
<ellipse cx="348.6" cy="433.3" rx="6.48" ry="6.8"/>
<ellipse cx="338.9" cy="435.8" rx="6.48" ry="6.8"/>
<ellipse cx="340.5" cy="430.9" rx="6.48" ry="6.8"/>
<ellipse cx="352.7" cy="431.8" rx="6.48" ry="6.8"/>
<ellipse cx="362.6" cy="437.8" rx="6.48" ry="6.8"/>
<ellipse cx="384.4" cy="432.8" rx="6.48" ry="6.8"/>
<ellipse cx="394.3" cy="435.8" rx="6.48" ry="6.8"/>
<ellipse cx="404.2" cy="433.8" rx="6.48" ry="6.8"/>
<ellipse cx="420.1" cy="431.8" rx="6.48" ry="6.8"/>
<ellipse cx="430.0" cy="435.8" rx="6.48" ry="6.8"/>
<ellipse cx="437.9" cy="439.7" rx="6.48" ry="6.8"/>
<ellipse cx="455.7" cy="435.8" rx="6.48" ry="6.8"/>
<ellipse cx="463.6" cy="431.8" rx="6.48" ry="6.8"/>
<ellipse cx="460.3" cy="430.6" rx="6.48" ry="6.8"/>
<ellipse cx="376.5" cy="439.7" rx="6.48" ry="6.8"/>
<ellipse cx="334.9" cy="443.7" rx="6.48" ry="6.8"/>
<ellipse cx="344.8" cy="447.7" rx="6.48" ry="6.8"/>
<ellipse cx="341.1" cy="449.5" rx="6.48" ry="6.8"/>
<ellipse cx="356.7" cy="446.7" rx="6.48" ry="6.8"/>
<ellipse cx="370.6" cy="447.7" rx="6.48" ry="6.8"/>
<ellipse cx="380.5" cy="445.7" rx="6.48" ry="6.8"/>
<ellipse cx="381.8" cy="446.5" rx="6.48" ry="6.8"/>
<ellipse cx="392.3" cy="451.6" rx="6.48" ry="6.8"/>
<ellipse cx="404.2" cy="445.7" rx="6.48" ry="6.8"/>
<ellipse cx="404.2" cy="445.1" rx="6.48" ry="6.8"/>
<ellipse cx="413.1" cy="452.6" rx="6.48" ry="6.8"/>
<ellipse cx="432.0" cy="447.7" rx="6.48" ry="6.8"/>
<ellipse cx="437.1" cy="445.7" rx="6.48" ry="6.8"/>
<ellipse cx="439.9" cy="451.6" rx="6.48" ry="6.8"/>
<ellipse cx="453.7" cy="447.7" rx="6.48" ry="6.8"/>
<ellipse cx="461.7" cy="451.6" rx="6.48" ry="6.8"/>
<ellipse cx="457.2" cy="451.1" rx="6.48" ry="6.8"/>
<ellipse cx="332.9" cy="459.5" rx="6.48" ry="6.8"/>
<ellipse cx="335.9" cy="465.0" rx="6.48" ry="6.8"/>
<ellipse cx="342.8" cy="457.6" rx="6.48" ry="6.8"/>
<ellipse cx="343.0" cy="455.4" rx="6.48" ry="6.8"/>
<ellipse cx="360.7" cy="463.5" rx="6.48" ry="6.8"/>
<ellipse cx="361.8" cy="465.5" rx="6.48" ry="6.8"/>
<ellipse cx="369.6" cy="459.5" rx="6.48" ry="6.8"/>
<ellipse cx="376.5" cy="467.5" rx="6.48" ry="6.8"/>
<ellipse cx="390.4" cy="457.6" rx="6.48" ry="6.8"/>
<ellipse cx="420.1" cy="461.5" rx="6.48" ry="6.8"/>
<ellipse cx="465.6" cy="463.5" rx="6.48" ry="6.8"/>
<ellipse cx="338.9" cy="478.4" rx="6.48" ry="6.8"/>
<ellipse cx="341.5" cy="481.5" rx="6.48" ry="6.8"/>
<ellipse cx="356.7" cy="471.4" rx="6.48" ry="6.8"/>
<ellipse cx="366.6" cy="473.4" rx="6.48" ry="6.8"/>
<ellipse cx="362.4" cy="472.1" rx="6.48" ry="6.8"/>
<ellipse cx="394.3" cy="472.4" rx="6.48" ry="6.8"/>
<ellipse cx="391.8" cy="476.3" rx="6.48" ry="6.8"/>
<ellipse cx="402.2" cy="479.3" rx="6.48" ry="6.8"/>
<ellipse cx="400.5" cy="478.2" rx="6.48" ry="6.8"/>
<ellipse cx="411.2" cy="474.4" rx="6.48" ry="6.8"/>
<ellipse cx="418.1" cy="479.3" rx="6.48" ry="6.8"/>
<ellipse cx="450.8" cy="480.3" rx="6.48" ry="6.8"/>
<ellipse cx="382.4" cy="485.3" rx="6.48" ry="6.8"/>
<ellipse cx="396.3" cy="489.2" rx="6.48" ry="6.8"/>
<ellipse cx="418.1" cy="487.3" rx="6.48" ry="6.8"/>
<ellipse cx="329.0" cy="493.2" rx="6.48" ry="6.8"/>
<ellipse cx="330.9" cy="491.9" rx="6.48" ry="6.8"/>
<ellipse cx="364.6" cy="501.1" rx="6.48" ry="6.8"/>
<ellipse cx="366.6" cy="501.5" rx="6.48" ry="6.8"/>
<ellipse cx="397.3" cy="497.2" rx="6.48" ry="6.8"/>
<ellipse cx="396.2" cy="492.8" rx="6.48" ry="6.8"/>
<ellipse cx="331.0" cy="499.1" rx="6.48" ry="6.8"/>
<ellipse cx="435.9" cy="505.1" rx="6.48" ry="6.8"/>
<ellipse cx="461.7" cy="507.1" rx="6.48" ry="6.8"/>
<ellipse cx="356.7" cy="512.0" rx="6.48" ry="6.8"/>
<ellipse cx="387.4" cy="514.0" rx="6.48" ry="6.8"/>
<ellipse cx="401.3" cy="520.9" rx="6.48" ry="6.8"/>
<ellipse cx="416.1" cy="515.0" rx="6.48" ry="6.8"/>
<ellipse cx="413.7" cy="518.0" rx="6.48" ry="6.8"/>
<ellipse cx="437.9" cy="515.0" rx="6.48" ry="6.8"/>
<ellipse cx="463.6" cy="515.0" rx="6.48" ry="6.8"/>
<ellipse cx="453.7" cy="526.9" rx="6.48" ry="6.8"/>
<ellipse cx="427.0" cy="531.8" rx="6.48" ry="6.8"/>
<ellipse cx="423.6" cy="530.5" rx="6.48" ry="6.8"/>
<ellipse cx="455.7" cy="532.8" rx="6.48" ry="6.8"/>
<ellipse cx="460.5" cy="537.8" rx="6.48" ry="6.8"/>
<ellipse cx="461.7" cy="538.8" rx="6.48" ry="6.8"/>
<ellipse cx="339.9" cy="545.7" rx="6.48" ry="6.8"/>
<ellipse cx="371.6" cy="544.7" rx="6.48" ry="6.8"/>
<ellipse cx="376.9" cy="542.5" rx="6.48" ry="6.8"/>
<ellipse cx="459.7" cy="548.7" rx="6.48" ry="6.8"/>
<ellipse cx="430.0" cy="562.5" rx="6.48" ry="6.8"/>
<ellipse cx="474.9" cy="416.0" rx="6.48" ry="6.8"/>
<ellipse cx="488.8" cy="418.0" rx="6.48" ry="6.8"/>
<ellipse cx="504.6" cy="417.0" rx="6.48" ry="6.8"/>
<ellipse cx="501.0" cy="420.2" rx="6.48" ry="6.8"/>
<ellipse cx="524.4" cy="417.0" rx="6.48" ry="6.8"/>
<ellipse cx="534.3" cy="416.0" rx="6.48" ry="6.8"/>
<ellipse cx="545.2" cy="423.9" rx="6.48" ry="6.8"/>
<ellipse cx="502.6" cy="425.9" rx="6.48" ry="6.8"/>
<ellipse cx="520.5" cy="428.9" rx="6.48" ry="6.8"/>
<ellipse cx="528.4" cy="433.8" rx="6.48" ry="6.8"/>
<ellipse cx="487.8" cy="431.8" rx="6.48" ry="6.8"/>
<ellipse cx="475.9" cy="440.7" rx="6.48" ry="6.8"/>
<ellipse cx="514.5" cy="445.7" rx="6.48" ry="6.8"/>
<ellipse cx="545.2" cy="438.8" rx="6.48" ry="6.8"/>
<ellipse cx="541.3" cy="452.6" rx="6.48" ry="6.8"/>
<ellipse cx="524.4" cy="461.5" rx="6.48" ry="6.8"/>
<ellipse cx="511.6" cy="464.5" rx="6.48" ry="6.8"/>
<ellipse cx="469.0" cy="464.5" rx="6.48" ry="6.8"/>
<ellipse cx="590.8" cy="421.9" rx="6.48" ry="6.8"/>
<ellipse cx="597.7" cy="434.8" rx="6.48" ry="6.8"/>
<ellipse cx="582.8" cy="467.5" rx="6.48" ry="6.8"/>
<ellipse cx="596.7" cy="464.5" rx="6.48" ry="6.8"/>
<ellipse cx="559.1" cy="473.4" rx="6.48" ry="6.8"/>
<ellipse cx="480.9" cy="482.3" rx="6.48" ry="6.8"/>
<ellipse cx="487.8" cy="484.3" rx="6.48" ry="6.8"/>
<ellipse cx="487.5" cy="481.0" rx="6.48" ry="6.8"/>
<ellipse cx="605.6" cy="497.2" rx="6.48" ry="6.8"/>
<ellipse cx="605.0" cy="498.6" rx="6.48" ry="6.8"/>
<ellipse cx="502.6" cy="517.0" rx="6.48" ry="6.8"/>
<ellipse cx="509.6" cy="522.9" rx="6.48" ry="6.8"/>
<ellipse cx="522.4" cy="535.8" rx="6.48" ry="6.8"/>
<ellipse cx="469.0" cy="519.0" rx="6.48" ry="6.8"/>
<ellipse cx="472.0" cy="545.7" rx="6.48" ry="6.8"/>
<ellipse cx="503.6" cy="551.6" rx="6.48" ry="6.8"/>
</g></g>
<rect x="92.8" y="102.9" width="762.70" height="609.60" fill="none" stroke="#111111" stroke-width="2"/>
<line x1="111.68" y1="712.5" x2="111.68" y2="722.0" stroke="#111111" stroke-width="2"/>
<text transform="translate(111.68,753.10) scale(0.953,1)" font-family='"DejaVu Sans", "Liberation Sans", sans-serif' font-size="26.5" font-weight="normal" text-anchor="middle" fill="#111111">−60</text>
<line x1="221.02" y1="712.5" x2="221.02" y2="722.0" stroke="#111111" stroke-width="2"/>
<text transform="translate(221.02,753.10) scale(0.953,1)" font-family='"DejaVu Sans", "Liberation Sans", sans-serif' font-size="26.5" font-weight="normal" text-anchor="middle" fill="#111111">−40</text>
<line x1="330.36" y1="712.5" x2="330.36" y2="722.0" stroke="#111111" stroke-width="2"/>
<text transform="translate(330.36,753.10) scale(0.953,1)" font-family='"DejaVu Sans", "Liberation Sans", sans-serif' font-size="26.5" font-weight="normal" text-anchor="middle" fill="#111111">−20</text>
<line x1="439.70" y1="712.5" x2="439.70" y2="722.0" stroke="#111111" stroke-width="2"/>
<text transform="translate(439.70,753.10) scale(0.953,1)" font-family='"DejaVu Sans", "Liberation Sans", sans-serif' font-size="26.5" font-weight="normal" text-anchor="middle" fill="#111111">0</text>
<line x1="549.04" y1="712.5" x2="549.04" y2="722.0" stroke="#111111" stroke-width="2"/>
<text transform="translate(549.04,753.10) scale(0.953,1)" font-family='"DejaVu Sans", "Liberation Sans", sans-serif' font-size="26.5" font-weight="normal" text-anchor="middle" fill="#111111">20</text>
<line x1="658.38" y1="712.5" x2="658.38" y2="722.0" stroke="#111111" stroke-width="2"/>
<text transform="translate(658.38,753.10) scale(0.953,1)" font-family='"DejaVu Sans", "Liberation Sans", sans-serif' font-size="26.5" font-weight="normal" text-anchor="middle" fill="#111111">40</text>
<line x1="767.72" y1="712.5" x2="767.72" y2="722.0" stroke="#111111" stroke-width="2"/>
<text transform="translate(767.72,753.10) scale(0.953,1)" font-family='"DejaVu Sans", "Liberation Sans", sans-serif' font-size="26.5" font-weight="normal" text-anchor="middle" fill="#111111">60</text>
<line x1="83.3" y1="102.80" x2="92.8" y2="102.80" stroke="#111111" stroke-width="2"/>
<text transform="translate(74.80,113.00) scale(0.953,1)" font-family='"DejaVu Sans", "Liberation Sans", sans-serif' font-size="26.5" font-weight="normal" text-anchor="end" fill="#111111">80</text>
<line x1="83.3" y1="179.00" x2="92.8" y2="179.00" stroke="#111111" stroke-width="2"/>
<text transform="translate(74.80,189.20) scale(0.953,1)" font-family='"DejaVu Sans", "Liberation Sans", sans-serif' font-size="26.5" font-weight="normal" text-anchor="end" fill="#111111">60</text>
<line x1="83.3" y1="255.20" x2="92.8" y2="255.20" stroke="#111111" stroke-width="2"/>
<text transform="translate(74.80,265.40) scale(0.953,1)" font-family='"DejaVu Sans", "Liberation Sans", sans-serif' font-size="26.5" font-weight="normal" text-anchor="end" fill="#111111">40</text>
<line x1="83.3" y1="331.40" x2="92.8" y2="331.40" stroke="#111111" stroke-width="2"/>
<text transform="translate(74.80,341.60) scale(0.953,1)" font-family='"DejaVu Sans", "Liberation Sans", sans-serif' font-size="26.5" font-weight="normal" text-anchor="end" fill="#111111">20</text>
<line x1="83.3" y1="407.60" x2="92.8" y2="407.60" stroke="#111111" stroke-width="2"/>
<text transform="translate(74.80,417.80) scale(0.953,1)" font-family='"DejaVu Sans", "Liberation Sans", sans-serif' font-size="26.5" font-weight="normal" text-anchor="end" fill="#111111">0</text>
<line x1="83.3" y1="483.80" x2="92.8" y2="483.80" stroke="#111111" stroke-width="2"/>
<text transform="translate(74.80,494.00) scale(0.953,1)" font-family='"DejaVu Sans", "Liberation Sans", sans-serif' font-size="26.5" font-weight="normal" text-anchor="end" fill="#111111">−20</text>
<line x1="83.3" y1="560.00" x2="92.8" y2="560.00" stroke="#111111" stroke-width="2"/>
<text transform="translate(74.80,570.20) scale(0.953,1)" font-family='"DejaVu Sans", "Liberation Sans", sans-serif' font-size="26.5" font-weight="normal" text-anchor="end" fill="#111111">−40</text>
<line x1="83.3" y1="636.20" x2="92.8" y2="636.20" stroke="#111111" stroke-width="2"/>
<text transform="translate(74.80,646.40) scale(0.953,1)" font-family='"DejaVu Sans", "Liberation Sans", sans-serif' font-size="26.5" font-weight="normal" text-anchor="end" fill="#111111">−60</text>
<line x1="83.3" y1="712.40" x2="92.8" y2="712.40" stroke="#111111" stroke-width="2"/>
<text transform="translate(74.80,722.60) scale(0.953,1)" font-family='"DejaVu Sans", "Liberation Sans", sans-serif' font-size="26.5" font-weight="normal" text-anchor="end" fill="#111111">−80</text>
<text transform="translate(474.00,85.50) scale(0.953,1)" font-family='"DejaVu Sans", "Liberation Sans", sans-serif' font-size="31.8" font-weight="normal" text-anchor="middle" fill="#111111">t-SNE Visualization</text>
<rect x="618.9" y="115.7" width="223.70" height="90.90" rx="5" ry="5" fill="#ffffff" fill-opacity="0.8" stroke="#d0d0d0" stroke-width="2"/>
<g filter="url(#soft)"><ellipse cx="654.64" cy="141.30" rx="5.34" ry="5.9" fill="#0000ff"/>
<ellipse cx="654.64" cy="181.90" rx="6.58" ry="7.2" fill="#ff00ff"/></g>
<text transform="translate(699.43,149.00) scale(0.953,1)" font-family='"DejaVu Sans", "Liberation Sans", sans-serif' font-size="26.5" font-weight="normal" text-anchor="start" fill="#111111">5hmC</text>
<text transform="translate(699.43,189.20) scale(0.953,1)" font-family='"DejaVu Sans", "Liberation Sans", sans-serif' font-size="26.5" font-weight="normal" text-anchor="start" fill="#111111">Non-5hmC</text>
<g filter="url(#soft)"><g fill="#0000ff">
<circle cx="1110.7" cy="130.5" r="5.85"/>
<circle cx="1108.5" cy="145.7" r="5.85"/>
<circle cx="1115.1" cy="150.4" r="5.85"/>
<circle cx="1122.3" cy="153.8" r="5.85"/>
<circle cx="1090.8" cy="155.2" r="5.85"/>
<circle cx="1102.8" cy="158.0" r="5.85"/>
<circle cx="1117.0" cy="160.9" r="5.85"/>
<circle cx="1083.8" cy="165.6" r="5.85"/>
<circle cx="1096.1" cy="167.5" r="5.85"/>
<circle cx="1105.6" cy="167.5" r="5.85"/>
<circle cx="1115.1" cy="168.5" r="5.85"/>
<circle cx="1084.7" cy="174.2" r="5.85"/>
<circle cx="1093.3" cy="177.0" r="5.85"/>
<circle cx="1101.8" cy="177.0" r="5.85"/>
<circle cx="1109.4" cy="176.1" r="5.85"/>
<circle cx="1118.0" cy="177.0" r="5.85"/>
<circle cx="1122.7" cy="183.7" r="5.85"/>
<circle cx="1115.1" cy="182.7" r="5.85"/>
<circle cx="1119.9" cy="187.5" r="5.85"/>
<circle cx="1108.5" cy="182.7" r="5.85"/>
<circle cx="1100.9" cy="180.8" r="5.85"/>
<circle cx="1131.6" cy="165.0" r="5.85"/>
<circle cx="1098.0" cy="153.3" r="5.85"/>
<circle cx="1095.2" cy="161.8" r="5.85"/>
<circle cx="1106.6" cy="163.7" r="5.85"/>
<circle cx="1048.6" cy="179.9" r="5.85"/>
<circle cx="1050.5" cy="182.7" r="5.85"/>
<circle cx="1054.3" cy="193.2" r="5.85"/>
<circle cx="1061.9" cy="188.4" r="5.85"/>
<circle cx="1069.5" cy="190.3" r="5.85"/>
<circle cx="1074.3" cy="197.0" r="5.85"/>
<circle cx="1065.7" cy="197.9" r="5.85"/>
<circle cx="1058.1" cy="199.8" r="5.85"/>
<circle cx="1069.5" cy="205.5" r="5.85"/>
<circle cx="1061.9" cy="207.4" r="5.85"/>
<circle cx="1052.4" cy="205.5" r="5.85"/>
<circle cx="1043.9" cy="210.3" r="5.85"/>
<circle cx="1049.6" cy="213.1" r="5.85"/>
<circle cx="1040.1" cy="217.9" r="5.85"/>
<circle cx="1058.1" cy="214.1" r="5.85"/>
<circle cx="1064.8" cy="216.0" r="5.85"/>
<circle cx="1063.4" cy="224.1" r="5.85"/>
<circle cx="1089.5" cy="200.2" r="5.85"/>
<circle cx="1095.2" cy="201.7" r="5.85"/>
<circle cx="1112.8" cy="213.5" r="5.85"/>
<circle cx="1083.8" cy="221.7" r="5.85"/>
<circle cx="1093.3" cy="218.8" r="5.85"/>
<circle cx="1101.8" cy="223.6" r="5.85"/>
<circle cx="1109.4" cy="224.5" r="5.85"/>
<circle cx="1120.8" cy="224.5" r="5.85"/>
<circle cx="1117.0" cy="230.2" r="5.85"/>
<circle cx="1123.7" cy="234.0" r="5.85"/>
<circle cx="1115.1" cy="236.9" r="5.85"/>
<circle cx="1086.6" cy="230.2" r="5.85"/>
<circle cx="1096.1" cy="229.3" r="5.85"/>
<circle cx="1099.9" cy="235.0" r="5.85"/>
<circle cx="1074.3" cy="232.1" r="5.85"/>
<circle cx="1079.0" cy="234.0" r="5.85"/>
<circle cx="1069.5" cy="235.9" r="5.85"/>
<circle cx="1084.7" cy="237.8" r="5.85"/>
<circle cx="1067.6" cy="243.5" r="5.85"/>
<circle cx="1075.2" cy="245.4" r="5.85"/>
<circle cx="1084.7" cy="246.4" r="5.85"/>
<circle cx="1078.1" cy="251.1" r="5.85"/>
<circle cx="1064.8" cy="255.3" r="5.85"/>
<circle cx="1069.5" cy="251.1" r="5.85"/>
<circle cx="1014.4" cy="227.4" r="5.85"/>
<circle cx="1017.3" cy="231.2" r="5.85"/>
<circle cx="1022.0" cy="234.0" r="5.85"/>
<circle cx="1013.5" cy="234.0" r="5.85"/>
<circle cx="1018.2" cy="239.7" r="5.85"/>
<circle cx="1022.0" cy="244.5" r="5.85"/>
<circle cx="1038.2" cy="262.9" r="5.85"/>
<circle cx="1035.3" cy="271.4" r="5.85"/>
<circle cx="1042.0" cy="269.5" r="5.85"/>
<circle cx="1047.7" cy="273.3" r="5.85"/>
<circle cx="1040.1" cy="277.1" r="5.85"/>
<circle cx="1045.8" cy="280.0" r="5.85"/>
<circle cx="1049.6" cy="279.0" r="5.85"/>
<circle cx="1064.8" cy="260.0" r="5.85"/>
<circle cx="1133.2" cy="278.4" r="5.85"/>
<circle cx="1164.5" cy="270.5" r="5.85"/>
<circle cx="1161.7" cy="280.0" r="5.85"/>
<circle cx="1179.7" cy="263.8" r="5.85"/>
<circle cx="1185.4" cy="261.9" r="5.85"/>
<circle cx="1178.8" cy="273.3" r="5.85"/>
<circle cx="1178.8" cy="283.8" r="5.85"/>
<circle cx="1192.1" cy="261.0" r="5.85"/>
<circle cx="1148.4" cy="290.4" r="5.85"/>
<circle cx="1145.5" cy="297.1" r="5.85"/>
<circle cx="1141.7" cy="302.8" r="5.85"/>
<circle cx="1114.2" cy="305.6" r="5.85"/>
<circle cx="1108.5" cy="309.4" r="5.85"/>
<circle cx="1117.0" cy="308.5" r="5.85"/>
<circle cx="1174.0" cy="310.4" r="5.85"/>
<circle cx="1182.6" cy="312.3" r="5.85"/>
<circle cx="1186.4" cy="325.6" r="5.85"/>
<circle cx="1192.1" cy="326.5" r="5.85"/>
<circle cx="1091.4" cy="330.3" r="5.85"/>
<circle cx="1158.8" cy="326.5" r="5.85"/>
<circle cx="1154.1" cy="335.1" r="5.85"/>
<circle cx="1162.6" cy="333.2" r="5.85"/>
<circle cx="1168.3" cy="338.9" r="5.85"/>
<circle cx="1155.0" cy="340.8" r="5.85"/>
<circle cx="1127.5" cy="354.1" r="5.85"/>
<circle cx="1134.1" cy="356.0" r="5.85"/>
<circle cx="1144.6" cy="352.2" r="5.85"/>
<circle cx="1139.8" cy="358.8" r="5.85"/>
<circle cx="1150.3" cy="362.6" r="5.85"/>
<circle cx="1137.0" cy="366.4" r="5.85"/>
<circle cx="1136.0" cy="372.1" r="5.85"/>
<circle cx="1133.2" cy="379.7" r="5.85"/>
<circle cx="1100.9" cy="358.8" r="5.85"/>
<circle cx="1176.9" cy="362.6" r="5.85"/>
<circle cx="1170.2" cy="366.4" r="5.85"/>
<circle cx="1109.4" cy="377.8" r="5.85"/>
<circle cx="1077.1" cy="377.8" r="5.85"/>
<circle cx="1070.5" cy="380.7" r="5.85"/>
<circle cx="1063.8" cy="382.6" r="5.85"/>
<circle cx="1057.2" cy="387.3" r="5.85"/>
<circle cx="1063.8" cy="395.9" r="5.85"/>
<circle cx="1122.7" cy="384.5" r="5.85"/>
<circle cx="1130.3" cy="391.1" r="5.85"/>
<circle cx="1137.9" cy="393.0" r="5.85"/>
<circle cx="1145.5" cy="391.1" r="5.85"/>
<circle cx="1134.1" cy="398.7" r="5.85"/>
<circle cx="1143.6" cy="397.8" r="5.85"/>
<circle cx="1149.3" cy="398.7" r="5.85"/>
<circle cx="1156.0" cy="383.5" r="5.85"/>
<circle cx="1175.9" cy="383.5" r="5.85"/>
<circle cx="1184.5" cy="388.3" r="5.85"/>
<circle cx="1169.3" cy="391.1" r="5.85"/>
<circle cx="1177.8" cy="394.9" r="5.85"/>
<circle cx="1172.1" cy="400.6" r="5.85"/>
<circle cx="1089.5" cy="394.0" r="5.85"/>
<circle cx="1084.7" cy="400.6" r="5.85"/>
<circle cx="1036.3" cy="395.9" r="5.85"/>
<circle cx="1033.4" cy="401.6" r="5.85"/>
<circle cx="1041.0" cy="401.6" r="5.85"/>
<circle cx="1111.3" cy="402.5" r="5.85"/>
<circle cx="1060.0" cy="403.5" r="5.85"/>
<circle cx="1218.7" cy="261.9" r="5.85"/>
<circle cx="1227.2" cy="265.7" r="5.85"/>
<circle cx="1241.5" cy="262.9" r="5.85"/>
<circle cx="1245.3" cy="267.6" r="5.85"/>
<circle cx="1244.3" cy="274.3" r="5.85"/>
<circle cx="1208.2" cy="269.5" r="5.85"/>
<circle cx="1216.8" cy="275.2" r="5.85"/>
<circle cx="1230.1" cy="279.0" r="5.85"/>
<circle cx="1198.7" cy="283.8" r="5.85"/>
<circle cx="1204.4" cy="289.5" r="5.85"/>
<circle cx="1212.0" cy="286.6" r="5.85"/>
<circle cx="1219.6" cy="290.4" r="5.85"/>
<circle cx="1213.0" cy="295.2" r="5.85"/>
<circle cx="1205.4" cy="297.1" r="5.85"/>
<circle cx="1224.4" cy="289.5" r="5.85"/>
<circle cx="1233.9" cy="293.3" r="5.85"/>
<circle cx="1239.6" cy="286.6" r="5.85"/>
<circle cx="1246.2" cy="282.8" r="5.85"/>
<circle cx="1253.8" cy="280.9" r="5.85"/>
<circle cx="1257.6" cy="286.6" r="5.85"/>
<circle cx="1250.0" cy="290.4" r="5.85"/>
<circle cx="1242.4" cy="294.2" r="5.85"/>
<circle cx="1250.0" cy="298.0" r="5.85"/>
<circle cx="1259.5" cy="294.2" r="5.85"/>
<circle cx="1266.2" cy="294.2" r="5.85"/>
<circle cx="1261.4" cy="300.9" r="5.85"/>
<circle cx="1254.8" cy="302.8" r="5.85"/>
<circle cx="1277.6" cy="282.8" r="5.85"/>
<circle cx="1274.7" cy="284.7" r="5.85"/>
<circle cx="1198.7" cy="304.7" r="5.85"/>
<circle cx="1213.0" cy="310.4" r="5.85"/>
<circle cx="1224.4" cy="306.6" r="5.85"/>
<circle cx="1227.2" cy="305.6" r="5.85"/>
<circle cx="1215.8" cy="316.1" r="5.85"/>
<circle cx="1257.6" cy="311.3" r="5.85"/>
<circle cx="1202.5" cy="318.0" r="5.85"/>
<circle cx="1201.6" cy="326.5" r="5.85"/>
<circle cx="1209.2" cy="337.9" r="5.85"/>
<circle cx="1193.0" cy="325.6" r="5.85"/>
<circle cx="1241.5" cy="318.9" r="5.85"/>
<circle cx="1224.4" cy="328.4" r="5.85"/>
<circle cx="1231.0" cy="331.3" r="5.85"/>
<circle cx="1238.6" cy="327.5" r="5.85"/>
<circle cx="1245.3" cy="335.1" r="5.85"/>
<circle cx="1230.1" cy="337.0" r="5.85"/>
<circle cx="1253.8" cy="326.1" r="5.85"/>
<circle cx="1235.8" cy="345.5" r="5.85"/>
<circle cx="1233.9" cy="356.0" r="5.85"/>
<circle cx="1219.6" cy="354.1" r="5.85"/>
<circle cx="1213.0" cy="358.8" r="5.85"/>
<circle cx="1203.5" cy="362.6" r="5.85"/>
<circle cx="1214.9" cy="366.4" r="5.85"/>
<circle cx="1211.1" cy="375.9" r="5.85"/>
<circle cx="1209.2" cy="384.5" r="5.85"/>
<circle cx="1227.2" cy="376.9" r="5.85"/>
<circle cx="1229.1" cy="384.5" r="5.85"/>
<circle cx="1221.5" cy="394.9" r="5.85"/>
<circle cx="1234.8" cy="401.6" r="5.85"/>
<circle cx="1194.9" cy="402.5" r="5.85"/>
<circle cx="1251.0" cy="364.5" r="5.85"/>
<circle cx="1254.8" cy="370.2" r="5.85"/>
<circle cx="1257.6" cy="376.9" r="5.85"/>
<circle cx="1260.5" cy="383.5" r="5.85"/>
<circle cx="1253.8" cy="391.1" r="5.85"/>
<circle cx="1270.9" cy="387.3" r="5.85"/>
<circle cx="1268.1" cy="393.0" r="5.85"/>
<circle cx="1261.4" cy="398.7" r="5.85"/>
<circle cx="1300.9" cy="388.6" r="5.85"/>
<circle cx="1034.4" cy="405.9" r="5.85"/>
<circle cx="1041.0" cy="405.0" r="5.85"/>
<circle cx="1061.0" cy="407.8" r="5.85"/>
<circle cx="1068.6" cy="412.6" r="5.85"/>
<circle cx="1075.2" cy="411.6" r="5.85"/>
<circle cx="1082.8" cy="407.8" r="5.85"/>
<circle cx="1089.5" cy="409.7" r="5.85"/>
<circle cx="1095.2" cy="412.6" r="5.85"/>
<circle cx="1109.4" cy="405.9" r="5.85"/>
<circle cx="1117.0" cy="409.7" r="5.85"/>
<circle cx="1124.6" cy="412.6" r="5.85"/>
<circle cx="1136.0" cy="405.9" r="5.85"/>
<circle cx="1138.9" cy="415.4" r="5.85"/>
<circle cx="1150.3" cy="409.7" r="5.85"/>
<circle cx="1173.1" cy="412.6" r="5.85"/>
<circle cx="1170.2" cy="405.9" r="5.85"/>
<circle cx="1192.1" cy="417.3" r="5.85"/>
<circle cx="1190.2" cy="423.0" r="5.85"/>
<circle cx="1066.7" cy="418.3" r="5.85"/>
<circle cx="1074.3" cy="421.1" r="5.85"/>
<circle cx="1079.0" cy="417.3" r="5.85"/>
<circle cx="1075.2" cy="425.9" r="5.85"/>
<circle cx="1087.6" cy="428.7" r="5.85"/>
<circle cx="1094.2" cy="425.9" r="5.85"/>
<circle cx="1099.0" cy="428.7" r="5.85"/>
<circle cx="1115.1" cy="419.2" r="5.85"/>
<circle cx="1126.5" cy="423.0" r="5.85"/>
<circle cx="1134.1" cy="426.8" r="5.85"/>
<circle cx="1116.1" cy="432.5" r="5.85"/>
<circle cx="1156.9" cy="423.0" r="5.85"/>
<circle cx="1155.0" cy="426.8" r="5.85"/>
<circle cx="1072.4" cy="435.4" r="5.85"/>
<circle cx="1075.2" cy="440.1" r="5.85"/>
<circle cx="1090.4" cy="432.5" r="5.85"/>
<circle cx="1096.1" cy="436.3" r="5.85"/>
<circle cx="1099.9" cy="441.1" r="5.85"/>
<circle cx="1128.4" cy="434.4" r="5.85"/>
<circle cx="1123.7" cy="442.0" r="5.85"/>
<circle cx="1144.6" cy="435.4" r="5.85"/>
<circle cx="1143.6" cy="442.0" r="5.85"/>
<circle cx="1173.1" cy="434.4" r="5.85"/>
<circle cx="1171.2" cy="440.1" r="5.85"/>
<circle cx="1043.9" cy="443.0" r="5.85"/>
<circle cx="1061.9" cy="443.0" r="5.85"/>
<circle cx="1031.5" cy="448.7" r="5.85"/>
<circle cx="1037.2" cy="452.5" r="5.85"/>
<circle cx="1069.5" cy="449.6" r="5.85"/>
<circle cx="1076.2" cy="446.8" r="5.85"/>
<circle cx="1089.5" cy="450.6" r="5.85"/>
<circle cx="1105.6" cy="445.8" r="5.85"/>
<circle cx="1112.3" cy="448.7" r="5.85"/>
<circle cx="1118.9" cy="453.4" r="5.85"/>
<circle cx="1136.0" cy="446.8" r="5.85"/>
<circle cx="1132.2" cy="455.3" r="5.85"/>
<circle cx="1126.5" cy="451.5" r="5.85"/>
<circle cx="1100.9" cy="454.4" r="5.85"/>
<circle cx="1043.9" cy="456.3" r="5.85"/>
<circle cx="1053.4" cy="460.1" r="5.85"/>
<circle cx="1065.7" cy="455.3" r="5.85"/>
<circle cx="1073.3" cy="457.2" r="5.85"/>
<circle cx="1079.0" cy="458.2" r="5.85"/>
<circle cx="1075.2" cy="463.9" r="5.85"/>
<circle cx="1092.3" cy="459.1" r="5.85"/>
<circle cx="1098.0" cy="461.0" r="5.85"/>
<circle cx="1105.6" cy="459.1" r="5.85"/>
<circle cx="1113.2" cy="461.0" r="5.85"/>
<circle cx="1122.7" cy="461.0" r="5.85"/>
<circle cx="1128.4" cy="461.0" r="5.85"/>
<circle cx="1154.1" cy="457.2" r="5.85"/>
<circle cx="1168.3" cy="458.2" r="5.85"/>
<circle cx="1156.9" cy="464.8" r="5.85"/>
<circle cx="1032.5" cy="467.7" r="5.85"/>
<circle cx="1062.9" cy="467.7" r="5.85"/>
<circle cx="1015.4" cy="473.4" r="5.85"/>
<circle cx="1021.1" cy="476.2" r="5.85"/>
<circle cx="1085.7" cy="470.5" r="5.85"/>
<circle cx="1092.3" cy="466.7" r="5.85"/>
<circle cx="1099.9" cy="468.6" r="5.85"/>
<circle cx="1107.5" cy="466.7" r="5.85"/>
<circle cx="1115.1" cy="468.6" r="5.85"/>
<circle cx="1120.8" cy="469.6" r="5.85"/>
<circle cx="1132.2" cy="467.7" r="5.85"/>
<circle cx="1139.8" cy="470.5" r="5.85"/>
<circle cx="1149.3" cy="470.5" r="5.85"/>
<circle cx="1158.8" cy="470.5" r="5.85"/>
<circle cx="1162.6" cy="475.3" r="5.85"/>
<circle cx="1173.1" cy="470.5" r="5.85"/>
<circle cx="1181.6" cy="471.5" r="5.85"/>
<circle cx="1027.7" cy="481.9" r="5.85"/>
<circle cx="1057.2" cy="483.8" r="5.85"/>
<circle cx="1066.7" cy="478.1" r="5.85"/>
<circle cx="1073.3" cy="480.0" r="5.85"/>
<circle cx="1068.6" cy="485.7" r="5.85"/>
<circle cx="1088.5" cy="480.0" r="5.85"/>
<circle cx="1094.2" cy="476.2" r="5.85"/>
<circle cx="1101.8" cy="478.1" r="5.85"/>
<circle cx="1109.4" cy="480.0" r="5.85"/>
<circle cx="1118.9" cy="479.1" r="5.85"/>
<circle cx="1126.5" cy="478.1" r="5.85"/>
<circle cx="1138.9" cy="478.1" r="5.85"/>
<circle cx="1145.5" cy="480.0" r="5.85"/>
<circle cx="1170.2" cy="479.1" r="5.85"/>
<circle cx="1175.9" cy="481.0" r="5.85"/>
<circle cx="1153.1" cy="483.8" r="5.85"/>
<circle cx="1166.4" cy="485.7" r="5.85"/>
<circle cx="1186.4" cy="485.7" r="5.85"/>
<circle cx="1120.8" cy="485.7" r="5.85"/>
<circle cx="1086.6" cy="491.4" r="5.85"/>
<circle cx="1094.2" cy="487.6" r="5.85"/>
<circle cx="1099.9" cy="489.5" r="5.85"/>
<circle cx="1108.5" cy="496.2" r="5.85"/>
<circle cx="1119.9" cy="493.3" r="5.85"/>
<circle cx="1136.0" cy="490.5" r="5.85"/>
<circle cx="1141.7" cy="495.2" r="5.85"/>
<circle cx="1149.3" cy="489.5" r="5.85"/>
<circle cx="1156.9" cy="493.3" r="5.85"/>
<circle cx="1162.6" cy="497.1" r="5.85"/>
<circle cx="1184.5" cy="493.3" r="5.85"/>
<circle cx="1036.3" cy="500.9" r="5.85"/>
<circle cx="1045.8" cy="495.2" r="5.85"/>
<circle cx="1043.9" cy="502.8" r="5.85"/>
<circle cx="1054.3" cy="499.0" r="5.85"/>
<circle cx="1060.0" cy="502.8" r="5.85"/>
<circle cx="1067.6" cy="501.9" r="5.85"/>
<circle cx="1046.7" cy="509.5" r="5.85"/>
<circle cx="1089.5" cy="501.9" r="5.85"/>
<circle cx="1106.6" cy="507.6" r="5.85"/>
<circle cx="1098.0" cy="512.3" r="5.85"/>
<circle cx="1111.3" cy="511.4" r="5.85"/>
<circle cx="1127.5" cy="512.3" r="5.85"/>
<circle cx="1137.9" cy="513.3" r="5.85"/>
<circle cx="1147.4" cy="508.5" r="5.85"/>
<circle cx="1155.0" cy="510.4" r="5.85"/>
<circle cx="1162.6" cy="506.6" r="5.85"/>
<circle cx="1171.2" cy="501.9" r="5.85"/>
<circle cx="1177.8" cy="508.5" r="5.85"/>
<circle cx="1164.5" cy="512.3" r="5.85"/>
<circle cx="1063.8" cy="512.3" r="5.85"/>
<circle cx="1077.1" cy="511.4" r="5.85"/>
<circle cx="1059.1" cy="519.9" r="5.85"/>
<circle cx="1084.7" cy="519.0" r="5.85"/>
<circle cx="1079.0" cy="521.8" r="5.85"/>
<circle cx="1072.4" cy="525.6" r="5.85"/>
<circle cx="1061.9" cy="525.6" r="5.85"/>
<circle cx="1094.2" cy="518.0" r="5.85"/>
<circle cx="1103.7" cy="518.0" r="5.85"/>
<circle cx="1118.9" cy="521.8" r="5.85"/>
<circle cx="1145.5" cy="518.0" r="5.85"/>
<circle cx="1153.1" cy="519.9" r="5.85"/>
<circle cx="1166.4" cy="520.9" r="5.85"/>
<circle cx="1188.3" cy="514.2" r="5.85"/>
<circle cx="1187.3" cy="521.8" r="5.85"/>
<circle cx="1094.2" cy="525.6" r="5.85"/>
<circle cx="1099.9" cy="529.4" r="5.85"/>
<circle cx="1109.4" cy="527.5" r="5.85"/>
<circle cx="1137.9" cy="524.7" r="5.85"/>
<circle cx="1144.6" cy="527.5" r="5.85"/>
<circle cx="1190.2" cy="527.5" r="5.85"/>
<circle cx="1069.5" cy="537.0" r="5.85"/>
<circle cx="1084.7" cy="540.8" r="5.85"/>
<circle cx="1092.3" cy="542.7" r="5.85"/>
<circle cx="1101.8" cy="537.0" r="5.85"/>
<circle cx="1109.4" cy="538.9" r="5.85"/>
<circle cx="1117.0" cy="537.0" r="5.85"/>
<circle cx="1124.6" cy="538.9" r="5.85"/>
<circle cx="1132.2" cy="536.1" r="5.85"/>
<circle cx="1143.6" cy="537.0" r="5.85"/>
<circle cx="1146.5" cy="540.8" r="5.85"/>
<circle cx="1157.9" cy="532.3" r="5.85"/>
<circle cx="1165.5" cy="539.9" r="5.85"/>
<circle cx="1179.7" cy="536.1" r="5.85"/>
<circle cx="1101.8" cy="545.6" r="5.85"/>
<circle cx="1115.1" cy="544.6" r="5.85"/>
<circle cx="1126.5" cy="545.6" r="5.85"/>
<circle cx="1155.0" cy="546.5" r="5.85"/>
<circle cx="1032.5" cy="547.5" r="5.85"/>
<circle cx="1136.0" cy="545.6" r="5.85"/>
<circle cx="1194.9" cy="405.9" r="5.85"/>
<circle cx="1233.9" cy="406.9" r="5.85"/>
<circle cx="1194.9" cy="418.3" r="5.85"/>
<circle cx="1200.6" cy="421.1" r="5.85"/>
<circle cx="1193.0" cy="424.9" r="5.85"/>
<circle cx="1210.1" cy="431.6" r="5.85"/>
<circle cx="1204.4" cy="443.0" r="5.85"/>
<circle cx="1212.0" cy="441.1" r="5.85"/>
<circle cx="1234.4" cy="428.7" r="5.85"/>
<circle cx="1262.4" cy="427.8" r="5.85"/>
<circle cx="1268.1" cy="429.7" r="5.85"/>
<circle cx="1265.2" cy="433.5" r="5.85"/>
<circle cx="1244.3" cy="446.8" r="5.85"/>
<circle cx="1250.0" cy="448.7" r="5.85"/>
<circle cx="1280.4" cy="439.2" r="5.85"/>
<circle cx="1271.9" cy="446.8" r="5.85"/>
<circle cx="1282.3" cy="445.8" r="5.85"/>
<circle cx="1289.9" cy="449.6" r="5.85"/>
<circle cx="1274.7" cy="457.2" r="5.85"/>
<circle cx="1283.3" cy="455.3" r="5.85"/>
<circle cx="1288.0" cy="461.0" r="5.85"/>
<circle cx="1289.9" cy="465.8" r="5.85"/>
<circle cx="1222.5" cy="456.3" r="5.85"/>
<circle cx="1224.4" cy="463.9" r="5.85"/>
<circle cx="1198.3" cy="461.0" r="5.85"/>
<circle cx="1204.4" cy="475.3" r="5.85"/>
<circle cx="1211.1" cy="473.4" r="5.85"/>
<circle cx="1217.7" cy="477.2" r="5.85"/>
<circle cx="1224.4" cy="474.3" r="5.85"/>
<circle cx="1232.9" cy="476.2" r="5.85"/>
<circle cx="1210.1" cy="487.6" r="5.85"/>
<circle cx="1226.3" cy="483.8" r="5.85"/>
<circle cx="1228.2" cy="491.4" r="5.85"/>
<circle cx="1232.9" cy="495.2" r="5.85"/>
<circle cx="1266.2" cy="475.3" r="5.85"/>
<circle cx="1274.7" cy="473.4" r="5.85"/>
<circle cx="1261.4" cy="487.6" r="5.85"/>
<circle cx="1287.1" cy="488.6" r="5.85"/>
<circle cx="1286.1" cy="498.1" r="5.85"/>
<circle cx="1269.0" cy="502.4" r="5.85"/>
<circle cx="1239.6" cy="502.8" r="5.85"/>
<circle cx="1248.1" cy="500.9" r="5.85"/>
<circle cx="1254.8" cy="501.9" r="5.85"/>
<circle cx="1250.0" cy="508.5" r="5.85"/>
<circle cx="1197.8" cy="508.5" r="5.85"/>
<circle cx="1194.9" cy="516.1" r="5.85"/>
<circle cx="1193.0" cy="529.4" r="5.85"/>
<circle cx="1221.5" cy="509.5" r="5.85"/>
<circle cx="1229.1" cy="512.3" r="5.85"/>
<circle cx="1271.9" cy="516.1" r="5.85"/>
<circle cx="1276.6" cy="518.0" r="5.85"/>
<circle cx="1213.9" cy="523.7" r="5.85"/>
<circle cx="1221.5" cy="525.6" r="5.85"/>
<circle cx="1226.3" cy="531.3" r="5.85"/>
<circle cx="1229.1" cy="535.1" r="5.85"/>
<circle cx="1233.9" cy="520.9" r="5.85"/>
<circle cx="1240.5" cy="518.0" r="5.85"/>
<circle cx="1248.1" cy="516.1" r="5.85"/>
<circle cx="1255.7" cy="518.0" r="5.85"/>
<circle cx="1263.3" cy="521.8" r="5.85"/>
<circle cx="1242.4" cy="525.6" r="5.85"/>
<circle cx="1250.0" cy="527.5" r="5.85"/>
<circle cx="1257.6" cy="527.5" r="5.85"/>
<circle cx="1246.2" cy="533.2" r="5.85"/>
<circle cx="1238.6" cy="531.3" r="5.85"/>
<circle cx="1268.1" cy="525.6" r="5.85"/>
<circle cx="1251.9" cy="537.0" r="5.85"/>
<circle cx="1284.2" cy="525.6" r="5.85"/>
<circle cx="1295.6" cy="524.7" r="5.85"/>
<circle cx="1307.0" cy="524.7" r="5.85"/>
<circle cx="1289.9" cy="531.3" r="5.85"/>
<circle cx="1299.4" cy="533.2" r="5.85"/>
<circle cx="1307.0" cy="531.3" r="5.85"/>
<circle cx="1316.5" cy="539.9" r="5.85"/>
<circle cx="1282.3" cy="537.0" r="5.85"/>
<circle cx="1291.8" cy="540.8" r="5.85"/>
<circle cx="1301.3" cy="540.8" r="5.85"/>
<circle cx="1308.9" cy="542.7" r="5.85"/>
<circle cx="1324.1" cy="546.5" r="5.85"/>
<circle cx="1268.1" cy="537.0" r="5.85"/>
<circle cx="1272.8" cy="540.8" r="5.85"/>
<circle cx="1207.3" cy="543.7" r="5.85"/>
<circle cx="1217.7" cy="544.6" r="5.85"/>
<circle cx="1238.6" cy="541.8" r="5.85"/>
<circle cx="1244.3" cy="546.5" r="5.85"/>
<circle cx="1259.5" cy="547.5" r="5.85"/>
<circle cx="1276.6" cy="546.5" r="5.85"/>
<circle cx="1086.0" cy="552.0" r="5.85"/>
<circle cx="1102.1" cy="549.0" r="5.85"/>
<circle cx="1109.1" cy="552.0" r="5.85"/>
<circle cx="1119.1" cy="558.0" r="5.85"/>
<circle cx="1126.1" cy="550.0" r="5.85"/>
<circle cx="1136.2" cy="555.0" r="5.85"/>
<circle cx="1154.2" cy="550.0" r="5.85"/>
<circle cx="1175.3" cy="557.6" r="5.85"/>
<circle cx="1200.4" cy="557.0" r="5.85"/>
<circle cx="1207.4" cy="555.0" r="5.85"/>
<circle cx="1218.4" cy="548.0" r="5.85"/>
<circle cx="1248.5" cy="549.0" r="5.85"/>
<circle cx="1259.5" cy="551.0" r="5.85"/>
<circle cx="1272.6" cy="550.0" r="5.85"/>
<circle cx="1278.6" cy="554.0" r="5.85"/>
<circle cx="1286.6" cy="551.0" r="5.85"/>
<circle cx="1296.6" cy="554.0" r="5.85"/>
<circle cx="1306.7" cy="550.0" r="5.85"/>
<circle cx="1310.7" cy="557.0" r="5.85"/>
<circle cx="1321.7" cy="550.0" r="5.85"/>
<circle cx="1335.8" cy="559.0" r="5.85"/>
<circle cx="1326.7" cy="562.0" r="5.85"/>
<circle cx="1091.0" cy="576.1" r="5.85"/>
<circle cx="1098.1" cy="581.1" r="5.85"/>
<circle cx="1106.1" cy="578.1" r="5.85"/>
<circle cx="1113.1" cy="585.1" r="5.85"/>
<circle cx="1100.1" cy="591.1" r="5.85"/>
<circle cx="1124.5" cy="570.5" r="5.85"/>
<circle cx="1143.8" cy="571.1" r="5.85"/>
<circle cx="1164.3" cy="562.0" r="5.85"/>
<circle cx="1155.2" cy="570.1" r="5.85"/>
<circle cx="1164.3" cy="571.1" r="5.85"/>
<circle cx="1160.2" cy="578.1" r="5.85"/>
<circle cx="1169.3" cy="573.1" r="5.85"/>
<circle cx="1178.3" cy="571.1" r="5.85"/>
<circle cx="1189.9" cy="574.1" r="5.85"/>
<circle cx="1202.4" cy="584.1" r="5.85"/>
<circle cx="1209.4" cy="581.1" r="5.85"/>
<circle cx="1213.4" cy="584.1" r="5.85"/>
<circle cx="1227.4" cy="570.1" r="5.85"/>
<circle cx="1234.5" cy="568.1" r="5.85"/>
<circle cx="1250.5" cy="561.0" r="5.85"/>
<circle cx="1266.6" cy="566.1" r="5.85"/>
<circle cx="1279.6" cy="568.1" r="5.85"/>
<circle cx="1261.5" cy="576.1" r="5.85"/>
<circle cx="1268.6" cy="579.1" r="5.85"/>
<circle cx="1263.6" cy="584.1" r="5.85"/>
<circle cx="1270.6" cy="588.1" r="5.85"/>
<circle cx="1278.6" cy="584.1" r="5.85"/>
<circle cx="1291.6" cy="567.1" r="5.85"/>
<circle cx="1295.6" cy="573.1" r="5.85"/>
<circle cx="1300.7" cy="578.1" r="5.85"/>
<circle cx="1307.7" cy="574.1" r="5.85"/>
<circle cx="1314.7" cy="572.1" r="5.85"/>
<circle cx="1322.7" cy="570.1" r="5.85"/>
<circle cx="1292.6" cy="582.1" r="5.85"/>
<circle cx="1298.7" cy="587.1" r="5.85"/>
<circle cx="1306.7" cy="582.1" r="5.85"/>
<circle cx="1313.7" cy="581.1" r="5.85"/>
<circle cx="1322.7" cy="579.1" r="5.85"/>
<circle cx="1310.7" cy="589.1" r="5.85"/>
<circle cx="1322.7" cy="586.1" r="5.85"/>
<circle cx="1288.6" cy="590.1" r="5.85"/>
<circle cx="1282.6" cy="595.1" r="5.85"/>
<circle cx="1290.6" cy="598.2" r="5.85"/>
<circle cx="1270.6" cy="598.2" r="5.85"/>
<circle cx="1277.6" cy="601.2" r="5.85"/>
<circle cx="1308.7" cy="566.1" r="5.85"/>
<circle cx="1318.7" cy="565.1" r="5.85"/>
<circle cx="1335.2" cy="582.1" r="5.85"/>
<circle cx="1314.7" cy="602.2" r="5.85"/>
<circle cx="1298.7" cy="610.2" r="5.85"/>
<circle cx="1295.6" cy="614.2" r="5.85"/>
<circle cx="1249.5" cy="593.1" r="5.85"/>
<circle cx="1256.5" cy="595.1" r="5.85"/>
<circle cx="1258.5" cy="603.2" r="5.85"/>
<circle cx="1263.6" cy="613.2" r="5.85"/>
<circle cx="1137.2" cy="600.6" r="5.85"/>
<circle cx="1147.2" cy="604.2" r="5.85"/>
<circle cx="1154.2" cy="602.2" r="5.85"/>
<circle cx="1161.2" cy="606.2" r="5.85"/>
<circle cx="1173.9" cy="603.2" r="5.85"/>
<circle cx="1173.9" cy="607.2" r="5.85"/>
<circle cx="1192.9" cy="607.6" r="5.85"/>
<circle cx="1198.4" cy="622.2" r="5.85"/>
<circle cx="1185.3" cy="627.2" r="5.85"/>
<circle cx="1192.3" cy="630.2" r="5.85"/>
<circle cx="1200.4" cy="631.2" r="5.85"/>
<circle cx="1183.3" cy="638.3" r="5.85"/>
<circle cx="1191.3" cy="639.3" r="5.85"/>
<circle cx="1200.4" cy="638.3" r="5.85"/>
<circle cx="1192.3" cy="646.3" r="5.85"/>
<circle cx="1200.4" cy="647.3" r="5.85"/>
<circle cx="1198.4" cy="653.3" r="5.85"/>
<circle cx="1202.4" cy="656.3" r="5.85"/>
<circle cx="1231.9" cy="625.6" r="5.85"/>
<circle cx="1239.5" cy="641.3" r="5.85"/>
<circle cx="1245.5" cy="642.7" r="5.85"/>
<circle cx="1143.2" cy="654.3" r="5.85"/>
<circle cx="1152.2" cy="652.3" r="5.85"/>
<circle cx="1139.2" cy="664.3" r="5.85"/>
<circle cx="1151.2" cy="663.9" r="5.85"/>
<circle cx="1146.2" cy="659.3" r="5.85"/>
<circle cx="1179.7" cy="674.8" r="5.85"/>
<circle cx="1195.3" cy="668.4" r="5.85"/>
<circle cx="1202.4" cy="667.4" r="5.85"/>
<circle cx="1210.4" cy="665.4" r="5.85"/>
<circle cx="1192.3" cy="675.4" r="5.85"/>
<circle cx="1200.4" cy="674.4" r="5.85"/>
<circle cx="1209.4" cy="672.4" r="5.85"/>
<circle cx="1196.3" cy="681.4" r="5.85"/>
<circle cx="1201.4" cy="680.4" r="5.85"/>
<circle cx="1196.3" cy="686.4" r="5.85"/>
</g>
<g fill="#ff00ff">
<circle cx="1596.4" cy="245.2" r="6.8"/>
<circle cx="1548.5" cy="253.0" r="6.8"/>
<circle cx="1558.8" cy="256.5" r="6.8"/>
<circle cx="1569.3" cy="253.1" r="6.8"/>
<circle cx="1588.9" cy="255.4" r="6.8"/>
<circle cx="1599.5" cy="253.4" r="6.8"/>
<circle cx="1609.1" cy="253.8" r="6.8"/>
<circle cx="1538.6" cy="266.2" r="6.8"/>
<circle cx="1547.6" cy="266.4" r="6.8"/>
<circle cx="1549.3" cy="263.9" r="6.8"/>
<circle cx="1558.1" cy="266.4" r="6.8"/>
<circle cx="1568.5" cy="264.2" r="6.8"/>
<circle cx="1567.6" cy="262.3" r="6.8"/>
<circle cx="1577.1" cy="266.8" r="6.8"/>
<circle cx="1581.2" cy="263.8" r="6.8"/>
<circle cx="1587.5" cy="264.3" r="6.8"/>
<circle cx="1587.6" cy="261.7" r="6.8"/>
<circle cx="1597.8" cy="264.2" r="6.8"/>
<circle cx="1609.7" cy="264.8" r="6.8"/>
<circle cx="1619.7" cy="264.3" r="6.8"/>
<circle cx="1615.4" cy="261.9" r="6.8"/>
<circle cx="1518.4" cy="275.2" r="6.8"/>
<circle cx="1530.4" cy="276.7" r="6.8"/>
<circle cx="1527.1" cy="275.2" r="6.8"/>
<circle cx="1535.7" cy="273.0" r="6.8"/>
<circle cx="1556.1" cy="277.2" r="6.8"/>
<circle cx="1570.1" cy="272.9" r="6.8"/>
<circle cx="1571.0" cy="270.1" r="6.8"/>
<circle cx="1576.0" cy="274.3" r="6.8"/>
<circle cx="1574.5" cy="276.7" r="6.8"/>
<circle cx="1596.0" cy="277.4" r="6.8"/>
<circle cx="1593.5" cy="279.0" r="6.8"/>
<circle cx="1606.7" cy="274.9" r="6.8"/>
<circle cx="1604.4" cy="275.0" r="6.8"/>
<circle cx="1626.2" cy="273.8" r="6.8"/>
<circle cx="1506.9" cy="287.1" r="6.8"/>
<circle cx="1506.3" cy="285.4" r="6.8"/>
<circle cx="1517.5" cy="285.1" r="6.8"/>
<circle cx="1526.5" cy="286.4" r="6.8"/>
<circle cx="1549.4" cy="284.7" r="6.8"/>
<circle cx="1546.5" cy="284.7" r="6.8"/>
<circle cx="1556.8" cy="283.5" r="6.8"/>
<circle cx="1554.9" cy="284.7" r="6.8"/>
<circle cx="1568.4" cy="284.0" r="6.8"/>
<circle cx="1569.1" cy="288.6" r="6.8"/>
<circle cx="1576.6" cy="285.6" r="6.8"/>
<circle cx="1589.9" cy="285.9" r="6.8"/>
<circle cx="1585.1" cy="288.4" r="6.8"/>
<circle cx="1597.0" cy="282.6" r="6.8"/>
<circle cx="1616.5" cy="284.1" r="6.8"/>
<circle cx="1615.6" cy="287.2" r="6.8"/>
<circle cx="1627.2" cy="284.7" r="6.8"/>
<circle cx="1631.3" cy="280.2" r="6.8"/>
<circle cx="1498.0" cy="297.3" r="6.8"/>
<circle cx="1496.4" cy="298.4" r="6.8"/>
<circle cx="1505.5" cy="295.9" r="6.8"/>
<circle cx="1519.1" cy="296.8" r="6.8"/>
<circle cx="1518.4" cy="296.1" r="6.8"/>
<circle cx="1527.7" cy="294.6" r="6.8"/>
<circle cx="1536.3" cy="292.7" r="6.8"/>
<circle cx="1542.7" cy="298.3" r="6.8"/>
<circle cx="1548.9" cy="294.0" r="6.8"/>
<circle cx="1565.7" cy="293.7" r="6.8"/>
<circle cx="1580.0" cy="294.5" r="6.8"/>
<circle cx="1596.1" cy="295.5" r="6.8"/>
<circle cx="1595.3" cy="291.9" r="6.8"/>
<circle cx="1605.5" cy="294.5" r="6.8"/>
<circle cx="1605.8" cy="296.5" r="6.8"/>
<circle cx="1615.8" cy="295.1" r="6.8"/>
<circle cx="1617.0" cy="299.1" r="6.8"/>
<circle cx="1626.1" cy="294.6" r="6.8"/>
<circle cx="1626.7" cy="299.7" r="6.8"/>
<circle cx="1638.3" cy="295.1" r="6.8"/>
<circle cx="1647.7" cy="296.8" r="6.8"/>
<circle cx="1480.2" cy="304.3" r="6.8"/>
<circle cx="1480.3" cy="301.8" r="6.8"/>
<circle cx="1489.7" cy="304.1" r="6.8"/>
<circle cx="1489.0" cy="304.0" r="6.8"/>
<circle cx="1500.1" cy="304.7" r="6.8"/>
<circle cx="1493.2" cy="300.3" r="6.8"/>
<circle cx="1508.0" cy="306.1" r="6.8"/>
<circle cx="1506.3" cy="304.8" r="6.8"/>
<circle cx="1520.0" cy="307.4" r="6.8"/>
<circle cx="1528.7" cy="305.4" r="6.8"/>
<circle cx="1529.1" cy="301.7" r="6.8"/>
<circle cx="1537.0" cy="306.7" r="6.8"/>
<circle cx="1540.3" cy="304.7" r="6.8"/>
<circle cx="1546.9" cy="305.0" r="6.8"/>
<circle cx="1545.4" cy="308.5" r="6.8"/>
<circle cx="1560.4" cy="303.4" r="6.8"/>
<circle cx="1561.1" cy="307.2" r="6.8"/>
<circle cx="1566.6" cy="305.4" r="6.8"/>
<circle cx="1571.6" cy="305.9" r="6.8"/>
<circle cx="1578.1" cy="303.3" r="6.8"/>
<circle cx="1577.7" cy="303.6" r="6.8"/>
<circle cx="1586.4" cy="303.5" r="6.8"/>
<circle cx="1600.1" cy="306.7" r="6.8"/>
<circle cx="1600.9" cy="301.3" r="6.8"/>
<circle cx="1606.5" cy="306.0" r="6.8"/>
<circle cx="1603.8" cy="307.8" r="6.8"/>
<circle cx="1616.5" cy="303.4" r="6.8"/>
<circle cx="1621.4" cy="300.1" r="6.8"/>
<circle cx="1639.9" cy="304.0" r="6.8"/>
<circle cx="1637.7" cy="301.2" r="6.8"/>
<circle cx="1650.3" cy="303.4" r="6.8"/>
<circle cx="1659.9" cy="304.8" r="6.8"/>
<circle cx="1469.9" cy="315.2" r="6.8"/>
<circle cx="1472.3" cy="315.7" r="6.8"/>
<circle cx="1479.4" cy="313.6" r="6.8"/>
<circle cx="1473.9" cy="311.9" r="6.8"/>
<circle cx="1487.7" cy="314.6" r="6.8"/>
<circle cx="1499.7" cy="314.2" r="6.8"/>
<circle cx="1508.8" cy="314.2" r="6.8"/>
<circle cx="1512.6" cy="316.6" r="6.8"/>
<circle cx="1515.7" cy="315.9" r="6.8"/>
<circle cx="1517.2" cy="317.7" r="6.8"/>
<circle cx="1526.6" cy="313.8" r="6.8"/>
<circle cx="1532.0" cy="310.9" r="6.8"/>
<circle cx="1539.7" cy="316.1" r="6.8"/>
<circle cx="1539.6" cy="316.2" r="6.8"/>
<circle cx="1549.0" cy="315.2" r="6.8"/>
<circle cx="1548.0" cy="312.4" r="6.8"/>
<circle cx="1557.8" cy="314.5" r="6.8"/>
<circle cx="1555.3" cy="313.4" r="6.8"/>
<circle cx="1567.5" cy="315.3" r="6.8"/>
<circle cx="1576.8" cy="315.3" r="6.8"/>
<circle cx="1575.3" cy="311.4" r="6.8"/>
<circle cx="1590.3" cy="317.2" r="6.8"/>
<circle cx="1596.4" cy="313.3" r="6.8"/>
<circle cx="1596.0" cy="314.3" r="6.8"/>
<circle cx="1605.5" cy="314.6" r="6.8"/>
<circle cx="1619.7" cy="313.4" r="6.8"/>
<circle cx="1620.9" cy="313.8" r="6.8"/>
<circle cx="1627.1" cy="313.3" r="6.8"/>
<circle cx="1625.7" cy="312.6" r="6.8"/>
<circle cx="1636.7" cy="315.1" r="6.8"/>
<circle cx="1647.2" cy="314.7" r="6.8"/>
<circle cx="1659.7" cy="316.3" r="6.8"/>
<circle cx="1666.4" cy="316.5" r="6.8"/>
<circle cx="1467.3" cy="327.4" r="6.8"/>
<circle cx="1469.8" cy="328.8" r="6.8"/>
<circle cx="1475.7" cy="324.1" r="6.8"/>
<circle cx="1475.3" cy="323.8" r="6.8"/>
<circle cx="1488.9" cy="323.2" r="6.8"/>
<circle cx="1497.0" cy="325.8" r="6.8"/>
<circle cx="1500.9" cy="324.2" r="6.8"/>
<circle cx="1519.7" cy="327.3" r="6.8"/>
<circle cx="1513.2" cy="323.7" r="6.8"/>
<circle cx="1530.4" cy="325.8" r="6.8"/>
<circle cx="1537.9" cy="327.2" r="6.8"/>
<circle cx="1548.6" cy="325.4" r="6.8"/>
<circle cx="1543.1" cy="322.1" r="6.8"/>
<circle cx="1559.1" cy="326.7" r="6.8"/>
<circle cx="1569.9" cy="322.7" r="6.8"/>
<circle cx="1565.6" cy="320.2" r="6.8"/>
<circle cx="1578.4" cy="327.1" r="6.8"/>
<circle cx="1586.0" cy="325.8" r="6.8"/>
<circle cx="1598.8" cy="324.6" r="6.8"/>
<circle cx="1601.9" cy="329.0" r="6.8"/>
<circle cx="1619.1" cy="325.2" r="6.8"/>
<circle cx="1615.8" cy="322.4" r="6.8"/>
<circle cx="1626.7" cy="323.6" r="6.8"/>
<circle cx="1638.7" cy="323.7" r="6.8"/>
<circle cx="1646.0" cy="326.8" r="6.8"/>
<circle cx="1658.7" cy="323.9" r="6.8"/>
<circle cx="1669.9" cy="323.5" r="6.8"/>
<circle cx="1670.9" cy="322.5" r="6.8"/>
<circle cx="1465.5" cy="337.1" r="6.8"/>
<circle cx="1464.2" cy="332.9" r="6.8"/>
<circle cx="1479.4" cy="337.2" r="6.8"/>
<circle cx="1486.5" cy="336.7" r="6.8"/>
<circle cx="1484.1" cy="331.1" r="6.8"/>
<circle cx="1498.3" cy="335.5" r="6.8"/>
<circle cx="1502.5" cy="337.5" r="6.8"/>
<circle cx="1509.2" cy="333.4" r="6.8"/>
<circle cx="1520.1" cy="336.6" r="6.8"/>
<circle cx="1520.1" cy="335.2" r="6.8"/>
<circle cx="1528.2" cy="333.8" r="6.8"/>
<circle cx="1539.5" cy="336.3" r="6.8"/>
<circle cx="1540.4" cy="330.9" r="6.8"/>
<circle cx="1548.9" cy="332.7" r="6.8"/>
<circle cx="1544.0" cy="336.5" r="6.8"/>
<circle cx="1560.4" cy="334.8" r="6.8"/>
<circle cx="1558.9" cy="338.4" r="6.8"/>
<circle cx="1580.3" cy="336.6" r="6.8"/>
<circle cx="1573.7" cy="338.9" r="6.8"/>
<circle cx="1586.9" cy="336.3" r="6.8"/>
<circle cx="1596.3" cy="333.5" r="6.8"/>
<circle cx="1601.4" cy="338.5" r="6.8"/>
<circle cx="1610.5" cy="333.9" r="6.8"/>
<circle cx="1611.7" cy="333.8" r="6.8"/>
<circle cx="1618.4" cy="333.6" r="6.8"/>
<circle cx="1637.8" cy="334.9" r="6.8"/>
<circle cx="1647.3" cy="336.3" r="6.8"/>
<circle cx="1657.6" cy="336.1" r="6.8"/>
<circle cx="1457.4" cy="344.7" r="6.8"/>
<circle cx="1468.9" cy="343.2" r="6.8"/>
<circle cx="1463.6" cy="342.1" r="6.8"/>
<circle cx="1479.6" cy="347.1" r="6.8"/>
<circle cx="1480.6" cy="341.8" r="6.8"/>
<circle cx="1488.0" cy="344.2" r="6.8"/>
<circle cx="1487.3" cy="345.5" r="6.8"/>
<circle cx="1499.8" cy="343.0" r="6.8"/>
<circle cx="1493.0" cy="342.1" r="6.8"/>
<circle cx="1506.8" cy="346.6" r="6.8"/>
<circle cx="1516.6" cy="344.9" r="6.8"/>
<circle cx="1517.9" cy="349.6" r="6.8"/>
<circle cx="1530.3" cy="342.7" r="6.8"/>
<circle cx="1528.3" cy="346.5" r="6.8"/>
<circle cx="1538.2" cy="346.6" r="6.8"/>
<circle cx="1537.6" cy="348.3" r="6.8"/>
<circle cx="1556.4" cy="343.4" r="6.8"/>
<circle cx="1554.5" cy="345.5" r="6.8"/>
<circle cx="1566.1" cy="343.4" r="6.8"/>
<circle cx="1570.8" cy="346.1" r="6.8"/>
<circle cx="1578.5" cy="345.6" r="6.8"/>
<circle cx="1582.8" cy="346.0" r="6.8"/>
<circle cx="1588.6" cy="342.8" r="6.8"/>
<circle cx="1588.9" cy="349.6" r="6.8"/>
<circle cx="1599.0" cy="342.8" r="6.8"/>
<circle cx="1616.6" cy="345.5" r="6.8"/>
<circle cx="1613.6" cy="347.7" r="6.8"/>
<circle cx="1627.9" cy="345.5" r="6.8"/>
<circle cx="1638.5" cy="344.6" r="6.8"/>
<circle cx="1638.3" cy="342.5" r="6.8"/>
<circle cx="1646.8" cy="346.6" r="6.8"/>
<circle cx="1650.2" cy="346.8" r="6.8"/>
<circle cx="1657.8" cy="346.4" r="6.8"/>
<circle cx="1653.0" cy="348.5" r="6.8"/>
<circle cx="1669.2" cy="346.2" r="6.8"/>
<circle cx="1467.4" cy="354.5" r="6.8"/>
<circle cx="1478.1" cy="353.0" r="6.8"/>
<circle cx="1480.7" cy="356.8" r="6.8"/>
<circle cx="1485.9" cy="354.6" r="6.8"/>
<circle cx="1491.5" cy="352.7" r="6.8"/>
<circle cx="1500.1" cy="356.6" r="6.8"/>
<circle cx="1498.0" cy="355.3" r="6.8"/>
<circle cx="1508.7" cy="356.9" r="6.8"/>
<circle cx="1511.3" cy="350.1" r="6.8"/>
<circle cx="1519.7" cy="353.8" r="6.8"/>
<circle cx="1521.1" cy="359.7" r="6.8"/>
<circle cx="1528.8" cy="356.4" r="6.8"/>
<circle cx="1525.5" cy="356.6" r="6.8"/>
<circle cx="1539.5" cy="353.8" r="6.8"/>
<circle cx="1535.7" cy="352.6" r="6.8"/>
<circle cx="1559.8" cy="352.5" r="6.8"/>
<circle cx="1554.8" cy="357.8" r="6.8"/>
<circle cx="1578.4" cy="356.3" r="6.8"/>
<circle cx="1589.9" cy="355.4" r="6.8"/>
<circle cx="1584.0" cy="354.1" r="6.8"/>
<circle cx="1596.1" cy="354.1" r="6.8"/>
<circle cx="1602.8" cy="359.6" r="6.8"/>
<circle cx="1608.9" cy="354.6" r="6.8"/>
<circle cx="1603.7" cy="354.5" r="6.8"/>
<circle cx="1626.2" cy="355.2" r="6.8"/>
<circle cx="1637.5" cy="356.0" r="6.8"/>
<circle cx="1660.1" cy="354.6" r="6.8"/>
<circle cx="1661.9" cy="355.0" r="6.8"/>
<circle cx="1666.9" cy="355.9" r="6.8"/>
<circle cx="1675.5" cy="353.0" r="6.8"/>
<circle cx="1458.7" cy="365.7" r="6.8"/>
<circle cx="1460.8" cy="366.9" r="6.8"/>
<circle cx="1468.9" cy="365.1" r="6.8"/>
<circle cx="1480.3" cy="365.4" r="6.8"/>
<circle cx="1478.4" cy="368.0" r="6.8"/>
<circle cx="1488.9" cy="366.4" r="6.8"/>
<circle cx="1489.0" cy="362.4" r="6.8"/>
<circle cx="1498.4" cy="362.6" r="6.8"/>
<circle cx="1500.3" cy="369.1" r="6.8"/>
<circle cx="1507.9" cy="366.9" r="6.8"/>
<circle cx="1503.1" cy="365.5" r="6.8"/>
<circle cx="1527.2" cy="364.5" r="6.8"/>
<circle cx="1530.6" cy="368.6" r="6.8"/>
<circle cx="1537.1" cy="365.4" r="6.8"/>
<circle cx="1539.9" cy="365.8" r="6.8"/>
<circle cx="1547.8" cy="366.5" r="6.8"/>
<circle cx="1550.9" cy="361.7" r="6.8"/>
<circle cx="1556.4" cy="365.9" r="6.8"/>
<circle cx="1556.4" cy="360.8" r="6.8"/>
<circle cx="1575.8" cy="363.8" r="6.8"/>
<circle cx="1580.0" cy="362.0" r="6.8"/>
<circle cx="1587.4" cy="364.6" r="6.8"/>
<circle cx="1599.6" cy="365.7" r="6.8"/>
<circle cx="1594.4" cy="365.6" r="6.8"/>
<circle cx="1617.3" cy="366.1" r="6.8"/>
<circle cx="1619.9" cy="363.6" r="6.8"/>
<circle cx="1636.9" cy="363.4" r="6.8"/>
<circle cx="1648.0" cy="365.2" r="6.8"/>
<circle cx="1655.6" cy="365.2" r="6.8"/>
<circle cx="1655.4" cy="368.3" r="6.8"/>
<circle cx="1666.7" cy="364.5" r="6.8"/>
<circle cx="1664.4" cy="363.1" r="6.8"/>
<circle cx="1675.5" cy="365.0" r="6.8"/>
<circle cx="1469.6" cy="373.4" r="6.8"/>
<circle cx="1470.7" cy="370.2" r="6.8"/>
<circle cx="1477.6" cy="373.2" r="6.8"/>
<circle cx="1487.0" cy="373.2" r="6.8"/>
<circle cx="1485.1" cy="377.0" r="6.8"/>
<circle cx="1506.1" cy="372.7" r="6.8"/>
<circle cx="1503.4" cy="377.3" r="6.8"/>
<circle cx="1529.3" cy="375.2" r="6.8"/>
<circle cx="1523.4" cy="377.2" r="6.8"/>
<circle cx="1536.7" cy="375.2" r="6.8"/>
<circle cx="1546.7" cy="375.9" r="6.8"/>
<circle cx="1548.3" cy="374.0" r="6.8"/>
<circle cx="1559.0" cy="375.1" r="6.8"/>
<circle cx="1561.2" cy="372.4" r="6.8"/>
<circle cx="1567.3" cy="374.9" r="6.8"/>
<circle cx="1570.6" cy="371.2" r="6.8"/>
<circle cx="1577.4" cy="375.6" r="6.8"/>
<circle cx="1575.4" cy="378.0" r="6.8"/>
<circle cx="1590.3" cy="375.7" r="6.8"/>
<circle cx="1584.5" cy="374.8" r="6.8"/>
<circle cx="1599.4" cy="374.1" r="6.8"/>
<circle cx="1597.5" cy="373.1" r="6.8"/>
<circle cx="1608.6" cy="374.0" r="6.8"/>
<circle cx="1629.7" cy="374.0" r="6.8"/>
<circle cx="1623.2" cy="378.1" r="6.8"/>
<circle cx="1637.6" cy="373.1" r="6.8"/>
<circle cx="1640.8" cy="372.1" r="6.8"/>
<circle cx="1650.1" cy="374.3" r="6.8"/>
<circle cx="1646.5" cy="376.6" r="6.8"/>
<circle cx="1656.2" cy="373.8" r="6.8"/>
<circle cx="1653.6" cy="375.6" r="6.8"/>
<circle cx="1670.5" cy="372.5" r="6.8"/>
<circle cx="1676.5" cy="370.9" r="6.8"/>
<circle cx="1479.3" cy="386.2" r="6.8"/>
<circle cx="1478.2" cy="387.7" r="6.8"/>
<circle cx="1489.4" cy="384.0" r="6.8"/>
<circle cx="1506.2" cy="385.2" r="6.8"/>
<circle cx="1516.6" cy="387.0" r="6.8"/>
<circle cx="1520.3" cy="381.5" r="6.8"/>
<circle cx="1525.8" cy="383.8" r="6.8"/>
<circle cx="1531.9" cy="385.6" r="6.8"/>
<circle cx="1538.1" cy="384.4" r="6.8"/>
<circle cx="1540.1" cy="388.7" r="6.8"/>
<circle cx="1547.2" cy="385.9" r="6.8"/>
<circle cx="1545.5" cy="380.5" r="6.8"/>
<circle cx="1557.5" cy="385.5" r="6.8"/>
<circle cx="1557.5" cy="387.7" r="6.8"/>
<circle cx="1567.8" cy="386.0" r="6.8"/>
<circle cx="1572.5" cy="383.3" r="6.8"/>
<circle cx="1577.7" cy="386.3" r="6.8"/>
<circle cx="1580.9" cy="383.2" r="6.8"/>
<circle cx="1586.3" cy="385.2" r="6.8"/>
<circle cx="1586.1" cy="382.7" r="6.8"/>
<circle cx="1600.5" cy="385.0" r="6.8"/>
<circle cx="1607.6" cy="385.3" r="6.8"/>
<circle cx="1604.7" cy="388.3" r="6.8"/>
<circle cx="1618.9" cy="384.0" r="6.8"/>
<circle cx="1618.6" cy="380.6" r="6.8"/>
<circle cx="1628.6" cy="387.5" r="6.8"/>
<circle cx="1657.8" cy="383.1" r="6.8"/>
<circle cx="1658.8" cy="387.0" r="6.8"/>
<circle cx="1669.9" cy="383.8" r="6.8"/>
<circle cx="1672.7" cy="385.3" r="6.8"/>
<circle cx="1486.9" cy="393.5" r="6.8"/>
<circle cx="1487.4" cy="396.5" r="6.8"/>
<circle cx="1498.8" cy="393.5" r="6.8"/>
<circle cx="1517.8" cy="394.5" r="6.8"/>
<circle cx="1519.1" cy="396.8" r="6.8"/>
<circle cx="1529.4" cy="396.6" r="6.8"/>
<circle cx="1528.5" cy="396.1" r="6.8"/>
<circle cx="1547.6" cy="393.0" r="6.8"/>
<circle cx="1560.0" cy="394.9" r="6.8"/>
<circle cx="1565.8" cy="395.4" r="6.8"/>
<circle cx="1569.4" cy="393.6" r="6.8"/>
<circle cx="1579.1" cy="393.5" r="6.8"/>
<circle cx="1577.1" cy="394.2" r="6.8"/>
<circle cx="1587.6" cy="397.2" r="6.8"/>
<circle cx="1588.6" cy="391.3" r="6.8"/>
<circle cx="1598.2" cy="396.3" r="6.8"/>
<circle cx="1610.3" cy="395.5" r="6.8"/>
<circle cx="1611.7" cy="399.8" r="6.8"/>
<circle cx="1630.4" cy="393.1" r="6.8"/>
<circle cx="1636.3" cy="393.8" r="6.8"/>
<circle cx="1649.9" cy="395.5" r="6.8"/>
<circle cx="1647.9" cy="393.1" r="6.8"/>
<circle cx="1656.8" cy="393.5" r="6.8"/>
<circle cx="1670.2" cy="393.4" r="6.8"/>
<circle cx="1679.2" cy="396.1" r="6.8"/>
<circle cx="1678.3" cy="398.2" r="6.8"/>
<circle cx="1689.0" cy="397.2" r="6.8"/>
<circle cx="1686.3" cy="393.7" r="6.8"/>
<circle cx="1500.4" cy="404.4" r="6.8"/>
<circle cx="1501.0" cy="401.1" r="6.8"/>
<circle cx="1507.6" cy="403.1" r="6.8"/>
<circle cx="1512.8" cy="404.9" r="6.8"/>
<circle cx="1518.8" cy="403.2" r="6.8"/>
<circle cx="1513.6" cy="408.4" r="6.8"/>
<circle cx="1525.5" cy="407.2" r="6.8"/>
<circle cx="1536.5" cy="403.9" r="6.8"/>
<circle cx="1533.3" cy="404.8" r="6.8"/>
<circle cx="1548.1" cy="406.9" r="6.8"/>
<circle cx="1544.7" cy="404.3" r="6.8"/>
<circle cx="1556.3" cy="402.7" r="6.8"/>
<circle cx="1561.3" cy="400.8" r="6.8"/>
<circle cx="1580.4" cy="406.7" r="6.8"/>
<circle cx="1588.5" cy="404.0" r="6.8"/>
<circle cx="1596.2" cy="405.1" r="6.8"/>
<circle cx="1608.2" cy="406.3" r="6.8"/>
<circle cx="1611.6" cy="401.5" r="6.8"/>
<circle cx="1617.2" cy="405.5" r="6.8"/>
<circle cx="1636.1" cy="403.9" r="6.8"/>
<circle cx="1646.7" cy="404.5" r="6.8"/>
<circle cx="1652.9" cy="407.9" r="6.8"/>
<circle cx="1657.4" cy="407.5" r="6.8"/>
<circle cx="1667.1" cy="402.9" r="6.8"/>
<circle cx="1678.7" cy="403.8" r="6.8"/>
<circle cx="1675.9" cy="409.3" r="6.8"/>
<circle cx="1688.9" cy="405.8" r="6.8"/>
<circle cx="1516.9" cy="414.3" r="6.8"/>
<circle cx="1529.6" cy="415.5" r="6.8"/>
<circle cx="1528.2" cy="419.3" r="6.8"/>
<circle cx="1536.7" cy="416.0" r="6.8"/>
<circle cx="1536.0" cy="415.4" r="6.8"/>
<circle cx="1549.7" cy="415.2" r="6.8"/>
<circle cx="1548.7" cy="410.5" r="6.8"/>
<circle cx="1559.2" cy="415.3" r="6.8"/>
<circle cx="1559.3" cy="413.6" r="6.8"/>
<circle cx="1568.0" cy="415.4" r="6.8"/>
<circle cx="1576.5" cy="417.3" r="6.8"/>
<circle cx="1586.4" cy="417.1" r="6.8"/>
<circle cx="1591.5" cy="412.1" r="6.8"/>
<circle cx="1599.8" cy="416.8" r="6.8"/>
<circle cx="1599.8" cy="417.5" r="6.8"/>
<circle cx="1608.7" cy="414.2" r="6.8"/>
<circle cx="1630.0" cy="415.2" r="6.8"/>
<circle cx="1637.3" cy="414.7" r="6.8"/>
<circle cx="1647.1" cy="416.4" r="6.8"/>
<circle cx="1656.5" cy="414.5" r="6.8"/>
<circle cx="1668.1" cy="412.7" r="6.8"/>
<circle cx="1676.4" cy="414.8" r="6.8"/>
<circle cx="1685.5" cy="411.1" r="6.8"/>
<circle cx="1509.9" cy="422.9" r="6.8"/>
<circle cx="1516.4" cy="426.5" r="6.8"/>
<circle cx="1520.0" cy="427.7" r="6.8"/>
<circle cx="1548.1" cy="423.7" r="6.8"/>
<circle cx="1545.4" cy="429.7" r="6.8"/>
<circle cx="1557.8" cy="425.4" r="6.8"/>
<circle cx="1557.4" cy="429.0" r="6.8"/>
<circle cx="1579.9" cy="426.6" r="6.8"/>
<circle cx="1590.5" cy="422.6" r="6.8"/>
<circle cx="1583.9" cy="428.4" r="6.8"/>
<circle cx="1606.2" cy="426.5" r="6.8"/>
<circle cx="1605.0" cy="423.2" r="6.8"/>
<circle cx="1620.0" cy="423.7" r="6.8"/>
<circle cx="1620.8" cy="422.6" r="6.8"/>
<circle cx="1638.4" cy="424.9" r="6.8"/>
<circle cx="1658.0" cy="423.6" r="6.8"/>
<circle cx="1661.4" cy="422.3" r="6.8"/>
<circle cx="1666.8" cy="425.4" r="6.8"/>
<circle cx="1677.3" cy="424.1" r="6.8"/>
<circle cx="1677.6" cy="429.2" r="6.8"/>
<circle cx="1508.9" cy="432.8" r="6.8"/>
<circle cx="1537.4" cy="437.1" r="6.8"/>
<circle cx="1538.6" cy="434.2" r="6.8"/>
<circle cx="1547.6" cy="432.8" r="6.8"/>
<circle cx="1557.9" cy="433.5" r="6.8"/>
<circle cx="1565.6" cy="436.9" r="6.8"/>
<circle cx="1571.4" cy="435.0" r="6.8"/>
<circle cx="1586.2" cy="434.9" r="6.8"/>
<circle cx="1588.5" cy="430.1" r="6.8"/>
<circle cx="1598.9" cy="436.5" r="6.8"/>
<circle cx="1596.5" cy="436.8" r="6.8"/>
<circle cx="1607.5" cy="437.3" r="6.8"/>
<circle cx="1627.7" cy="436.5" r="6.8"/>
<circle cx="1632.3" cy="436.7" r="6.8"/>
<circle cx="1635.5" cy="435.7" r="6.8"/>
<circle cx="1639.5" cy="431.2" r="6.8"/>
<circle cx="1657.2" cy="437.2" r="6.8"/>
<circle cx="1658.1" cy="436.7" r="6.8"/>
<circle cx="1666.1" cy="433.2" r="6.8"/>
<circle cx="1666.6" cy="434.7" r="6.8"/>
<circle cx="1678.2" cy="432.9" r="6.8"/>
<circle cx="1520.1" cy="443.6" r="6.8"/>
<circle cx="1528.9" cy="444.6" r="6.8"/>
<circle cx="1525.7" cy="441.2" r="6.8"/>
<circle cx="1540.5" cy="444.0" r="6.8"/>
<circle cx="1533.3" cy="441.5" r="6.8"/>
<circle cx="1558.5" cy="445.0" r="6.8"/>
<circle cx="1560.2" cy="441.9" r="6.8"/>
<circle cx="1568.5" cy="445.4" r="6.8"/>
<circle cx="1577.6" cy="443.6" r="6.8"/>
<circle cx="1580.1" cy="448.1" r="6.8"/>
<circle cx="1597.0" cy="446.6" r="6.8"/>
<circle cx="1607.4" cy="443.0" r="6.8"/>
<circle cx="1616.8" cy="447.5" r="6.8"/>
<circle cx="1618.0" cy="444.5" r="6.8"/>
<circle cx="1636.3" cy="444.4" r="6.8"/>
<circle cx="1637.9" cy="441.1" r="6.8"/>
<circle cx="1648.5" cy="445.2" r="6.8"/>
<circle cx="1659.6" cy="445.6" r="6.8"/>
<circle cx="1532.6" cy="459.6" r="6.8"/>
<circle cx="1537.2" cy="453.1" r="6.8"/>
<circle cx="1549.5" cy="454.0" r="6.8"/>
<circle cx="1557.6" cy="453.9" r="6.8"/>
<circle cx="1555.8" cy="455.3" r="6.8"/>
<circle cx="1566.9" cy="454.4" r="6.8"/>
<circle cx="1588.0" cy="452.9" r="6.8"/>
<circle cx="1591.6" cy="451.7" r="6.8"/>
<circle cx="1597.5" cy="455.9" r="6.8"/>
<circle cx="1618.1" cy="456.2" r="6.8"/>
<circle cx="1621.0" cy="454.7" r="6.8"/>
<circle cx="1626.6" cy="455.2" r="6.8"/>
<circle cx="1624.5" cy="455.9" r="6.8"/>
<circle cx="1637.8" cy="454.4" r="6.8"/>
<circle cx="1636.7" cy="453.6" r="6.8"/>
<circle cx="1649.9" cy="454.3" r="6.8"/>
<circle cx="1547.4" cy="465.8" r="6.8"/>
<circle cx="1558.3" cy="462.8" r="6.8"/>
<circle cx="1559.5" cy="466.2" r="6.8"/>
<circle cx="1566.8" cy="462.8" r="6.8"/>
<circle cx="1565.5" cy="468.3" r="6.8"/>
<circle cx="1579.8" cy="462.8" r="6.8"/>
<circle cx="1587.8" cy="464.6" r="6.8"/>
<circle cx="1591.6" cy="460.9" r="6.8"/>
<circle cx="1610.2" cy="467.1" r="6.8"/>
<circle cx="1612.8" cy="468.0" r="6.8"/>
<circle cx="1618.9" cy="465.2" r="6.8"/>
<circle cx="1628.4" cy="466.5" r="6.8"/>
<circle cx="1627.2" cy="462.7" r="6.8"/>
<circle cx="1646.0" cy="465.8" r="6.8"/>
<circle cx="1539.1" cy="473.7" r="6.8"/>
<circle cx="1540.0" cy="476.3" r="6.8"/>
<circle cx="1547.1" cy="476.6" r="6.8"/>
<circle cx="1545.6" cy="474.7" r="6.8"/>
<circle cx="1556.6" cy="476.2" r="6.8"/>
<circle cx="1569.1" cy="475.4" r="6.8"/>
<circle cx="1572.5" cy="478.7" r="6.8"/>
<circle cx="1579.6" cy="476.1" r="6.8"/>
<circle cx="1576.2" cy="474.9" r="6.8"/>
<circle cx="1588.5" cy="473.6" r="6.8"/>
<circle cx="1608.0" cy="476.1" r="6.8"/>
<circle cx="1616.8" cy="473.5" r="6.8"/>
<circle cx="1614.2" cy="470.3" r="6.8"/>
<circle cx="1625.7" cy="476.4" r="6.8"/>
<circle cx="1637.4" cy="474.8" r="6.8"/>
<circle cx="1636.1" cy="473.4" r="6.8"/>
<circle cx="1541.2" cy="480.1" r="6.8"/>
<circle cx="1548.5" cy="483.2" r="6.8"/>
<circle cx="1559.0" cy="485.2" r="6.8"/>
<circle cx="1555.6" cy="480.9" r="6.8"/>
<circle cx="1566.9" cy="483.6" r="6.8"/>
<circle cx="1564.2" cy="481.9" r="6.8"/>
<circle cx="1577.5" cy="483.0" r="6.8"/>
<circle cx="1587.0" cy="486.4" r="6.8"/>
<circle cx="1590.2" cy="487.4" r="6.8"/>
<circle cx="1607.3" cy="485.9" r="6.8"/>
<circle cx="1611.5" cy="487.2" r="6.8"/>
<circle cx="1620.1" cy="484.2" r="6.8"/>
<circle cx="1620.3" cy="481.8" r="6.8"/>
<circle cx="1629.9" cy="484.2" r="6.8"/>
<circle cx="1557.9" cy="496.2" r="6.8"/>
<circle cx="1566.1" cy="492.6" r="6.8"/>
<circle cx="1575.7" cy="492.9" r="6.8"/>
<circle cx="1573.1" cy="499.2" r="6.8"/>
<circle cx="1585.6" cy="492.9" r="6.8"/>
<circle cx="1586.9" cy="497.5" r="6.8"/>
<circle cx="1599.8" cy="492.6" r="6.8"/>
<circle cx="1605.8" cy="494.4" r="6.8"/>
<circle cx="1604.7" cy="490.8" r="6.8"/>
<circle cx="1619.5" cy="494.1" r="6.8"/>
<circle cx="1621.9" cy="493.9" r="6.8"/>
<circle cx="1556.4" cy="505.4" r="6.8"/>
<circle cx="1561.0" cy="504.8" r="6.8"/>
<circle cx="1570.0" cy="504.7" r="6.8"/>
<circle cx="1567.4" cy="504.4" r="6.8"/>
<circle cx="1579.4" cy="504.0" r="6.8"/>
<circle cx="1579.5" cy="501.5" r="6.8"/>
<circle cx="1586.3" cy="504.2" r="6.8"/>
<circle cx="1585.3" cy="509.1" r="6.8"/>
<circle cx="1597.0" cy="507.1" r="6.8"/>
<circle cx="1593.1" cy="508.4" r="6.8"/>
<circle cx="1607.5" cy="502.7" r="6.8"/>
<circle cx="1610.8" cy="504.0" r="6.8"/>
<circle cx="1618.9" cy="507.5" r="6.8"/>
<circle cx="1619.2" cy="509.9" r="6.8"/>
<circle cx="1627.0" cy="506.7" r="6.8"/>
<circle cx="1560.2" cy="513.1" r="6.8"/>
<circle cx="1569.8" cy="516.2" r="6.8"/>
<circle cx="1576.8" cy="513.5" r="6.8"/>
<circle cx="1587.8" cy="515.9" r="6.8"/>
<circle cx="1588.8" cy="510.2" r="6.8"/>
<circle cx="1595.8" cy="512.9" r="6.8"/>
<circle cx="1605.9" cy="514.4" r="6.8"/>
<circle cx="1609.4" cy="516.7" r="6.8"/>
<circle cx="1619.5" cy="516.2" r="6.8"/>
<circle cx="1576.7" cy="522.0" r="6.8"/>
<circle cx="1617.1" cy="522.7" r="6.8"/>
<circle cx="1320.3" cy="291.9" r="6.8"/>
<circle cx="1538.2" cy="192.5" r="6.8"/>
<circle cx="1542.4" cy="189.2" r="6.8"/>
<circle cx="1552.0" cy="192.5" r="6.8"/>
<circle cx="1557.4" cy="194.5" r="6.8"/>
<circle cx="1560.4" cy="193.9" r="6.8"/>
<circle cx="1563.2" cy="189.7" r="6.8"/>
<circle cx="1545.1" cy="203.5" r="6.8"/>
<circle cx="1547.2" cy="201.2" r="6.8"/>
<circle cx="1564.5" cy="200.8" r="6.8"/>
<circle cx="1559.4" cy="196.8" r="6.8"/>
<circle cx="1567.3" cy="218.8" r="6.8"/>
<circle cx="1531.3" cy="225.7" r="6.8"/>
<circle cx="1547.9" cy="225.7" r="6.8"/>
<circle cx="1546.0" cy="222.5" r="6.8"/>
<circle cx="1542.4" cy="232.6" r="6.8"/>
<circle cx="1545.6" cy="230.8" r="6.8"/>
<circle cx="1485.6" cy="238.2" r="6.8"/>
<circle cx="1485.3" cy="234.4" r="6.8"/>
<circle cx="1482.8" cy="242.3" r="6.8"/>
<circle cx="1509.1" cy="235.4" r="6.8"/>
<circle cx="1511.4" cy="239.1" r="6.8"/>
<circle cx="1520.2" cy="242.3" r="6.8"/>
<circle cx="1515.4" cy="239.2" r="6.8"/>
<circle cx="1534.0" cy="245.1" r="6.8"/>
<circle cx="1537.3" cy="246.8" r="6.8"/>
<circle cx="1550.7" cy="243.7" r="6.8"/>
<circle cx="1559.0" cy="240.9" r="6.8"/>
<circle cx="1562.5" cy="239.3" r="6.8"/>
<circle cx="1500.8" cy="252.0" r="6.8"/>
<circle cx="1496.5" cy="246.9" r="6.8"/>
<circle cx="1514.7" cy="260.3" r="6.8"/>
<circle cx="1510.7" cy="263.1" r="6.8"/>
<circle cx="1492.5" cy="265.9" r="6.8"/>
<circle cx="1489.6" cy="261.6" r="6.8"/>
<circle cx="1463.4" cy="258.9" r="6.8"/>
<circle cx="1467.1" cy="260.8" r="6.8"/>
<circle cx="1473.1" cy="256.2" r="6.8"/>
<circle cx="1472.6" cy="259.9" r="6.8"/>
<circle cx="1480.0" cy="263.1" r="6.8"/>
<circle cx="1485.5" cy="261.8" r="6.8"/>
<circle cx="1464.8" cy="270.0" r="6.8"/>
<circle cx="1468.1" cy="271.1" r="6.8"/>
<circle cx="1473.1" cy="275.6" r="6.8"/>
<circle cx="1470.2" cy="274.7" r="6.8"/>
<circle cx="1441.2" cy="267.3" r="6.8"/>
<circle cx="1443.0" cy="269.0" r="6.8"/>
<circle cx="1441.2" cy="278.3" r="6.8"/>
<circle cx="1439.2" cy="280.8" r="6.8"/>
<circle cx="1455.1" cy="282.5" r="6.8"/>
<circle cx="1450.7" cy="283.0" r="6.8"/>
<circle cx="1438.5" cy="286.6" r="6.8"/>
<circle cx="1464.8" cy="283.9" r="6.8"/>
<circle cx="1460.9" cy="284.7" r="6.8"/>
<circle cx="1419.1" cy="291.6" r="6.8"/>
<circle cx="1422.2" cy="292.2" r="6.8"/>
<circle cx="1432.9" cy="303.3" r="6.8"/>
<circle cx="1427.9" cy="301.3" r="6.8"/>
<circle cx="1444.0" cy="301.9" r="6.8"/>
<circle cx="1443.7" cy="298.9" r="6.8"/>
<circle cx="1426.0" cy="317.1" r="6.8"/>
<circle cx="1429.8" cy="316.7" r="6.8"/>
<circle cx="1419.1" cy="326.8" r="6.8"/>
<circle cx="1416.2" cy="322.1" r="6.8"/>
<circle cx="1434.3" cy="324.0" r="6.8"/>
<circle cx="1437.5" cy="328.3" r="6.8"/>
<circle cx="1421.9" cy="346.2" r="6.8"/>
<circle cx="1426.1" cy="350.9" r="6.8"/>
<circle cx="1414.9" cy="355.9" r="6.8"/>
<circle cx="1413.3" cy="351.9" r="6.8"/>
<circle cx="1419.1" cy="362.8" r="6.8"/>
<circle cx="1417.9" cy="364.3" r="6.8"/>
<circle cx="1412.2" cy="375.3" r="6.8"/>
<circle cx="1411.0" cy="370.1" r="6.8"/>
<circle cx="1431.6" cy="369.8" r="6.8"/>
<circle cx="1427.3" cy="369.5" r="6.8"/>
<circle cx="1430.2" cy="379.4" r="6.8"/>
<circle cx="1489.7" cy="281.1" r="6.8"/>
<circle cx="1491.5" cy="275.7" r="6.8"/>
<circle cx="1481.4" cy="293.6" r="6.8"/>
<circle cx="1470.3" cy="293.6" r="6.8"/>
<circle cx="1471.8" cy="290.4" r="6.8"/>
<circle cx="1459.3" cy="296.3" r="6.8"/>
<circle cx="1461.7" cy="300.7" r="6.8"/>
<circle cx="1449.6" cy="308.8" r="6.8"/>
<circle cx="1449.8" cy="312.2" r="6.8"/>
<circle cx="1445.4" cy="321.3" r="6.8"/>
<circle cx="1440.9" cy="316.6" r="6.8"/>
<circle cx="1438.5" cy="337.9" r="6.8"/>
<circle cx="1437.3" cy="337.4" r="6.8"/>
<circle cx="1442.6" cy="351.7" r="6.8"/>
<circle cx="1445.4" cy="368.4" r="6.8"/>
<circle cx="1450.1" cy="364.8" r="6.8"/>
<circle cx="1456.5" cy="313.0" r="6.8"/>
<circle cx="1460.5" cy="315.4" r="6.8"/>
<circle cx="1462.0" cy="326.8" r="6.8"/>
<circle cx="1456.9" cy="329.6" r="6.8"/>
<circle cx="1503.6" cy="274.2" r="6.8"/>
<circle cx="1507.6" cy="272.1" r="6.8"/>
<circle cx="1514.7" cy="274.2" r="6.8"/>
<circle cx="1513.5" cy="279.1" r="6.8"/>
<circle cx="1525.7" cy="260.3" r="6.8"/>
<circle cx="1528.6" cy="265.8" r="6.8"/>
<circle cx="1539.6" cy="257.6" r="6.8"/>
<circle cx="1539.8" cy="252.8" r="6.8"/>
<circle cx="1553.4" cy="257.6" r="6.8"/>
<circle cx="1550.9" cy="263.0" r="6.8"/>
<circle cx="1567.3" cy="256.2" r="6.8"/>
<circle cx="1561.8" cy="260.8" r="6.8"/>
<circle cx="1528.5" cy="271.4" r="6.8"/>
<circle cx="1523.1" cy="272.6" r="6.8"/>
<circle cx="1500.8" cy="290.8" r="6.8"/>
<circle cx="1501.8" cy="296.2" r="6.8"/>
<circle cx="1498.0" cy="310.2" r="6.8"/>
<circle cx="1496.0" cy="310.4" r="6.8"/>
<circle cx="1487.0" cy="304.7" r="6.8"/>
<circle cx="1483.6" cy="308.7" r="6.8"/>
<circle cx="1475.9" cy="307.4" r="6.8"/>
<circle cx="1470.5" cy="312.8" r="6.8"/>
<circle cx="1467.6" cy="313.0" r="6.8"/>
<circle cx="1463.7" cy="314.0" r="6.8"/>
<circle cx="1579.7" cy="204.9" r="6.8"/>
<circle cx="1577.9" cy="202.5" r="6.8"/>
<circle cx="1570.0" cy="207.7" r="6.8"/>
<circle cx="1572.2" cy="208.2" r="6.8"/>
<circle cx="1574.2" cy="221.6" r="6.8"/>
<circle cx="1577.1" cy="217.9" r="6.8"/>
<circle cx="1592.2" cy="220.2" r="6.8"/>
<circle cx="1604.6" cy="225.7" r="6.8"/>
<circle cx="1604.8" cy="221.0" r="6.8"/>
<circle cx="1601.9" cy="234.0" r="6.8"/>
<circle cx="1603.1" cy="235.0" r="6.8"/>
<circle cx="1588.0" cy="235.4" r="6.8"/>
<circle cx="1590.9" cy="230.4" r="6.8"/>
<circle cx="1581.1" cy="239.6" r="6.8"/>
<circle cx="1651.7" cy="220.2" r="6.8"/>
<circle cx="1656.2" cy="221.1" r="6.8"/>
<circle cx="1644.8" cy="222.9" r="6.8"/>
<circle cx="1641.5" cy="220.4" r="6.8"/>
<circle cx="1635.1" cy="227.1" r="6.8"/>
<circle cx="1633.9" cy="227.2" r="6.8"/>
<circle cx="1651.7" cy="232.6" r="6.8"/>
<circle cx="1650.0" cy="234.4" r="6.8"/>
<circle cx="1628.2" cy="235.4" r="6.8"/>
<circle cx="1631.1" cy="230.5" r="6.8"/>
<circle cx="1621.2" cy="240.9" r="6.8"/>
<circle cx="1619.4" cy="238.6" r="6.8"/>
<circle cx="1639.3" cy="240.9" r="6.8"/>
<circle cx="1647.6" cy="245.1" r="6.8"/>
<circle cx="1649.1" cy="242.4" r="6.8"/>
<circle cx="1662.8" cy="246.5" r="6.8"/>
<circle cx="1666.9" cy="248.4" r="6.8"/>
<circle cx="1669.7" cy="253.4" r="6.8"/>
<circle cx="1670.5" cy="248.5" r="6.8"/>
<circle cx="1696.0" cy="246.5" r="6.8"/>
<circle cx="1689.1" cy="253.4" r="6.8"/>
<circle cx="1686.0" cy="252.3" r="6.8"/>
<circle cx="1600.5" cy="247.9" r="6.8"/>
<circle cx="1601.5" cy="247.9" r="6.8"/>
<circle cx="1610.2" cy="253.4" r="6.8"/>
<circle cx="1605.5" cy="250.1" r="6.8"/>
<circle cx="1582.5" cy="254.8" r="6.8"/>
<circle cx="1585.2" cy="254.9" r="6.8"/>
<circle cx="1619.9" cy="258.9" r="6.8"/>
<circle cx="1622.2" cy="257.1" r="6.8"/>
<circle cx="1632.3" cy="260.3" r="6.8"/>
<circle cx="1628.6" cy="255.1" r="6.8"/>
<circle cx="1636.5" cy="270.0" r="6.8"/>
<circle cx="1632.5" cy="273.9" r="6.8"/>
<circle cx="1651.7" cy="267.3" r="6.8"/>
<circle cx="1651.1" cy="262.4" r="6.8"/>
<circle cx="1664.2" cy="263.1" r="6.8"/>
<circle cx="1658.9" cy="264.4" r="6.8"/>
<circle cx="1673.9" cy="264.5" r="6.8"/>
<circle cx="1675.3" cy="259.9" r="6.8"/>
<circle cx="1593.5" cy="263.1" r="6.8"/>
<circle cx="1592.7" cy="258.1" r="6.8"/>
<circle cx="1603.2" cy="265.9" r="6.8"/>
<circle cx="1600.2" cy="266.4" r="6.8"/>
<circle cx="1693.3" cy="275.6" r="6.8"/>
<circle cx="1688.9" cy="271.7" r="6.8"/>
<circle cx="1705.7" cy="281.1" r="6.8"/>
<circle cx="1710.6" cy="277.7" r="6.8"/>
<circle cx="1647.6" cy="279.7" r="6.8"/>
<circle cx="1643.5" cy="276.5" r="6.8"/>
<circle cx="1661.4" cy="274.2" r="6.8"/>
<circle cx="1663.1" cy="274.6" r="6.8"/>
<circle cx="1671.1" cy="277.0" r="6.8"/>
<circle cx="1680.8" cy="283.9" r="6.8"/>
<circle cx="1676.0" cy="288.9" r="6.8"/>
<circle cx="1689.1" cy="289.4" r="6.8"/>
<circle cx="1692.7" cy="294.6" r="6.8"/>
<circle cx="1701.6" cy="290.8" r="6.8"/>
<circle cx="1704.7" cy="293.9" r="6.8"/>
<circle cx="1714.0" cy="293.6" r="6.8"/>
<circle cx="1715.4" cy="296.8" r="6.8"/>
<circle cx="1698.8" cy="308.8" r="6.8"/>
<circle cx="1693.6" cy="309.2" r="6.8"/>
<circle cx="1712.7" cy="306.0" r="6.8"/>
<circle cx="1717.4" cy="301.4" r="6.8"/>
<circle cx="1683.6" cy="306.0" r="6.8"/>
<circle cx="1682.9" cy="306.5" r="6.8"/>
<circle cx="1673.9" cy="301.9" r="6.8"/>
<circle cx="1670.5" cy="304.2" r="6.8"/>
<circle cx="1658.6" cy="293.6" r="6.8"/>
<circle cx="1667.0" cy="296.3" r="6.8"/>
<circle cx="1667.9" cy="295.2" r="6.8"/>
<circle cx="1704.3" cy="322.7" r="6.8"/>
<circle cx="1709.6" cy="324.4" r="6.8"/>
<circle cx="1715.4" cy="331.0" r="6.8"/>
<circle cx="1644.8" cy="322.7" r="6.8"/>
<circle cx="1680.8" cy="321.3" r="6.8"/>
<circle cx="1683.0" cy="322.6" r="6.8"/>
<circle cx="1669.7" cy="318.5" r="6.8"/>
<circle cx="1690.5" cy="339.3" r="6.8"/>
<circle cx="1690.7" cy="343.3" r="6.8"/>
<circle cx="1707.1" cy="347.6" r="6.8"/>
<circle cx="1702.1" cy="346.4" r="6.8"/>
<circle cx="1680.8" cy="335.1" r="6.8"/>
<circle cx="1685.8" cy="331.6" r="6.8"/>
<circle cx="1643.4" cy="339.3" r="6.8"/>
<circle cx="1641.1" cy="335.8" r="6.8"/>
<circle cx="1690.5" cy="355.9" r="6.8"/>
<circle cx="1694.4" cy="355.8" r="6.8"/>
<circle cx="1725.1" cy="365.6" r="6.8"/>
<circle cx="1730.0" cy="365.2" r="6.8"/>
<circle cx="1716.8" cy="371.1" r="6.8"/>
<circle cx="1719.8" cy="367.3" r="6.8"/>
<circle cx="1697.4" cy="369.8" r="6.8"/>
<circle cx="1692.5" cy="370.4" r="6.8"/>
<circle cx="1686.3" cy="373.9" r="6.8"/>
<circle cx="1691.2" cy="374.1" r="6.8"/>
<circle cx="1680.8" cy="385.0" r="6.8"/>
<circle cx="1676.7" cy="387.6" r="6.8"/>
<circle cx="1412.2" cy="380.0" r="6.8"/>
<circle cx="1415.2" cy="384.9" r="6.8"/>
<circle cx="1421.9" cy="393.9" r="6.8"/>
<circle cx="1420.7" cy="396.3" r="6.8"/>
<circle cx="1431.6" cy="403.5" r="6.8"/>
<circle cx="1436.2" cy="402.1" r="6.8"/>
<circle cx="1441.2" cy="406.3" r="6.8"/>
<circle cx="1442.8" cy="409.8" r="6.8"/>
<circle cx="1434.3" cy="392.5" r="6.8"/>
<circle cx="1431.6" cy="391.5" r="6.8"/>
<circle cx="1445.4" cy="393.9" r="6.8"/>
<circle cx="1442.6" cy="389.1" r="6.8"/>
<circle cx="1456.5" cy="396.6" r="6.8"/>
<circle cx="1453.8" cy="397.3" r="6.8"/>
<circle cx="1463.4" cy="400.8" r="6.8"/>
<circle cx="1463.5" cy="405.4" r="6.8"/>
<circle cx="1467.6" cy="388.3" r="6.8"/>
<circle cx="1465.3" cy="383.1" r="6.8"/>
<circle cx="1453.7" cy="385.5" r="6.8"/>
<circle cx="1457.6" cy="389.4" r="6.8"/>
<circle cx="1459.3" cy="414.6" r="6.8"/>
<circle cx="1471.7" cy="414.6" r="6.8"/>
<circle cx="1467.6" cy="416.2" r="6.8"/>
<circle cx="1462.0" cy="435.4" r="6.8"/>
<circle cx="1466.1" cy="437.3" r="6.8"/>
<circle cx="1468.9" cy="438.2" r="6.8"/>
<circle cx="1468.1" cy="438.7" r="6.8"/>
<circle cx="1481.4" cy="392.5" r="6.8"/>
<circle cx="1485.3" cy="397.2" r="6.8"/>
<circle cx="1485.6" cy="404.9" r="6.8"/>
<circle cx="1491.1" cy="416.0" r="6.8"/>
<circle cx="1492.8" cy="415.1" r="6.8"/>
<circle cx="1488.3" cy="428.5" r="6.8"/>
<circle cx="1486.9" cy="432.8" r="6.8"/>
<circle cx="1496.6" cy="443.7" r="6.8"/>
<circle cx="1496.9" cy="441.9" r="6.8"/>
<circle cx="1503.6" cy="421.6" r="6.8"/>
<circle cx="1505.4" cy="418.8" r="6.8"/>
<circle cx="1509.1" cy="431.2" r="6.8"/>
<circle cx="1509.7" cy="433.3" r="6.8"/>
<circle cx="1487.0" cy="463.1" r="6.8"/>
<circle cx="1489.4" cy="458.8" r="6.8"/>
<circle cx="1495.3" cy="456.2" r="6.8"/>
<circle cx="1495.3" cy="460.0" r="6.8"/>
<circle cx="1502.2" cy="454.8" r="6.8"/>
<circle cx="1499.0" cy="452.1" r="6.8"/>
<circle cx="1510.5" cy="463.1" r="6.8"/>
<circle cx="1507.2" cy="460.5" r="6.8"/>
<circle cx="1499.4" cy="471.4" r="6.8"/>
<circle cx="1498.4" cy="475.6" r="6.8"/>
<circle cx="1492.5" cy="479.7" r="6.8"/>
<circle cx="1495.8" cy="481.5" r="6.8"/>
<circle cx="1524.3" cy="468.1" r="6.8"/>
<circle cx="1517.4" cy="481.1" r="6.8"/>
<circle cx="1515.5" cy="485.0" r="6.8"/>
<circle cx="1506.3" cy="493.6" r="6.8"/>
<circle cx="1505.6" cy="497.2" r="6.8"/>
<circle cx="1503.6" cy="501.9" r="6.8"/>
<circle cx="1500.3" cy="502.8" r="6.8"/>
<circle cx="1503.6" cy="517.1" r="6.8"/>
<circle cx="1502.5" cy="511.7" r="6.8"/>
<circle cx="1511.9" cy="514.3" r="6.8"/>
<circle cx="1516.2" cy="515.5" r="6.8"/>
<circle cx="1523.0" cy="518.5" r="6.8"/>
<circle cx="1521.1" cy="524.0" r="6.8"/>
<circle cx="1520.2" cy="528.2" r="6.8"/>
<circle cx="1522.3" cy="524.4" r="6.8"/>
<circle cx="1517.4" cy="535.1" r="6.8"/>
<circle cx="1517.4" cy="530.2" r="6.8"/>
<circle cx="1528.5" cy="493.6" r="6.8"/>
<circle cx="1528.5" cy="507.4" r="6.8"/>
<circle cx="1528.4" cy="504.8" r="6.8"/>
<circle cx="1539.6" cy="493.6" r="6.8"/>
<circle cx="1536.5" cy="489.2" r="6.8"/>
<circle cx="1536.8" cy="504.7" r="6.8"/>
<circle cx="1542.2" cy="501.4" r="6.8"/>
<circle cx="1547.9" cy="501.9" r="6.8"/>
<circle cx="1543.1" cy="506.9" r="6.8"/>
<circle cx="1536.8" cy="518.5" r="6.8"/>
<circle cx="1533.2" cy="521.0" r="6.8"/>
<circle cx="1547.9" cy="515.7" r="6.8"/>
<circle cx="1547.4" cy="518.8" r="6.8"/>
<circle cx="1543.7" cy="531.0" r="6.8"/>
<circle cx="1556.2" cy="535.1" r="6.8"/>
<circle cx="1553.0" cy="538.8" r="6.8"/>
<circle cx="1546.5" cy="551.7" r="6.8"/>
<circle cx="1560.4" cy="544.8" r="6.8"/>
<circle cx="1561.8" cy="550.3" r="6.8"/>
<circle cx="1567.3" cy="529.6" r="6.8"/>
<circle cx="1559.0" cy="521.3" r="6.8"/>
<circle cx="1558.5" cy="519.3" r="6.8"/>
<circle cx="1511.9" cy="443.7" r="6.8"/>
<circle cx="1507.3" cy="448.4" r="6.8"/>
<circle cx="1523.0" cy="440.9" r="6.8"/>
<circle cx="1528.0" cy="438.8" r="6.8"/>
<circle cx="1534.0" cy="449.3" r="6.8"/>
<circle cx="1534.0" cy="448.2" r="6.8"/>
<circle cx="1536.8" cy="460.3" r="6.8"/>
<circle cx="1536.5" cy="460.3" r="6.8"/>
<circle cx="1547.9" cy="463.1" r="6.8"/>
<circle cx="1546.6" cy="459.6" r="6.8"/>
<circle cx="1539.6" cy="477.0" r="6.8"/>
<circle cx="1534.4" cy="472.7" r="6.8"/>
<circle cx="1550.7" cy="479.7" r="6.8"/>
<circle cx="1551.0" cy="475.1" r="6.8"/>
<circle cx="1559.0" cy="471.4" r="6.8"/>
<circle cx="1567.3" cy="460.3" r="6.8"/>
<circle cx="1567.1" cy="461.1" r="6.8"/>
<circle cx="1556.2" cy="496.3" r="6.8"/>
<circle cx="1551.0" cy="500.8" r="6.8"/>
<circle cx="1567.3" cy="490.8" r="6.8"/>
<circle cx="1571.7" cy="489.5" r="6.8"/>
<circle cx="1567.3" cy="507.4" r="6.8"/>
<circle cx="1569.1" cy="512.7" r="6.8"/>
<circle cx="1572.8" cy="518.5" r="6.8"/>
<circle cx="1573.5" cy="513.5" r="6.8"/>
<circle cx="1514.7" cy="416.0" r="6.8"/>
<circle cx="1514.1" cy="414.5" r="6.8"/>
<circle cx="1525.7" cy="421.6" r="6.8"/>
<circle cx="1534.0" cy="432.6" r="6.8"/>
<circle cx="1533.2" cy="435.8" r="6.8"/>
<circle cx="1545.1" cy="435.4" r="6.8"/>
<circle cx="1500.8" cy="402.2" r="6.8"/>
<circle cx="1496.9" cy="407.4" r="6.8"/>
<circle cx="1511.9" cy="399.4" r="6.8"/>
<circle cx="1514.8" cy="404.6" r="6.8"/>
<circle cx="1523.0" cy="404.9" r="6.8"/>
<circle cx="1739.0" cy="384.2" r="6.8"/>
<circle cx="1735.7" cy="386.3" r="6.8"/>
<circle cx="1743.1" cy="392.5" r="6.8"/>
<circle cx="1744.7" cy="392.0" r="6.8"/>
<circle cx="1726.5" cy="399.4" r="6.8"/>
<circle cx="1727.1" cy="401.9" r="6.8"/>
<circle cx="1722.4" cy="407.7" r="6.8"/>
<circle cx="1725.1" cy="402.4" r="6.8"/>
<circle cx="1741.7" cy="416.8" r="6.8"/>
<circle cx="1743.3" cy="414.5" r="6.8"/>
<circle cx="1708.5" cy="385.5" r="6.8"/>
<circle cx="1707.8" cy="388.0" r="6.8"/>
<circle cx="1703.0" cy="396.6" r="6.8"/>
<circle cx="1705.1" cy="398.4" r="6.8"/>
<circle cx="1719.6" cy="429.9" r="6.8"/>
<circle cx="1722.8" cy="426.6" r="6.8"/>
<circle cx="1722.4" cy="440.9" r="6.8"/>
<circle cx="1719.7" cy="443.1" r="6.8"/>
<circle cx="1716.8" cy="452.0" r="6.8"/>
<circle cx="1703.0" cy="421.6" r="6.8"/>
<circle cx="1703.1" cy="416.2" r="6.8"/>
<circle cx="1700.2" cy="436.8" r="6.8"/>
<circle cx="1696.2" cy="433.8" r="6.8"/>
<circle cx="1701.6" cy="456.2" r="6.8"/>
<circle cx="1691.9" cy="446.5" r="6.8"/>
<circle cx="1692.3" cy="442.0" r="6.8"/>
<circle cx="1711.3" cy="475.6" r="6.8"/>
<circle cx="1712.6" cy="478.6" r="6.8"/>
<circle cx="1686.3" cy="468.6" r="6.8"/>
<circle cx="1687.4" cy="473.2" r="6.8"/>
<circle cx="1680.8" cy="474.2" r="6.8"/>
<circle cx="1676.2" cy="472.0" r="6.8"/>
<circle cx="1668.3" cy="471.4" r="6.8"/>
<circle cx="1672.6" cy="475.1" r="6.8"/>
<circle cx="1679.4" cy="460.3" r="6.8"/>
<circle cx="1677.0" cy="463.9" r="6.8"/>
<circle cx="1683.6" cy="454.8" r="6.8"/>
<circle cx="1687.7" cy="453.4" r="6.8"/>
<circle cx="1676.6" cy="490.8" r="6.8"/>
<circle cx="1675.7" cy="494.4" r="6.8"/>
<circle cx="1667.0" cy="486.6" r="6.8"/>
<circle cx="1671.1" cy="481.4" r="6.8"/>
<circle cx="1665.6" cy="496.3" r="6.8"/>
<circle cx="1655.9" cy="483.9" r="6.8"/>
<circle cx="1660.9" cy="486.6" r="6.8"/>
<circle cx="1686.3" cy="508.8" r="6.8"/>
<circle cx="1686.0" cy="513.0" r="6.8"/>
<circle cx="1678.0" cy="508.8" r="6.8"/>
<circle cx="1676.8" cy="513.7" r="6.8"/>
<circle cx="1665.6" cy="513.0" r="6.8"/>
<circle cx="1671.1" cy="521.3" r="6.8"/>
<circle cx="1667.4" cy="519.8" r="6.8"/>
<circle cx="1665.6" cy="537.9" r="6.8"/>
<circle cx="1660.1" cy="538.9" r="6.8"/>
<circle cx="1653.1" cy="499.1" r="6.8"/>
<circle cx="1657.6" cy="496.9" r="6.8"/>
<circle cx="1647.6" cy="515.7" r="6.8"/>
<circle cx="1653.0" cy="519.3" r="6.8"/>
<circle cx="1650.3" cy="529.6" r="6.8"/>
<circle cx="1649.9" cy="529.2" r="6.8"/>
<circle cx="1643.4" cy="540.7" r="6.8"/>
<circle cx="1641.1" cy="545.1" r="6.8"/>
<circle cx="1636.5" cy="551.7" r="6.8"/>
<circle cx="1637.5" cy="546.6" r="6.8"/>
<circle cx="1625.4" cy="560.1" r="6.8"/>
<circle cx="1615.7" cy="562.8" r="6.8"/>
<circle cx="1612.4" cy="565.9" r="6.8"/>
<circle cx="1639.3" cy="535.1" r="6.8"/>
<circle cx="1637.7" cy="530.2" r="6.8"/>
<circle cx="1630.9" cy="546.2" r="6.8"/>
<circle cx="1626.6" cy="549.9" r="6.8"/>
<circle cx="1593.5" cy="551.7" r="6.8"/>
<circle cx="1592.2" cy="555.6" r="6.8"/>
<circle cx="1592.2" cy="572.5" r="6.8"/>
<circle cx="1594.3" cy="567.3" r="6.8"/>
<circle cx="1578.3" cy="568.4" r="6.8"/>
<circle cx="1574.6" cy="572.1" r="6.8"/>
<circle cx="1570.0" cy="565.6" r="6.8"/>
<circle cx="1572.3" cy="568.0" r="6.8"/>
<circle cx="1578.3" cy="543.4" r="6.8"/>
<circle cx="1575.0" cy="543.4" r="6.8"/>
<circle cx="1572.8" cy="535.1" r="6.8"/>
<circle cx="1567.9" cy="530.4" r="6.8"/>
<circle cx="1603.2" cy="551.7" r="6.8"/>
<circle cx="1598.3" cy="548.4" r="6.8"/>
<circle cx="1611.6" cy="546.2" r="6.8"/>
<circle cx="1614.4" cy="540.8" r="6.8"/>
<circle cx="1689.1" cy="407.7" r="6.8"/>
<circle cx="1684.6" cy="404.1" r="6.8"/>
<circle cx="1691.9" cy="421.6" r="6.8"/>
<circle cx="1693.2" cy="421.6" r="6.8"/>
<circle cx="1683.6" cy="435.4" r="6.8"/>
<circle cx="1685.8" cy="435.3" r="6.8"/>
<circle cx="1672.5" cy="449.3" r="6.8"/>
<circle cx="1661.4" cy="457.6" r="6.8"/>
<circle cx="1661.1" cy="460.3" r="6.8"/>
<circle cx="1653.1" cy="468.6" r="6.8"/>
<circle cx="1651.0" cy="472.0" r="6.8"/>
<circle cx="1644.8" cy="477.0" r="6.8"/>
<circle cx="1641.5" cy="478.9" r="6.8"/>
<circle cx="1636.5" cy="490.8" r="6.8"/>
<circle cx="1639.3" cy="504.7" r="6.8"/>
<circle cx="1634.2" cy="503.8" r="6.8"/>
<circle cx="1633.7" cy="518.5" r="6.8"/>
<circle cx="1636.7" cy="522.0" r="6.8"/>
<circle cx="1625.4" cy="529.6" r="6.8"/>
<circle cx="1620.8" cy="529.7" r="6.8"/>
<circle cx="1619.9" cy="543.4" r="6.8"/>
<circle cx="1621.3" cy="545.5" r="6.8"/>
<circle cx="1606.0" cy="537.9" r="6.8"/>
<circle cx="1600.7" cy="536.7" r="6.8"/>
<circle cx="1597.7" cy="532.4" r="6.8"/>
<circle cx="1597.7" cy="528.6" r="6.8"/>
<circle cx="1586.6" cy="529.6" r="6.8"/>
<circle cx="1587.0" cy="531.0" r="6.8"/>
<circle cx="1644.8" cy="449.3" r="6.8"/>
<circle cx="1642.1" cy="453.1" r="6.8"/>
<circle cx="1658.6" cy="443.7" r="6.8"/>
<circle cx="1653.9" cy="441.1" r="6.8"/>
<circle cx="1669.7" cy="435.4" r="6.8"/>
<circle cx="1668.9" cy="438.0" r="6.8"/>
<circle cx="1678.0" cy="421.6" r="6.8"/>
<circle cx="1677.6" cy="420.4" r="6.8"/>
<circle cx="1653.1" cy="457.6" r="6.8"/>
<circle cx="1655.4" cy="461.4" r="6.8"/>
<circle cx="1633.7" cy="471.4" r="6.8"/>
<circle cx="1628.5" cy="475.8" r="6.8"/>
<circle cx="1625.4" cy="485.3" r="6.8"/>
</g></g>
<rect x="977.9" y="102.9" width="800.10" height="609.70" fill="none" stroke="#111111" stroke-width="2"/>
<line x1="1080.70" y1="712.6" x2="1080.70" y2="722.1" stroke="#111111" stroke-width="2"/>
<text transform="translate(1080.70,753.20) scale(1.0,1)" font-family='"DejaVu Sans", "Liberation Sans", sans-serif' font-size="26.5" font-weight="normal" text-anchor="middle" fill="#111111">−40</text>
<line x1="1223.90" y1="712.6" x2="1223.90" y2="722.1" stroke="#111111" stroke-width="2"/>
<text transform="translate(1223.90,753.20) scale(1.0,1)" font-family='"DejaVu Sans", "Liberation Sans", sans-serif' font-size="26.5" font-weight="normal" text-anchor="middle" fill="#111111">−20</text>
<line x1="1367.10" y1="712.6" x2="1367.10" y2="722.1" stroke="#111111" stroke-width="2"/>
<text transform="translate(1367.10,753.20) scale(1.0,1)" font-family='"DejaVu Sans", "Liberation Sans", sans-serif' font-size="26.5" font-weight="normal" text-anchor="middle" fill="#111111">0</text>
<line x1="1510.30" y1="712.6" x2="1510.30" y2="722.1" stroke="#111111" stroke-width="2"/>
<text transform="translate(1510.30,753.20) scale(1.0,1)" font-family='"DejaVu Sans", "Liberation Sans", sans-serif' font-size="26.5" font-weight="normal" text-anchor="middle" fill="#111111">20</text>
<line x1="1653.50" y1="712.6" x2="1653.50" y2="722.1" stroke="#111111" stroke-width="2"/>
<text transform="translate(1653.50,753.20) scale(1.0,1)" font-family='"DejaVu Sans", "Liberation Sans", sans-serif' font-size="26.5" font-weight="normal" text-anchor="middle" fill="#111111">40</text>
<line x1="968.4" y1="123.10" x2="977.9" y2="123.10" stroke="#111111" stroke-width="2"/>
<text transform="translate(959.90,133.30) scale(1.0,1)" font-family='"DejaVu Sans", "Liberation Sans", sans-serif' font-size="26.5" font-weight="normal" text-anchor="end" fill="#111111">40</text>
<line x1="968.4" y1="193.40" x2="977.9" y2="193.40" stroke="#111111" stroke-width="2"/>
<text transform="translate(959.90,203.60) scale(1.0,1)" font-family='"DejaVu Sans", "Liberation Sans", sans-serif' font-size="26.5" font-weight="normal" text-anchor="end" fill="#111111">30</text>
<line x1="968.4" y1="263.70" x2="977.9" y2="263.70" stroke="#111111" stroke-width="2"/>
<text transform="translate(959.90,273.90) scale(1.0,1)" font-family='"DejaVu Sans", "Liberation Sans", sans-serif' font-size="26.5" font-weight="normal" text-anchor="end" fill="#111111">20</text>
<line x1="968.4" y1="334.00" x2="977.9" y2="334.00" stroke="#111111" stroke-width="2"/>
<text transform="translate(959.90,344.20) scale(1.0,1)" font-family='"DejaVu Sans", "Liberation Sans", sans-serif' font-size="26.5" font-weight="normal" text-anchor="end" fill="#111111">10</text>
<line x1="968.4" y1="404.30" x2="977.9" y2="404.30" stroke="#111111" stroke-width="2"/>
<text transform="translate(959.90,414.50) scale(1.0,1)" font-family='"DejaVu Sans", "Liberation Sans", sans-serif' font-size="26.5" font-weight="normal" text-anchor="end" fill="#111111">0</text>
<line x1="968.4" y1="474.60" x2="977.9" y2="474.60" stroke="#111111" stroke-width="2"/>
<text transform="translate(959.90,484.80) scale(1.0,1)" font-family='"DejaVu Sans", "Liberation Sans", sans-serif' font-size="26.5" font-weight="normal" text-anchor="end" fill="#111111">−10</text>
<line x1="968.4" y1="544.90" x2="977.9" y2="544.90" stroke="#111111" stroke-width="2"/>
<text transform="translate(959.90,555.10) scale(1.0,1)" font-family='"DejaVu Sans", "Liberation Sans", sans-serif' font-size="26.5" font-weight="normal" text-anchor="end" fill="#111111">−20</text>
<line x1="968.4" y1="615.20" x2="977.9" y2="615.20" stroke="#111111" stroke-width="2"/>
<text transform="translate(959.90,625.40) scale(1.0,1)" font-family='"DejaVu Sans", "Liberation Sans", sans-serif' font-size="26.5" font-weight="normal" text-anchor="end" fill="#111111">−30</text>
<line x1="968.4" y1="685.50" x2="977.9" y2="685.50" stroke="#111111" stroke-width="2"/>
<text transform="translate(959.90,695.70) scale(1.0,1)" font-family='"DejaVu Sans", "Liberation Sans", sans-serif' font-size="26.5" font-weight="normal" text-anchor="end" fill="#111111">−40</text>
<text transform="translate(1378.00,85.50) scale(1.0,1)" font-family='"DejaVu Sans", "Liberation Sans", sans-serif' font-size="31.8" font-weight="normal" text-anchor="middle" fill="#111111">t-SNE Visualization</text>
<rect x="1530.5" y="608.6" width="234.20" height="90.60" rx="5" ry="5" fill="#ffffff" fill-opacity="0.8" stroke="#d0d0d0" stroke-width="2"/>
<g filter="url(#soft)"><ellipse cx="1568.00" cy="634.20" rx="5.60" ry="5.9" fill="#0000ff"/>
<ellipse cx="1568.00" cy="674.80" rx="6.90" ry="7.2" fill="#ff00ff"/></g>
<text transform="translate(1615.00,641.90) scale(1.0,1)" font-family='"DejaVu Sans", "Liberation Sans", sans-serif' font-size="26.5" font-weight="normal" text-anchor="start" fill="#111111">5hmC</text>
<text transform="translate(1615.00,682.10) scale(1.0,1)" font-family='"DejaVu Sans", "Liberation Sans", sans-serif' font-size="26.5" font-weight="normal" text-anchor="start" fill="#111111">Non-5hmC</text>
</g>
</svg>
</body>
</html>
